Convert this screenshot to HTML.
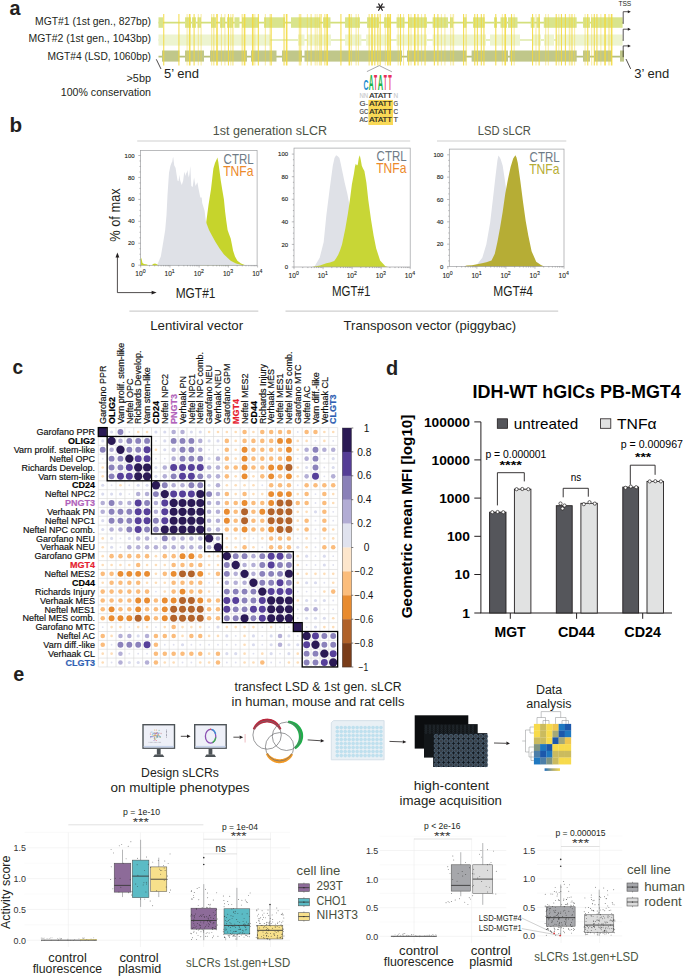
<!DOCTYPE html>
<html><head><meta charset="utf-8"><title>Figure</title>
<style>
html,body{margin:0;padding:0;background:#ffffff;}
body{width:685px;height:976px;overflow:hidden;}
svg{display:block;font-family:"Liberation Sans", sans-serif;}
</style></head><body>
<svg width="685" height="976" viewBox="0 0 685 976">
<rect x="0" y="0" width="685" height="976" fill="#ffffff"/>
<text x="9.60" y="15.00" font-size="21" fill="#231f20" font-weight="bold" textLength="11.00" lengthAdjust="spacingAndGlyphs" >a</text>
<text x="9.40" y="131.50" font-size="21" fill="#231f20" font-weight="bold" textLength="12.60" lengthAdjust="spacingAndGlyphs" >b</text>
<text x="12.60" y="374.00" font-size="21" fill="#231f20" font-weight="bold" textLength="10.60" lengthAdjust="spacingAndGlyphs" >c</text>
<text x="385.90" y="374.50" font-size="21" fill="#231f20" font-weight="bold" textLength="12.20" lengthAdjust="spacingAndGlyphs" >d</text>
<text x="13.20" y="681.00" font-size="21" fill="#231f20" font-weight="bold" textLength="11.00" lengthAdjust="spacingAndGlyphs" >e</text>
<text x="151.00" y="25.30" font-size="10.2" fill="#231f20" text-anchor="end" textLength="116.00" lengthAdjust="spacingAndGlyphs" >MGT#1 (1st gen., 827bp)</text>
<text x="151.00" y="42.20" font-size="10.2" fill="#231f20" text-anchor="end" textLength="122.50" lengthAdjust="spacingAndGlyphs" >MGT#2 (1st gen., 1043bp)</text>
<text x="151.00" y="59.60" font-size="10.2" fill="#231f20" text-anchor="end" textLength="103.40" lengthAdjust="spacingAndGlyphs" >MGT#4 (LSD, 1060bp)</text>
<text x="151.00" y="81.90" font-size="10.2" fill="#231f20" text-anchor="end" textLength="24.50" lengthAdjust="spacingAndGlyphs" >&gt;5bp</text>
<text x="151.00" y="96.30" font-size="10.2" fill="#231f20" text-anchor="end" textLength="90.20" lengthAdjust="spacingAndGlyphs" >100% conservation</text>
<line x1="158.50" y1="22.60" x2="623.00" y2="22.60" stroke="#d3df7c" stroke-width="1.8" />
<line x1="158.50" y1="40.00" x2="623.00" y2="40.00" stroke="#e6eebd" stroke-width="1.8" />
<line x1="158.50" y1="56.60" x2="624.00" y2="56.60" stroke="#b7c07c" stroke-width="1.8" />
<rect x="158.50" y="17.30" width="4.50" height="10.50" fill="#d9e48c" stroke="none" stroke-width="1" />
<rect x="185.00" y="17.30" width="6.00" height="10.50" fill="#d9e48c" stroke="none" stroke-width="1" />
<rect x="192.00" y="17.30" width="4.00" height="10.50" fill="#d9e48c" stroke="none" stroke-width="1" />
<rect x="197.50" y="17.30" width="3.50" height="10.50" fill="#d9e48c" stroke="none" stroke-width="1" />
<rect x="211.00" y="17.30" width="5.00" height="10.50" fill="#d9e48c" stroke="none" stroke-width="1" />
<rect x="220.00" y="17.30" width="5.00" height="10.50" fill="#d9e48c" stroke="none" stroke-width="1" />
<rect x="227.00" y="17.30" width="6.00" height="10.50" fill="#d9e48c" stroke="none" stroke-width="1" />
<rect x="234.50" y="17.30" width="5.00" height="10.50" fill="#d9e48c" stroke="none" stroke-width="1" />
<rect x="242.00" y="17.30" width="17.00" height="10.50" fill="#d9e48c" stroke="none" stroke-width="1" />
<rect x="264.00" y="17.30" width="21.00" height="10.50" fill="#d9e48c" stroke="none" stroke-width="1" />
<rect x="291.00" y="17.30" width="29.50" height="10.50" fill="#d9e48c" stroke="none" stroke-width="1" />
<rect x="323.00" y="17.30" width="7.50" height="10.50" fill="#d9e48c" stroke="none" stroke-width="1" />
<rect x="345.00" y="17.30" width="15.00" height="10.50" fill="#d9e48c" stroke="none" stroke-width="1" />
<rect x="367.00" y="17.30" width="12.00" height="10.50" fill="#d9e48c" stroke="none" stroke-width="1" />
<rect x="384.00" y="17.30" width="6.60" height="10.50" fill="#d9e48c" stroke="none" stroke-width="1" />
<rect x="396.50" y="17.30" width="8.10" height="10.50" fill="#d9e48c" stroke="none" stroke-width="1" />
<rect x="408.00" y="17.30" width="19.00" height="10.50" fill="#d9e48c" stroke="none" stroke-width="1" />
<rect x="432.60" y="17.30" width="15.40" height="10.50" fill="#d9e48c" stroke="none" stroke-width="1" />
<rect x="450.00" y="17.30" width="3.00" height="10.50" fill="#d9e48c" stroke="none" stroke-width="1" />
<rect x="463.00" y="17.30" width="3.50" height="10.50" fill="#d9e48c" stroke="none" stroke-width="1" />
<rect x="473.00" y="17.30" width="11.70" height="10.50" fill="#d9e48c" stroke="none" stroke-width="1" />
<rect x="494.00" y="17.30" width="3.00" height="10.50" fill="#d9e48c" stroke="none" stroke-width="1" />
<rect x="500.50" y="17.30" width="6.50" height="10.50" fill="#d9e48c" stroke="none" stroke-width="1" />
<rect x="508.00" y="17.30" width="9.50" height="10.50" fill="#d9e48c" stroke="none" stroke-width="1" />
<rect x="530.70" y="17.30" width="3.90" height="10.50" fill="#d9e48c" stroke="none" stroke-width="1" />
<rect x="536.50" y="17.30" width="3.50" height="10.50" fill="#d9e48c" stroke="none" stroke-width="1" />
<rect x="543.80" y="17.30" width="32.90" height="10.50" fill="#d9e48c" stroke="none" stroke-width="1" />
<rect x="583.00" y="17.30" width="7.00" height="10.50" fill="#d9e48c" stroke="none" stroke-width="1" />
<rect x="591.00" y="17.30" width="31.60" height="10.50" fill="#d9e48c" stroke="none" stroke-width="1" />
<rect x="158.50" y="34.50" width="112.10" height="11.10" fill="#edf4d0" stroke="none" stroke-width="1" />
<rect x="298.00" y="34.50" width="6.50" height="11.10" fill="#edf4d0" stroke="none" stroke-width="1" />
<rect x="306.90" y="34.50" width="24.10" height="11.10" fill="#edf4d0" stroke="none" stroke-width="1" />
<rect x="345.00" y="34.50" width="16.40" height="11.10" fill="#edf4d0" stroke="none" stroke-width="1" />
<rect x="366.00" y="34.50" width="24.60" height="11.10" fill="#edf4d0" stroke="none" stroke-width="1" />
<rect x="396.50" y="34.50" width="30.50" height="11.10" fill="#edf4d0" stroke="none" stroke-width="1" />
<rect x="432.60" y="34.50" width="53.40" height="11.10" fill="#edf4d0" stroke="none" stroke-width="1" />
<rect x="490.00" y="34.50" width="30.00" height="11.10" fill="#edf4d0" stroke="none" stroke-width="1" />
<rect x="532.00" y="34.50" width="9.00" height="11.10" fill="#edf4d0" stroke="none" stroke-width="1" />
<rect x="544.00" y="34.50" width="10.00" height="11.10" fill="#edf4d0" stroke="none" stroke-width="1" />
<rect x="555.60" y="34.50" width="67.00" height="11.10" fill="#edf4d0" stroke="none" stroke-width="1" />
<rect x="162.00" y="50.50" width="17.50" height="11.10" fill="#c0c78a" stroke="none" stroke-width="1" />
<rect x="185.00" y="50.50" width="19.00" height="11.10" fill="#c0c78a" stroke="none" stroke-width="1" />
<rect x="210.00" y="50.50" width="37.00" height="11.10" fill="#c0c78a" stroke="none" stroke-width="1" />
<rect x="251.00" y="50.50" width="25.50" height="11.10" fill="#c0c78a" stroke="none" stroke-width="1" />
<rect x="282.00" y="50.50" width="20.00" height="11.10" fill="#c0c78a" stroke="none" stroke-width="1" />
<rect x="304.50" y="50.50" width="97.50" height="11.10" fill="#c0c78a" stroke="none" stroke-width="1" />
<rect x="407.00" y="50.50" width="59.50" height="11.10" fill="#c0c78a" stroke="none" stroke-width="1" />
<rect x="471.60" y="50.50" width="36.40" height="11.10" fill="#c0c78a" stroke="none" stroke-width="1" />
<rect x="509.70" y="50.50" width="67.00" height="11.10" fill="#c0c78a" stroke="none" stroke-width="1" />
<rect x="583.00" y="50.50" width="7.00" height="11.10" fill="#c0c78a" stroke="none" stroke-width="1" />
<rect x="594.00" y="50.50" width="18.00" height="11.10" fill="#c0c78a" stroke="none" stroke-width="1" />
<rect x="620.00" y="50.50" width="4.00" height="11.10" fill="#c0c78a" stroke="none" stroke-width="1" />
<rect x="163.18" y="14" width="1.1" height="51.5" fill="#f2d83a" opacity="0.85"/>
<rect x="178.36" y="14" width="1.1" height="51.5" fill="#f2d83a" opacity="0.85"/>
<rect x="186.54" y="14" width="1.1" height="51.5" fill="#f2d83a" opacity="0.45"/>
<rect x="188.88" y="14" width="1.6" height="51.5" fill="#f2d83a" opacity="0.85"/>
<rect x="193.55" y="14" width="1.1" height="51.5" fill="#f2d83a" opacity="0.85"/>
<rect x="197.76" y="14" width="1.1" height="51.5" fill="#f2d83a" opacity="0.45"/>
<rect x="200.56" y="14" width="1.1" height="51.5" fill="#f2d83a" opacity="0.45"/>
<rect x="211.07" y="14" width="1.1" height="51.5" fill="#f2d83a" opacity="0.45"/>
<rect x="212.94" y="14" width="1.6" height="51.5" fill="#f2d83a" opacity="0.45"/>
<rect x="216.21" y="14" width="1.6" height="51.5" fill="#f2d83a" opacity="0.85"/>
<rect x="220.89" y="14" width="1.1" height="51.5" fill="#f2d83a" opacity="0.45"/>
<rect x="224.39" y="14" width="1.1" height="51.5" fill="#f2d83a" opacity="0.45"/>
<rect x="227.90" y="14" width="1.1" height="51.5" fill="#f2d83a" opacity="0.85"/>
<rect x="230.23" y="14" width="1.1" height="51.5" fill="#f2d83a" opacity="0.45"/>
<rect x="232.10" y="14" width="1.6" height="51.5" fill="#f2d83a" opacity="0.45"/>
<rect x="241.45" y="14" width="1.6" height="51.5" fill="#f2d83a" opacity="0.45"/>
<rect x="243.79" y="14" width="1.6" height="51.5" fill="#f2d83a" opacity="0.85"/>
<rect x="251.96" y="14" width="1.6" height="51.5" fill="#f2d83a" opacity="0.85"/>
<rect x="254.30" y="14" width="1.1" height="51.5" fill="#f2d83a" opacity="0.45"/>
<rect x="257.80" y="14" width="1.1" height="51.5" fill="#f2d83a" opacity="0.85"/>
<rect x="264.81" y="14" width="1.1" height="51.5" fill="#f2d83a" opacity="0.45"/>
<rect x="269.49" y="14" width="1.1" height="51.5" fill="#f2d83a" opacity="0.45"/>
<rect x="270.65" y="14" width="1.1" height="51.5" fill="#f2d83a" opacity="0.85"/>
<rect x="283.50" y="14" width="1.1" height="51.5" fill="#f2d83a" opacity="0.85"/>
<rect x="285.84" y="14" width="1.6" height="51.5" fill="#f2d83a" opacity="0.85"/>
<rect x="298.69" y="14" width="1.6" height="51.5" fill="#f2d83a" opacity="0.45"/>
<rect x="299.86" y="14" width="1.6" height="51.5" fill="#f2d83a" opacity="0.45"/>
<rect x="306.87" y="14" width="1.1" height="51.5" fill="#f2d83a" opacity="0.45"/>
<rect x="310.37" y="14" width="1.6" height="51.5" fill="#f2d83a" opacity="0.45"/>
<rect x="314.67" y="14" width="1.1" height="51.5" fill="#f2d83a" opacity="0.45"/>
<rect x="316.54" y="14" width="1.1" height="51.5" fill="#f2d83a" opacity="0.45"/>
<rect x="318.88" y="14" width="1.1" height="51.5" fill="#f2d83a" opacity="0.45"/>
<rect x="320.51" y="14" width="1.1" height="51.5" fill="#f2d83a" opacity="0.85"/>
<rect x="324.02" y="14" width="1.6" height="51.5" fill="#f2d83a" opacity="0.45"/>
<rect x="326.36" y="14" width="1.6" height="51.5" fill="#f2d83a" opacity="0.85"/>
<rect x="340.37" y="14" width="1.1" height="51.5" fill="#f2d83a" opacity="0.85"/>
<rect x="348.55" y="14" width="1.6" height="51.5" fill="#f2d83a" opacity="0.85"/>
<rect x="350.89" y="14" width="1.1" height="51.5" fill="#f2d83a" opacity="0.45"/>
<rect x="355.56" y="14" width="1.1" height="51.5" fill="#f2d83a" opacity="0.45"/>
<rect x="357.90" y="14" width="1.1" height="51.5" fill="#f2d83a" opacity="0.45"/>
<rect x="368.41" y="14" width="1.6" height="51.5" fill="#f2d83a" opacity="0.45"/>
<rect x="371.21" y="14" width="1.6" height="51.5" fill="#f2d83a" opacity="0.85"/>
<rect x="374.25" y="14" width="1.1" height="51.5" fill="#f2d83a" opacity="0.85"/>
<rect x="377.29" y="14" width="1.1" height="51.5" fill="#f2d83a" opacity="0.85"/>
<rect x="379.63" y="14" width="1.1" height="51.5" fill="#f2d83a" opacity="0.85"/>
<rect x="384.77" y="14" width="1.1" height="51.5" fill="#f2d83a" opacity="0.45"/>
<rect x="387.10" y="14" width="1.6" height="51.5" fill="#f2d83a" opacity="0.85"/>
<rect x="389.44" y="14" width="1.6" height="51.5" fill="#f2d83a" opacity="0.85"/>
<rect x="397.62" y="14" width="1.1" height="51.5" fill="#f2d83a" opacity="0.45"/>
<rect x="399.95" y="14" width="1.1" height="51.5" fill="#f2d83a" opacity="0.85"/>
<rect x="402.99" y="14" width="1.1" height="51.5" fill="#f2d83a" opacity="0.45"/>
<rect x="408.13" y="14" width="1.1" height="51.5" fill="#f2d83a" opacity="0.85"/>
<rect x="410.47" y="14" width="1.1" height="51.5" fill="#f2d83a" opacity="0.45"/>
<rect x="413.97" y="14" width="1.6" height="51.5" fill="#f2d83a" opacity="0.85"/>
<rect x="417.48" y="14" width="1.1" height="51.5" fill="#f2d83a" opacity="0.85"/>
<rect x="420.98" y="14" width="1.1" height="51.5" fill="#f2d83a" opacity="0.45"/>
<rect x="424.49" y="14" width="1.1" height="51.5" fill="#f2d83a" opacity="0.85"/>
<rect x="433.83" y="14" width="1.1" height="51.5" fill="#f2d83a" opacity="0.85"/>
<rect x="437.34" y="14" width="1.1" height="51.5" fill="#f2d83a" opacity="0.85"/>
<rect x="440.84" y="14" width="1.1" height="51.5" fill="#f2d83a" opacity="0.45"/>
<rect x="444.35" y="14" width="1.1" height="51.5" fill="#f2d83a" opacity="0.45"/>
<rect x="450.19" y="14" width="1.1" height="51.5" fill="#f2d83a" opacity="0.45"/>
<rect x="452.52" y="14" width="1.6" height="51.5" fill="#f2d83a" opacity="0.45"/>
<rect x="463.04" y="14" width="1.1" height="51.5" fill="#f2d83a" opacity="0.85"/>
<rect x="465.37" y="14" width="1.6" height="51.5" fill="#f2d83a" opacity="0.45"/>
<rect x="474.20" y="14" width="1.1" height="51.5" fill="#f2d83a" opacity="0.85"/>
<rect x="476.82" y="14" width="1.1" height="51.5" fill="#f2d83a" opacity="0.85"/>
<rect x="480.76" y="14" width="1.1" height="51.5" fill="#f2d83a" opacity="0.85"/>
<rect x="483.39" y="14" width="1.1" height="51.5" fill="#f2d83a" opacity="0.85"/>
<rect x="495.22" y="14" width="1.1" height="51.5" fill="#f2d83a" opacity="0.85"/>
<rect x="501.78" y="14" width="1.1" height="51.5" fill="#f2d83a" opacity="0.45"/>
<rect x="504.41" y="14" width="1.6" height="51.5" fill="#f2d83a" opacity="0.85"/>
<rect x="510.98" y="14" width="1.1" height="51.5" fill="#f2d83a" opacity="0.85"/>
<rect x="513.61" y="14" width="1.1" height="51.5" fill="#f2d83a" opacity="0.45"/>
<rect x="532.00" y="14" width="1.1" height="51.5" fill="#f2d83a" opacity="0.85"/>
<rect x="535.42" y="14" width="1.1" height="51.5" fill="#f2d83a" opacity="0.45"/>
<rect x="538.57" y="14" width="1.1" height="51.5" fill="#f2d83a" opacity="0.85"/>
<rect x="545.14" y="14" width="1.1" height="51.5" fill="#f2d83a" opacity="0.45"/>
<rect x="547.76" y="14" width="1.1" height="51.5" fill="#f2d83a" opacity="0.45"/>
<rect x="555.65" y="14" width="1.1" height="51.5" fill="#f2d83a" opacity="0.85"/>
<rect x="558.27" y="14" width="1.1" height="51.5" fill="#f2d83a" opacity="0.45"/>
<rect x="560.90" y="14" width="1.1" height="51.5" fill="#f2d83a" opacity="0.85"/>
<rect x="564.84" y="14" width="1.1" height="51.5" fill="#f2d83a" opacity="0.85"/>
<rect x="568.78" y="14" width="1.6" height="51.5" fill="#f2d83a" opacity="0.45"/>
<rect x="571.41" y="14" width="1.1" height="51.5" fill="#f2d83a" opacity="0.85"/>
<rect x="574.04" y="14" width="1.1" height="51.5" fill="#f2d83a" opacity="0.45"/>
<rect x="584.55" y="14" width="1.1" height="51.5" fill="#f2d83a" opacity="0.45"/>
<rect x="587.18" y="14" width="1.1" height="51.5" fill="#f2d83a" opacity="0.85"/>
<rect x="591.12" y="14" width="1.1" height="51.5" fill="#f2d83a" opacity="0.45"/>
<rect x="593.74" y="14" width="1.1" height="51.5" fill="#f2d83a" opacity="0.85"/>
<rect x="596.37" y="14" width="1.1" height="51.5" fill="#f2d83a" opacity="0.85"/>
<rect x="600.31" y="14" width="1.1" height="51.5" fill="#f2d83a" opacity="0.45"/>
<rect x="604.25" y="14" width="1.6" height="51.5" fill="#f2d83a" opacity="0.85"/>
<rect x="608.19" y="14" width="1.6" height="51.5" fill="#f2d83a" opacity="0.45"/>
<rect x="610.82" y="14" width="1.6" height="51.5" fill="#f2d83a" opacity="0.85"/>
<path d="M623.2,23.9 L623.2,11.7 L628.5,11.7" fill="none" stroke="#231f20" stroke-width="0.75"/>
<path d="M630.8,11.7 L627.8,10.2 L627.8,13.2 Z" fill="#231f20"/>
<path d="M623.2,40.9 L623.2,29.2 L628.5,29.2" fill="none" stroke="#231f20" stroke-width="0.75"/>
<path d="M630.8,29.2 L627.8,27.7 L627.8,30.7 Z" fill="#231f20"/>
<path d="M623.2,57.2 L623.2,45.9 L628.5,45.9" fill="none" stroke="#231f20" stroke-width="0.75"/>
<path d="M630.8,45.9 L627.8,44.4 L627.8,47.4 Z" fill="#231f20"/>
<text x="618.40" y="6.00" font-size="8.0" fill="#231f20" textLength="12.90" lengthAdjust="spacingAndGlyphs" >TSS</text>
<line x1="156.30" y1="59.30" x2="161.00" y2="69.00" stroke="#231f20" stroke-width="0.8" />
<text x="164.00" y="77.70" font-size="12" fill="#231f20" textLength="35.00" lengthAdjust="spacingAndGlyphs" >5’ end</text>
<line x1="626.00" y1="59.00" x2="630.70" y2="68.90" stroke="#231f20" stroke-width="0.8" />
<text x="634.20" y="77.70" font-size="12" fill="#231f20" textLength="35.00" lengthAdjust="spacingAndGlyphs" >3’ end</text>
<line x1="376.80" y1="7.10" x2="384.20" y2="7.10" stroke="#231f20" stroke-width="1.2" stroke-linecap="round"/>
<line x1="378.65" y1="3.90" x2="382.35" y2="10.30" stroke="#231f20" stroke-width="1.2" stroke-linecap="round"/>
<line x1="382.35" y1="3.90" x2="378.65" y2="10.30" stroke="#231f20" stroke-width="1.2" stroke-linecap="round"/>
<path d="M366.9,71.6 L379.3,65.6 L391.9,71.8" fill="none" stroke="#6d6e71" stroke-width="0.6"/>
<text x="0" y="0" font-size="10" font-weight="bold" fill="#1f8fd0" text-anchor="middle" transform="translate(366.10,90.10) scale(0.687,1.486)">C</text>
<text x="0" y="0" font-size="10" font-weight="bold" fill="#1db34a" text-anchor="middle" transform="translate(371.20,90.10) scale(0.687,2.125)">A</text>
<text x="0" y="0" font-size="10" font-weight="bold" fill="#e8305a" text-anchor="middle" transform="translate(375.50,90.10) scale(0.507,2.125)">T</text>
<text x="0" y="0" font-size="10" font-weight="bold" fill="#1db34a" text-anchor="middle" transform="translate(380.50,90.10) scale(0.746,2.125)">A</text>
<text x="0" y="0" font-size="10" font-weight="bold" fill="#e8305a" text-anchor="middle" transform="translate(385.30,90.10) scale(0.507,2.125)">T</text>
<text x="0" y="0" font-size="10" font-weight="bold" fill="#e8305a" text-anchor="middle" transform="translate(390.10,90.10) scale(0.567,2.125)">T</text>
<rect x="368.40" y="99.90" width="24.60" height="25.10" fill="#f9d956" stroke="none" stroke-width="1" />
<text x="368.10" y="98.20" font-size="7.4" fill="#c8c9cc" text-anchor="end" textLength="8.60" lengthAdjust="spacingAndGlyphs" stroke="#c8c9cc" stroke-width="0.15">NN</text>
<text x="369.20" y="98.20" font-size="7.4" fill="#231f20" textLength="22.80" lengthAdjust="spacingAndGlyphs" stroke="#231f20" stroke-width="0.2">ATATT</text>
<text x="393.60" y="98.20" font-size="7.4" fill="#c8c9cc" textLength="4.60" lengthAdjust="spacingAndGlyphs" stroke="#c8c9cc" stroke-width="0.15">N</text>
<text x="368.10" y="106.20" font-size="7.4" fill="#3d3d3d" text-anchor="end" textLength="8.60" lengthAdjust="spacingAndGlyphs" stroke="#3d3d3d" stroke-width="0.15">G-</text>
<text x="369.20" y="106.20" font-size="7.4" fill="#231f20" textLength="22.80" lengthAdjust="spacingAndGlyphs" stroke="#231f20" stroke-width="0.2">ATATT</text>
<text x="393.60" y="106.20" font-size="7.4" fill="#3d3d3d" textLength="4.60" lengthAdjust="spacingAndGlyphs" stroke="#3d3d3d" stroke-width="0.15">G</text>
<text x="368.10" y="113.90" font-size="7.4" fill="#3d3d3d" text-anchor="end" textLength="8.60" lengthAdjust="spacingAndGlyphs" stroke="#3d3d3d" stroke-width="0.15">GC</text>
<text x="369.20" y="113.90" font-size="7.4" fill="#231f20" textLength="22.80" lengthAdjust="spacingAndGlyphs" stroke="#231f20" stroke-width="0.2">ATATT</text>
<text x="393.60" y="113.90" font-size="7.4" fill="#3d3d3d" textLength="4.60" lengthAdjust="spacingAndGlyphs" stroke="#3d3d3d" stroke-width="0.15">C</text>
<text x="368.10" y="121.60" font-size="7.4" fill="#3d3d3d" text-anchor="end" textLength="8.60" lengthAdjust="spacingAndGlyphs" stroke="#3d3d3d" stroke-width="0.15">AC</text>
<text x="369.20" y="121.60" font-size="7.4" fill="#231f20" textLength="22.80" lengthAdjust="spacingAndGlyphs" stroke="#231f20" stroke-width="0.2">ATATT</text>
<text x="393.60" y="121.60" font-size="7.4" fill="#3d3d3d" textLength="4.60" lengthAdjust="spacingAndGlyphs" stroke="#3d3d3d" stroke-width="0.15">T</text>
<text x="212.80" y="134.60" font-size="13.2" fill="#4d5346" textLength="114.40" lengthAdjust="spacingAndGlyphs" >1st generation sLCR</text>
<text x="477.80" y="135.10" font-size="13.2" fill="#4d5346" textLength="53.10" lengthAdjust="spacingAndGlyphs" >LSD sLCR</text>
<line x1="137.20" y1="141.00" x2="410.20" y2="141.00" stroke="#cfcfcf" stroke-width="1.2" />
<line x1="437.00" y1="141.00" x2="566.30" y2="141.00" stroke="#cfcfcf" stroke-width="1.2" />
<line x1="129.40" y1="311.10" x2="258.30" y2="311.10" stroke="#cfcfcf" stroke-width="1.2" />
<line x1="285.50" y1="311.10" x2="558.20" y2="311.10" stroke="#cfcfcf" stroke-width="1.2" />
<text x="150.20" y="329.50" font-size="12.8" fill="#231f20" textLength="93.00" lengthAdjust="spacingAndGlyphs" >Lentiviral vector</text>
<text x="343.60" y="329.50" font-size="12.8" fill="#231f20" textLength="172.60" lengthAdjust="spacingAndGlyphs" >Transposon vector (piggybac)</text>
<rect x="140.50" y="150.40" width="116.60" height="114.90" fill="#ffffff" stroke="none"/>
<path d="M200.00,265.30 L206.00,224.00 L208.50,205.00 L211.00,189.30 L212.30,178.00 L213.40,168.40 L215.00,163.00 L216.40,160.00 L217.40,157.60 L218.30,162.00 L219.40,170.00 L220.80,180.70 L222.30,190.00 L223.90,199.20 L225.10,211.50 L226.30,221.00 L227.60,229.90 L229.00,234.00 L230.70,238.50 L232.00,245.00 L233.10,250.80 L235.00,256.50 L237.40,260.70 L241.00,263.50 L245.40,265.30 Z" fill="#c6d42c" />
<path d="M156.50,265.30 L157.10,265.20 L160.80,256.60 L163.30,241.70 L165.20,230.00 L166.50,215.00 L167.50,195.00 L169.00,172.80 L170.40,166.10 L171.50,163.00 L172.30,161.40 L172.80,158.00 L173.20,157.10 L173.60,160.00 L174.20,165.20 L175.60,168.00 L176.50,174.00 L177.50,180.40 L178.50,181.30 L179.00,178.00 L179.40,174.70 L179.90,179.00 L180.40,181.30 L181.80,185.10 L183.20,180.40 L184.00,174.00 L184.60,171.80 L185.30,176.00 L186.00,173.70 L187.00,172.00 L187.50,169.90 L188.20,175.00 L188.90,177.50 L189.70,172.00 L190.30,166.10 L190.80,175.00 L191.30,186.10 L192.70,187.00 L193.50,181.00 L194.10,177.50 L194.80,182.00 L195.50,186.10 L196.50,184.00 L197.40,182.30 L198.40,188.00 L200.30,197.40 L201.70,197.40 L202.20,203.10 L204.60,210.70 L206.00,222.10 L209.00,230.00 L212.20,236.00 L215.50,242.00 L219.60,248.40 L224.00,254.50 L230.70,260.70 L236.00,263.50 L243.00,265.20 Z" fill="#dfe1e7" />
<rect x="140.50" y="150.40" width="116.60" height="114.90" fill="none" stroke="#9d9fa2" stroke-width="0.7"/>
<line x1="138.30" y1="265.20" x2="140.50" y2="265.20" stroke="#6d6e71" stroke-width="0.45" />
<line x1="139.40" y1="259.71" x2="140.50" y2="259.71" stroke="#6d6e71" stroke-width="0.45" />
<line x1="139.40" y1="254.23" x2="140.50" y2="254.23" stroke="#6d6e71" stroke-width="0.45" />
<line x1="139.40" y1="248.75" x2="140.50" y2="248.75" stroke="#6d6e71" stroke-width="0.45" />
<line x1="138.30" y1="243.26" x2="140.50" y2="243.26" stroke="#6d6e71" stroke-width="0.45" />
<line x1="139.40" y1="237.77" x2="140.50" y2="237.77" stroke="#6d6e71" stroke-width="0.45" />
<line x1="139.40" y1="232.29" x2="140.50" y2="232.29" stroke="#6d6e71" stroke-width="0.45" />
<line x1="139.40" y1="226.81" x2="140.50" y2="226.81" stroke="#6d6e71" stroke-width="0.45" />
<line x1="138.30" y1="221.32" x2="140.50" y2="221.32" stroke="#6d6e71" stroke-width="0.45" />
<line x1="139.40" y1="215.84" x2="140.50" y2="215.84" stroke="#6d6e71" stroke-width="0.45" />
<line x1="139.40" y1="210.35" x2="140.50" y2="210.35" stroke="#6d6e71" stroke-width="0.45" />
<line x1="139.40" y1="204.87" x2="140.50" y2="204.87" stroke="#6d6e71" stroke-width="0.45" />
<line x1="138.30" y1="199.38" x2="140.50" y2="199.38" stroke="#6d6e71" stroke-width="0.45" />
<line x1="139.40" y1="193.89" x2="140.50" y2="193.89" stroke="#6d6e71" stroke-width="0.45" />
<line x1="139.40" y1="188.41" x2="140.50" y2="188.41" stroke="#6d6e71" stroke-width="0.45" />
<line x1="139.40" y1="182.92" x2="140.50" y2="182.92" stroke="#6d6e71" stroke-width="0.45" />
<line x1="138.30" y1="177.44" x2="140.50" y2="177.44" stroke="#6d6e71" stroke-width="0.45" />
<line x1="139.40" y1="171.96" x2="140.50" y2="171.96" stroke="#6d6e71" stroke-width="0.45" />
<line x1="139.40" y1="166.47" x2="140.50" y2="166.47" stroke="#6d6e71" stroke-width="0.45" />
<line x1="139.40" y1="160.99" x2="140.50" y2="160.99" stroke="#6d6e71" stroke-width="0.45" />
<line x1="138.30" y1="155.50" x2="140.50" y2="155.50" stroke="#6d6e71" stroke-width="0.45" />
<text x="134.60" y="267.30" font-size="6.0" fill="#231f20" text-anchor="end" stroke="#231f20" stroke-width="0.12">0</text>
<text x="134.60" y="245.36" font-size="6.0" fill="#231f20" text-anchor="end" stroke="#231f20" stroke-width="0.12">20</text>
<text x="134.60" y="223.42" font-size="6.0" fill="#231f20" text-anchor="end" stroke="#231f20" stroke-width="0.12">40</text>
<text x="134.60" y="201.48" font-size="6.0" fill="#231f20" text-anchor="end" stroke="#231f20" stroke-width="0.12">60</text>
<text x="134.60" y="179.54" font-size="6.0" fill="#231f20" text-anchor="end" stroke="#231f20" stroke-width="0.12">80</text>
<text x="134.60" y="157.60" font-size="6.0" fill="#231f20" text-anchor="end" stroke="#231f20" stroke-width="0.12">100</text>
<line x1="140.70" y1="265.30" x2="140.70" y2="267.50" stroke="#6d6e71" stroke-width="0.45" />
<line x1="149.50" y1="265.30" x2="149.50" y2="266.40" stroke="#6d6e71" stroke-width="0.45" />
<line x1="154.64" y1="265.30" x2="154.64" y2="266.40" stroke="#6d6e71" stroke-width="0.45" />
<line x1="158.29" y1="265.30" x2="158.29" y2="266.40" stroke="#6d6e71" stroke-width="0.45" />
<line x1="161.12" y1="265.30" x2="161.12" y2="266.40" stroke="#6d6e71" stroke-width="0.45" />
<line x1="163.44" y1="265.30" x2="163.44" y2="266.40" stroke="#6d6e71" stroke-width="0.45" />
<line x1="165.39" y1="265.30" x2="165.39" y2="266.40" stroke="#6d6e71" stroke-width="0.45" />
<line x1="167.09" y1="265.30" x2="167.09" y2="266.40" stroke="#6d6e71" stroke-width="0.45" />
<line x1="168.58" y1="265.30" x2="168.58" y2="266.40" stroke="#6d6e71" stroke-width="0.45" />
<line x1="169.92" y1="265.30" x2="169.92" y2="267.50" stroke="#6d6e71" stroke-width="0.45" />
<line x1="178.72" y1="265.30" x2="178.72" y2="266.40" stroke="#6d6e71" stroke-width="0.45" />
<line x1="183.86" y1="265.30" x2="183.86" y2="266.40" stroke="#6d6e71" stroke-width="0.45" />
<line x1="187.51" y1="265.30" x2="187.51" y2="266.40" stroke="#6d6e71" stroke-width="0.45" />
<line x1="190.34" y1="265.30" x2="190.34" y2="266.40" stroke="#6d6e71" stroke-width="0.45" />
<line x1="192.66" y1="265.30" x2="192.66" y2="266.40" stroke="#6d6e71" stroke-width="0.45" />
<line x1="194.61" y1="265.30" x2="194.61" y2="266.40" stroke="#6d6e71" stroke-width="0.45" />
<line x1="196.31" y1="265.30" x2="196.31" y2="266.40" stroke="#6d6e71" stroke-width="0.45" />
<line x1="197.80" y1="265.30" x2="197.80" y2="266.40" stroke="#6d6e71" stroke-width="0.45" />
<line x1="199.14" y1="265.30" x2="199.14" y2="267.50" stroke="#6d6e71" stroke-width="0.45" />
<line x1="207.94" y1="265.30" x2="207.94" y2="266.40" stroke="#6d6e71" stroke-width="0.45" />
<line x1="213.08" y1="265.30" x2="213.08" y2="266.40" stroke="#6d6e71" stroke-width="0.45" />
<line x1="216.73" y1="265.30" x2="216.73" y2="266.40" stroke="#6d6e71" stroke-width="0.45" />
<line x1="219.56" y1="265.30" x2="219.56" y2="266.40" stroke="#6d6e71" stroke-width="0.45" />
<line x1="221.88" y1="265.30" x2="221.88" y2="266.40" stroke="#6d6e71" stroke-width="0.45" />
<line x1="223.83" y1="265.30" x2="223.83" y2="266.40" stroke="#6d6e71" stroke-width="0.45" />
<line x1="225.53" y1="265.30" x2="225.53" y2="266.40" stroke="#6d6e71" stroke-width="0.45" />
<line x1="227.02" y1="265.30" x2="227.02" y2="266.40" stroke="#6d6e71" stroke-width="0.45" />
<line x1="228.36" y1="265.30" x2="228.36" y2="267.50" stroke="#6d6e71" stroke-width="0.45" />
<line x1="237.16" y1="265.30" x2="237.16" y2="266.40" stroke="#6d6e71" stroke-width="0.45" />
<line x1="242.30" y1="265.30" x2="242.30" y2="266.40" stroke="#6d6e71" stroke-width="0.45" />
<line x1="245.95" y1="265.30" x2="245.95" y2="266.40" stroke="#6d6e71" stroke-width="0.45" />
<line x1="248.78" y1="265.30" x2="248.78" y2="266.40" stroke="#6d6e71" stroke-width="0.45" />
<line x1="251.10" y1="265.30" x2="251.10" y2="266.40" stroke="#6d6e71" stroke-width="0.45" />
<line x1="253.05" y1="265.30" x2="253.05" y2="266.40" stroke="#6d6e71" stroke-width="0.45" />
<line x1="254.75" y1="265.30" x2="254.75" y2="266.40" stroke="#6d6e71" stroke-width="0.45" />
<line x1="256.24" y1="265.30" x2="256.24" y2="266.40" stroke="#6d6e71" stroke-width="0.45" />
<line x1="257.58" y1="265.30" x2="257.58" y2="267.50" stroke="#6d6e71" stroke-width="0.45" />
<text x="140.40" y="276.30" font-size="6.6" fill="#231f20" stroke="#231f20" stroke-width="0.1" text-anchor="middle">10<tspan dy="-2.9" font-size="5.2">0</tspan></text>
<text x="169.62" y="276.30" font-size="6.6" fill="#231f20" stroke="#231f20" stroke-width="0.1" text-anchor="middle">10<tspan dy="-2.9" font-size="5.2">1</tspan></text>
<text x="198.84" y="276.30" font-size="6.6" fill="#231f20" stroke="#231f20" stroke-width="0.1" text-anchor="middle">10<tspan dy="-2.9" font-size="5.2">2</tspan></text>
<text x="228.06" y="276.30" font-size="6.6" fill="#231f20" stroke="#231f20" stroke-width="0.1" text-anchor="middle">10<tspan dy="-2.9" font-size="5.2">3</tspan></text>
<text x="257.28" y="276.30" font-size="6.6" fill="#231f20" stroke="#231f20" stroke-width="0.1" text-anchor="middle">10<tspan dy="-2.9" font-size="5.2">4</tspan></text>
<text x="253.60" y="163.60" font-size="14.2" fill="#6f7c86" text-anchor="end" textLength="30.00" lengthAdjust="spacingAndGlyphs" >CTRL</text>
<text x="253.40" y="175.50" font-size="14.2" fill="#ec8a2c" text-anchor="end" textLength="30.20" lengthAdjust="spacingAndGlyphs" >TNFa</text>
<path d="M140.90,265.20 L140.90,257.50 L141.60,259.00 L142.50,263.00 L144.00,264.00 L147.00,264.40 L148.00,265.20 Z" fill="#c6d42c" />
<path d="M152.00,265.20 L153.00,264.00 L155.00,263.60 L157.00,264.30 L158.00,265.20 Z" fill="#c6d42c" />
<rect x="294.00" y="148.10" width="116.20" height="118.90" fill="#ffffff" stroke="none"/>
<path d="M312.00,267.00 L314.50,266.50 L319.70,257.70 L323.70,242.00 L326.30,215.70 L329.60,189.40 L332.80,165.80 L334.50,158.00 L336.10,155.30 L337.50,156.00 L339.40,157.90 L340.60,163.00 L342.00,169.70 L343.30,176.00 L344.70,182.80 L347.30,193.40 L349.30,203.90 L352.00,225.00 L355.20,255.10 L359.10,267.00 Z" fill="#dfe1e7" />
<path d="M312.00,267.00 L314.50,266.60 L320.00,265.50 L326.30,263.20 L330.00,262.50 L334.20,261.00 L336.00,258.50 L338.10,255.10 L340.00,250.50 L342.00,244.60 L345.30,228.80 L348.00,213.00 L349.90,199.90 L351.90,184.20 L353.90,173.70 L355.00,166.50 L355.80,163.80 L357.00,165.50 L357.80,164.50 L358.80,158.00 L359.80,155.30 L360.80,160.00 L361.80,165.80 L363.00,168.50 L364.40,171.00 L366.40,182.80 L368.30,199.90 L371.00,219.60 L373.60,235.40 L376.20,248.50 L380.10,260.40 L385.40,266.30 L388.00,267.00 Z" fill="#c8d636" />
<rect x="294.00" y="148.10" width="116.20" height="118.90" fill="none" stroke="#9d9fa2" stroke-width="0.7"/>
<line x1="291.80" y1="267.00" x2="294.00" y2="267.00" stroke="#6d6e71" stroke-width="0.45" />
<line x1="292.90" y1="261.36" x2="294.00" y2="261.36" stroke="#6d6e71" stroke-width="0.45" />
<line x1="292.90" y1="255.71" x2="294.00" y2="255.71" stroke="#6d6e71" stroke-width="0.45" />
<line x1="292.90" y1="250.06" x2="294.00" y2="250.06" stroke="#6d6e71" stroke-width="0.45" />
<line x1="291.80" y1="244.42" x2="294.00" y2="244.42" stroke="#6d6e71" stroke-width="0.45" />
<line x1="292.90" y1="238.78" x2="294.00" y2="238.78" stroke="#6d6e71" stroke-width="0.45" />
<line x1="292.90" y1="233.13" x2="294.00" y2="233.13" stroke="#6d6e71" stroke-width="0.45" />
<line x1="292.90" y1="227.49" x2="294.00" y2="227.49" stroke="#6d6e71" stroke-width="0.45" />
<line x1="291.80" y1="221.84" x2="294.00" y2="221.84" stroke="#6d6e71" stroke-width="0.45" />
<line x1="292.90" y1="216.19" x2="294.00" y2="216.19" stroke="#6d6e71" stroke-width="0.45" />
<line x1="292.90" y1="210.55" x2="294.00" y2="210.55" stroke="#6d6e71" stroke-width="0.45" />
<line x1="292.90" y1="204.91" x2="294.00" y2="204.91" stroke="#6d6e71" stroke-width="0.45" />
<line x1="291.80" y1="199.26" x2="294.00" y2="199.26" stroke="#6d6e71" stroke-width="0.45" />
<line x1="292.90" y1="193.62" x2="294.00" y2="193.62" stroke="#6d6e71" stroke-width="0.45" />
<line x1="292.90" y1="187.97" x2="294.00" y2="187.97" stroke="#6d6e71" stroke-width="0.45" />
<line x1="292.90" y1="182.32" x2="294.00" y2="182.32" stroke="#6d6e71" stroke-width="0.45" />
<line x1="291.80" y1="176.68" x2="294.00" y2="176.68" stroke="#6d6e71" stroke-width="0.45" />
<line x1="292.90" y1="171.03" x2="294.00" y2="171.03" stroke="#6d6e71" stroke-width="0.45" />
<line x1="292.90" y1="165.39" x2="294.00" y2="165.39" stroke="#6d6e71" stroke-width="0.45" />
<line x1="292.90" y1="159.75" x2="294.00" y2="159.75" stroke="#6d6e71" stroke-width="0.45" />
<line x1="291.80" y1="154.10" x2="294.00" y2="154.10" stroke="#6d6e71" stroke-width="0.45" />
<text x="288.10" y="269.10" font-size="6.0" fill="#231f20" text-anchor="end" stroke="#231f20" stroke-width="0.12">0</text>
<text x="288.10" y="246.52" font-size="6.0" fill="#231f20" text-anchor="end" stroke="#231f20" stroke-width="0.12">20</text>
<text x="288.10" y="223.94" font-size="6.0" fill="#231f20" text-anchor="end" stroke="#231f20" stroke-width="0.12">40</text>
<text x="288.10" y="201.36" font-size="6.0" fill="#231f20" text-anchor="end" stroke="#231f20" stroke-width="0.12">60</text>
<text x="288.10" y="178.78" font-size="6.0" fill="#231f20" text-anchor="end" stroke="#231f20" stroke-width="0.12">80</text>
<text x="288.10" y="156.20" font-size="6.0" fill="#231f20" text-anchor="end" stroke="#231f20" stroke-width="0.12">100</text>
<line x1="294.00" y1="267.00" x2="294.00" y2="269.20" stroke="#6d6e71" stroke-width="0.45" />
<line x1="302.74" y1="267.00" x2="302.74" y2="268.10" stroke="#6d6e71" stroke-width="0.45" />
<line x1="307.86" y1="267.00" x2="307.86" y2="268.10" stroke="#6d6e71" stroke-width="0.45" />
<line x1="311.49" y1="267.00" x2="311.49" y2="268.10" stroke="#6d6e71" stroke-width="0.45" />
<line x1="314.31" y1="267.00" x2="314.31" y2="268.10" stroke="#6d6e71" stroke-width="0.45" />
<line x1="316.61" y1="267.00" x2="316.61" y2="268.10" stroke="#6d6e71" stroke-width="0.45" />
<line x1="318.55" y1="267.00" x2="318.55" y2="268.10" stroke="#6d6e71" stroke-width="0.45" />
<line x1="320.23" y1="267.00" x2="320.23" y2="268.10" stroke="#6d6e71" stroke-width="0.45" />
<line x1="321.72" y1="267.00" x2="321.72" y2="268.10" stroke="#6d6e71" stroke-width="0.45" />
<line x1="323.05" y1="267.00" x2="323.05" y2="269.20" stroke="#6d6e71" stroke-width="0.45" />
<line x1="331.79" y1="267.00" x2="331.79" y2="268.10" stroke="#6d6e71" stroke-width="0.45" />
<line x1="336.91" y1="267.00" x2="336.91" y2="268.10" stroke="#6d6e71" stroke-width="0.45" />
<line x1="340.54" y1="267.00" x2="340.54" y2="268.10" stroke="#6d6e71" stroke-width="0.45" />
<line x1="343.36" y1="267.00" x2="343.36" y2="268.10" stroke="#6d6e71" stroke-width="0.45" />
<line x1="345.66" y1="267.00" x2="345.66" y2="268.10" stroke="#6d6e71" stroke-width="0.45" />
<line x1="347.60" y1="267.00" x2="347.60" y2="268.10" stroke="#6d6e71" stroke-width="0.45" />
<line x1="349.28" y1="267.00" x2="349.28" y2="268.10" stroke="#6d6e71" stroke-width="0.45" />
<line x1="350.77" y1="267.00" x2="350.77" y2="268.10" stroke="#6d6e71" stroke-width="0.45" />
<line x1="352.10" y1="267.00" x2="352.10" y2="269.20" stroke="#6d6e71" stroke-width="0.45" />
<line x1="360.84" y1="267.00" x2="360.84" y2="268.10" stroke="#6d6e71" stroke-width="0.45" />
<line x1="365.96" y1="267.00" x2="365.96" y2="268.10" stroke="#6d6e71" stroke-width="0.45" />
<line x1="369.59" y1="267.00" x2="369.59" y2="268.10" stroke="#6d6e71" stroke-width="0.45" />
<line x1="372.41" y1="267.00" x2="372.41" y2="268.10" stroke="#6d6e71" stroke-width="0.45" />
<line x1="374.71" y1="267.00" x2="374.71" y2="268.10" stroke="#6d6e71" stroke-width="0.45" />
<line x1="376.65" y1="267.00" x2="376.65" y2="268.10" stroke="#6d6e71" stroke-width="0.45" />
<line x1="378.33" y1="267.00" x2="378.33" y2="268.10" stroke="#6d6e71" stroke-width="0.45" />
<line x1="379.82" y1="267.00" x2="379.82" y2="268.10" stroke="#6d6e71" stroke-width="0.45" />
<line x1="381.15" y1="267.00" x2="381.15" y2="269.20" stroke="#6d6e71" stroke-width="0.45" />
<line x1="389.89" y1="267.00" x2="389.89" y2="268.10" stroke="#6d6e71" stroke-width="0.45" />
<line x1="395.01" y1="267.00" x2="395.01" y2="268.10" stroke="#6d6e71" stroke-width="0.45" />
<line x1="398.64" y1="267.00" x2="398.64" y2="268.10" stroke="#6d6e71" stroke-width="0.45" />
<line x1="401.46" y1="267.00" x2="401.46" y2="268.10" stroke="#6d6e71" stroke-width="0.45" />
<line x1="403.76" y1="267.00" x2="403.76" y2="268.10" stroke="#6d6e71" stroke-width="0.45" />
<line x1="405.70" y1="267.00" x2="405.70" y2="268.10" stroke="#6d6e71" stroke-width="0.45" />
<line x1="407.38" y1="267.00" x2="407.38" y2="268.10" stroke="#6d6e71" stroke-width="0.45" />
<line x1="408.87" y1="267.00" x2="408.87" y2="268.10" stroke="#6d6e71" stroke-width="0.45" />
<line x1="410.20" y1="267.00" x2="410.20" y2="269.20" stroke="#6d6e71" stroke-width="0.45" />
<text x="293.70" y="278.00" font-size="6.6" fill="#231f20" stroke="#231f20" stroke-width="0.1" text-anchor="middle">10<tspan dy="-2.9" font-size="5.2">0</tspan></text>
<text x="322.75" y="278.00" font-size="6.6" fill="#231f20" stroke="#231f20" stroke-width="0.1" text-anchor="middle">10<tspan dy="-2.9" font-size="5.2">1</tspan></text>
<text x="351.80" y="278.00" font-size="6.6" fill="#231f20" stroke="#231f20" stroke-width="0.1" text-anchor="middle">10<tspan dy="-2.9" font-size="5.2">2</tspan></text>
<text x="380.85" y="278.00" font-size="6.6" fill="#231f20" stroke="#231f20" stroke-width="0.1" text-anchor="middle">10<tspan dy="-2.9" font-size="5.2">3</tspan></text>
<text x="409.90" y="278.00" font-size="6.6" fill="#231f20" stroke="#231f20" stroke-width="0.1" text-anchor="middle">10<tspan dy="-2.9" font-size="5.2">4</tspan></text>
<text x="406.60" y="161.30" font-size="14.2" fill="#6f7c86" text-anchor="end" textLength="30.00" lengthAdjust="spacingAndGlyphs" >CTRL</text>
<text x="406.40" y="173.20" font-size="14.2" fill="#ec8a2c" text-anchor="end" textLength="30.20" lengthAdjust="spacingAndGlyphs" >TNFa</text>
<rect x="449.30" y="149.10" width="114.70" height="117.40" fill="#ffffff" stroke="none"/>
<path d="M472.00,266.50 L477.10,264.30 L482.30,257.70 L486.30,244.60 L490.20,222.30 L492.80,199.90 L495.50,176.30 L497.40,160.50 L498.40,155.60 L499.50,157.00 L500.70,159.20 L502.70,165.80 L504.70,178.90 L506.00,188.10 L509.00,215.00 L512.00,245.00 L515.00,266.50 Z" fill="#dfe1e7" />
<path d="M464.00,266.50 L466.60,265.60 L472.00,265.20 L477.10,264.30 L482.00,263.30 L486.30,262.30 L491.50,260.40 L494.80,253.80 L497.40,242.00 L500.10,227.50 L502.70,211.80 L505.30,193.40 L508.00,178.90 L510.60,167.10 L513.20,158.50 L515.40,155.30 L516.50,157.50 L517.80,163.10 L520.40,181.50 L523.10,202.60 L525.70,221.00 L528.30,235.40 L531.60,251.20 L536.20,261.70 L541.00,265.00 L544.10,266.50 Z" fill="#b6ad35" />
<rect x="449.30" y="149.10" width="114.70" height="117.40" fill="none" stroke="#9d9fa2" stroke-width="0.7"/>
<line x1="447.10" y1="266.50" x2="449.30" y2="266.50" stroke="#6d6e71" stroke-width="0.45" />
<line x1="448.20" y1="260.92" x2="449.30" y2="260.92" stroke="#6d6e71" stroke-width="0.45" />
<line x1="448.20" y1="255.33" x2="449.30" y2="255.33" stroke="#6d6e71" stroke-width="0.45" />
<line x1="448.20" y1="249.75" x2="449.30" y2="249.75" stroke="#6d6e71" stroke-width="0.45" />
<line x1="447.10" y1="244.16" x2="449.30" y2="244.16" stroke="#6d6e71" stroke-width="0.45" />
<line x1="448.20" y1="238.57" x2="449.30" y2="238.57" stroke="#6d6e71" stroke-width="0.45" />
<line x1="448.20" y1="232.99" x2="449.30" y2="232.99" stroke="#6d6e71" stroke-width="0.45" />
<line x1="448.20" y1="227.41" x2="449.30" y2="227.41" stroke="#6d6e71" stroke-width="0.45" />
<line x1="447.10" y1="221.82" x2="449.30" y2="221.82" stroke="#6d6e71" stroke-width="0.45" />
<line x1="448.20" y1="216.24" x2="449.30" y2="216.24" stroke="#6d6e71" stroke-width="0.45" />
<line x1="448.20" y1="210.65" x2="449.30" y2="210.65" stroke="#6d6e71" stroke-width="0.45" />
<line x1="448.20" y1="205.06" x2="449.30" y2="205.06" stroke="#6d6e71" stroke-width="0.45" />
<line x1="447.10" y1="199.48" x2="449.30" y2="199.48" stroke="#6d6e71" stroke-width="0.45" />
<line x1="448.20" y1="193.90" x2="449.30" y2="193.90" stroke="#6d6e71" stroke-width="0.45" />
<line x1="448.20" y1="188.31" x2="449.30" y2="188.31" stroke="#6d6e71" stroke-width="0.45" />
<line x1="448.20" y1="182.72" x2="449.30" y2="182.72" stroke="#6d6e71" stroke-width="0.45" />
<line x1="447.10" y1="177.14" x2="449.30" y2="177.14" stroke="#6d6e71" stroke-width="0.45" />
<line x1="448.20" y1="171.56" x2="449.30" y2="171.56" stroke="#6d6e71" stroke-width="0.45" />
<line x1="448.20" y1="165.97" x2="449.30" y2="165.97" stroke="#6d6e71" stroke-width="0.45" />
<line x1="448.20" y1="160.39" x2="449.30" y2="160.39" stroke="#6d6e71" stroke-width="0.45" />
<line x1="447.10" y1="154.80" x2="449.30" y2="154.80" stroke="#6d6e71" stroke-width="0.45" />
<text x="443.40" y="268.60" font-size="6.0" fill="#231f20" text-anchor="end" stroke="#231f20" stroke-width="0.12">0</text>
<text x="443.40" y="246.26" font-size="6.0" fill="#231f20" text-anchor="end" stroke="#231f20" stroke-width="0.12">20</text>
<text x="443.40" y="223.92" font-size="6.0" fill="#231f20" text-anchor="end" stroke="#231f20" stroke-width="0.12">40</text>
<text x="443.40" y="201.58" font-size="6.0" fill="#231f20" text-anchor="end" stroke="#231f20" stroke-width="0.12">60</text>
<text x="443.40" y="179.24" font-size="6.0" fill="#231f20" text-anchor="end" stroke="#231f20" stroke-width="0.12">80</text>
<text x="443.40" y="156.90" font-size="6.0" fill="#231f20" text-anchor="end" stroke="#231f20" stroke-width="0.12">100</text>
<line x1="447.80" y1="266.50" x2="447.80" y2="268.70" stroke="#6d6e71" stroke-width="0.45" />
<line x1="456.54" y1="266.50" x2="456.54" y2="267.60" stroke="#6d6e71" stroke-width="0.45" />
<line x1="461.66" y1="266.50" x2="461.66" y2="267.60" stroke="#6d6e71" stroke-width="0.45" />
<line x1="465.29" y1="266.50" x2="465.29" y2="267.60" stroke="#6d6e71" stroke-width="0.45" />
<line x1="468.11" y1="266.50" x2="468.11" y2="267.60" stroke="#6d6e71" stroke-width="0.45" />
<line x1="470.41" y1="266.50" x2="470.41" y2="267.60" stroke="#6d6e71" stroke-width="0.45" />
<line x1="472.35" y1="266.50" x2="472.35" y2="267.60" stroke="#6d6e71" stroke-width="0.45" />
<line x1="474.03" y1="266.50" x2="474.03" y2="267.60" stroke="#6d6e71" stroke-width="0.45" />
<line x1="475.52" y1="266.50" x2="475.52" y2="267.60" stroke="#6d6e71" stroke-width="0.45" />
<line x1="476.85" y1="266.50" x2="476.85" y2="268.70" stroke="#6d6e71" stroke-width="0.45" />
<line x1="485.59" y1="266.50" x2="485.59" y2="267.60" stroke="#6d6e71" stroke-width="0.45" />
<line x1="490.71" y1="266.50" x2="490.71" y2="267.60" stroke="#6d6e71" stroke-width="0.45" />
<line x1="494.34" y1="266.50" x2="494.34" y2="267.60" stroke="#6d6e71" stroke-width="0.45" />
<line x1="497.16" y1="266.50" x2="497.16" y2="267.60" stroke="#6d6e71" stroke-width="0.45" />
<line x1="499.46" y1="266.50" x2="499.46" y2="267.60" stroke="#6d6e71" stroke-width="0.45" />
<line x1="501.40" y1="266.50" x2="501.40" y2="267.60" stroke="#6d6e71" stroke-width="0.45" />
<line x1="503.08" y1="266.50" x2="503.08" y2="267.60" stroke="#6d6e71" stroke-width="0.45" />
<line x1="504.57" y1="266.50" x2="504.57" y2="267.60" stroke="#6d6e71" stroke-width="0.45" />
<line x1="505.90" y1="266.50" x2="505.90" y2="268.70" stroke="#6d6e71" stroke-width="0.45" />
<line x1="514.64" y1="266.50" x2="514.64" y2="267.60" stroke="#6d6e71" stroke-width="0.45" />
<line x1="519.76" y1="266.50" x2="519.76" y2="267.60" stroke="#6d6e71" stroke-width="0.45" />
<line x1="523.39" y1="266.50" x2="523.39" y2="267.60" stroke="#6d6e71" stroke-width="0.45" />
<line x1="526.21" y1="266.50" x2="526.21" y2="267.60" stroke="#6d6e71" stroke-width="0.45" />
<line x1="528.51" y1="266.50" x2="528.51" y2="267.60" stroke="#6d6e71" stroke-width="0.45" />
<line x1="530.45" y1="266.50" x2="530.45" y2="267.60" stroke="#6d6e71" stroke-width="0.45" />
<line x1="532.13" y1="266.50" x2="532.13" y2="267.60" stroke="#6d6e71" stroke-width="0.45" />
<line x1="533.62" y1="266.50" x2="533.62" y2="267.60" stroke="#6d6e71" stroke-width="0.45" />
<line x1="534.95" y1="266.50" x2="534.95" y2="268.70" stroke="#6d6e71" stroke-width="0.45" />
<line x1="543.69" y1="266.50" x2="543.69" y2="267.60" stroke="#6d6e71" stroke-width="0.45" />
<line x1="548.81" y1="266.50" x2="548.81" y2="267.60" stroke="#6d6e71" stroke-width="0.45" />
<line x1="552.44" y1="266.50" x2="552.44" y2="267.60" stroke="#6d6e71" stroke-width="0.45" />
<line x1="555.26" y1="266.50" x2="555.26" y2="267.60" stroke="#6d6e71" stroke-width="0.45" />
<line x1="557.56" y1="266.50" x2="557.56" y2="267.60" stroke="#6d6e71" stroke-width="0.45" />
<line x1="559.50" y1="266.50" x2="559.50" y2="267.60" stroke="#6d6e71" stroke-width="0.45" />
<line x1="561.18" y1="266.50" x2="561.18" y2="267.60" stroke="#6d6e71" stroke-width="0.45" />
<line x1="562.67" y1="266.50" x2="562.67" y2="267.60" stroke="#6d6e71" stroke-width="0.45" />
<line x1="564.00" y1="266.50" x2="564.00" y2="268.70" stroke="#6d6e71" stroke-width="0.45" />
<text x="447.50" y="277.50" font-size="6.6" fill="#231f20" stroke="#231f20" stroke-width="0.1" text-anchor="middle">10<tspan dy="-2.9" font-size="5.2">0</tspan></text>
<text x="476.55" y="277.50" font-size="6.6" fill="#231f20" stroke="#231f20" stroke-width="0.1" text-anchor="middle">10<tspan dy="-2.9" font-size="5.2">1</tspan></text>
<text x="505.60" y="277.50" font-size="6.6" fill="#231f20" stroke="#231f20" stroke-width="0.1" text-anchor="middle">10<tspan dy="-2.9" font-size="5.2">2</tspan></text>
<text x="534.65" y="277.50" font-size="6.6" fill="#231f20" stroke="#231f20" stroke-width="0.1" text-anchor="middle">10<tspan dy="-2.9" font-size="5.2">3</tspan></text>
<text x="563.70" y="277.50" font-size="6.6" fill="#231f20" stroke="#231f20" stroke-width="0.1" text-anchor="middle">10<tspan dy="-2.9" font-size="5.2">4</tspan></text>
<text x="559.60" y="162.30" font-size="14.2" fill="#6f7c86" text-anchor="end" textLength="30.00" lengthAdjust="spacingAndGlyphs" >CTRL</text>
<text x="559.40" y="174.20" font-size="14.2" fill="#b6ad35" text-anchor="end" textLength="30.20" lengthAdjust="spacingAndGlyphs" >TNFa</text>
<text x="175.70" y="297.50" font-size="14" fill="#231f20" textLength="39.70" lengthAdjust="spacingAndGlyphs" >MGT#1</text>
<text x="332.00" y="296.30" font-size="14" fill="#231f20" textLength="38.40" lengthAdjust="spacingAndGlyphs" >MGT#1</text>
<text x="493.20" y="296.30" font-size="14" fill="#231f20" textLength="39.80" lengthAdjust="spacingAndGlyphs" >MGT#4</text>
<text x="120.50" y="241.70" font-size="14" fill="#231f20" textLength="53.40" lengthAdjust="spacingAndGlyphs" transform="rotate(-90 120.50 241.70)" >% of max</text>
<line x1="117.40" y1="292.60" x2="117.40" y2="256.50" stroke="#231f20" stroke-width="0.8" />
<path d="M117.4,252.5 L115.5,257.5 L119.3,257.5 Z" fill="#231f20"/>
<line x1="117.40" y1="292.60" x2="152.50" y2="292.60" stroke="#231f20" stroke-width="0.8" />
<path d="M156.6,292.6 L151.6,290.7 L151.6,294.5 Z" fill="#231f20"/>
<rect x="98.3" y="427.6" width="239.36" height="239.36" fill="#ffffff"/>
<path d="M98.30,427.60 V666.96 M98.30,427.60 H337.66 M107.16,427.60 V666.96 M98.30,436.47 H337.66 M116.03,427.60 V666.96 M98.30,445.33 H337.66 M124.89,427.60 V666.96 M98.30,454.20 H337.66 M133.76,427.60 V666.96 M98.30,463.06 H337.66 M142.62,427.60 V666.96 M98.30,471.93 H337.66 M151.49,427.60 V666.96 M98.30,480.79 H337.66 M160.35,427.60 V666.96 M98.30,489.66 H337.66 M169.22,427.60 V666.96 M98.30,498.52 H337.66 M178.08,427.60 V666.96 M98.30,507.38 H337.66 M186.95,427.60 V666.96 M98.30,516.25 H337.66 M195.81,427.60 V666.96 M98.30,525.12 H337.66 M204.68,427.60 V666.96 M98.30,533.98 H337.66 M213.55,427.60 V666.96 M98.30,542.85 H337.66 M222.41,427.60 V666.96 M98.30,551.71 H337.66 M231.27,427.60 V666.96 M98.30,560.58 H337.66 M240.14,427.60 V666.96 M98.30,569.44 H337.66 M249.00,427.60 V666.96 M98.30,578.31 H337.66 M257.87,427.60 V666.96 M98.30,587.17 H337.66 M266.74,427.60 V666.96 M98.30,596.04 H337.66 M275.60,427.60 V666.96 M98.30,604.90 H337.66 M284.46,427.60 V666.96 M98.30,613.76 H337.66 M293.33,427.60 V666.96 M98.30,622.63 H337.66 M302.19,427.60 V666.96 M98.30,631.50 H337.66 M311.06,427.60 V666.96 M98.30,640.36 H337.66 M319.93,427.60 V666.96 M98.30,649.23 H337.66 M328.79,427.60 V666.96 M98.30,658.09 H337.66 M337.66,427.60 V666.96 M98.30,666.96 H337.66" stroke="#d6d6d6" stroke-width="0.6" fill="none"/>
<rect x="98.70" y="428.00" width="8.06" height="8.06" fill="#2b1a55" stroke="none" stroke-width="1" />
<circle cx="111.60" cy="432.03" r="1.56" fill="#d9dbee" stroke="none" stroke-width="0" />
<circle cx="120.46" cy="432.03" r="2.95" fill="#8b82bb" stroke="none" stroke-width="0" />
<circle cx="129.33" cy="432.03" r="0.93" fill="#dfe0ef" stroke="none" stroke-width="0" />
<circle cx="138.19" cy="432.03" r="1.32" fill="#fdddb8" stroke="none" stroke-width="0" />
<circle cx="147.06" cy="432.03" r="1.32" fill="#fdddb8" stroke="none" stroke-width="0" />
<circle cx="155.92" cy="432.03" r="1.56" fill="#d9dbee" stroke="none" stroke-width="0" />
<circle cx="164.79" cy="432.03" r="1.56" fill="#d9dbee" stroke="none" stroke-width="0" />
<circle cx="173.65" cy="432.03" r="2.28" fill="#b4afd6" stroke="none" stroke-width="0" />
<circle cx="182.52" cy="432.03" r="2.28" fill="#b4afd6" stroke="none" stroke-width="0" />
<circle cx="191.38" cy="432.03" r="1.56" fill="#d9dbee" stroke="none" stroke-width="0" />
<circle cx="200.25" cy="432.03" r="1.56" fill="#d9dbee" stroke="none" stroke-width="0" />
<circle cx="209.11" cy="432.03" r="1.32" fill="#fdddb8" stroke="none" stroke-width="0" />
<circle cx="217.98" cy="432.03" r="1.32" fill="#fdddb8" stroke="none" stroke-width="0" />
<circle cx="226.84" cy="432.03" r="1.32" fill="#fdddb8" stroke="none" stroke-width="0" />
<circle cx="235.71" cy="432.03" r="1.32" fill="#fdddb8" stroke="none" stroke-width="0" />
<circle cx="244.57" cy="432.03" r="2.28" fill="#fbbc7c" stroke="none" stroke-width="0" />
<circle cx="253.44" cy="432.03" r="1.32" fill="#fdddb8" stroke="none" stroke-width="0" />
<circle cx="262.30" cy="432.03" r="2.28" fill="#fbbc7c" stroke="none" stroke-width="0" />
<circle cx="271.17" cy="432.03" r="2.28" fill="#fbbc7c" stroke="none" stroke-width="0" />
<circle cx="280.03" cy="432.03" r="2.28" fill="#fbbc7c" stroke="none" stroke-width="0" />
<circle cx="288.90" cy="432.03" r="2.28" fill="#fbbc7c" stroke="none" stroke-width="0" />
<circle cx="297.76" cy="432.03" r="0.93" fill="#dfe0ef" stroke="none" stroke-width="0" />
<circle cx="306.63" cy="432.03" r="2.28" fill="#fbbc7c" stroke="none" stroke-width="0" />
<circle cx="315.49" cy="432.03" r="2.28" fill="#fbbc7c" stroke="none" stroke-width="0" />
<circle cx="324.36" cy="432.03" r="1.32" fill="#fdddb8" stroke="none" stroke-width="0" />
<circle cx="333.22" cy="432.03" r="1.32" fill="#fdddb8" stroke="none" stroke-width="0" />
<circle cx="102.73" cy="440.90" r="1.56" fill="#d9dbee" stroke="none" stroke-width="0" />
<circle cx="111.60" cy="440.90" r="4.17" fill="#2b1a55" stroke="none" stroke-width="0" />
<circle cx="120.46" cy="440.90" r="2.28" fill="#b4afd6" stroke="none" stroke-width="0" />
<circle cx="129.33" cy="440.90" r="2.95" fill="#8b82bb" stroke="none" stroke-width="0" />
<circle cx="138.19" cy="440.90" r="2.95" fill="#8b82bb" stroke="none" stroke-width="0" />
<circle cx="147.06" cy="440.90" r="2.95" fill="#8b82bb" stroke="none" stroke-width="0" />
<circle cx="155.92" cy="440.90" r="0.93" fill="#dfe0ef" stroke="none" stroke-width="0" />
<circle cx="164.79" cy="440.90" r="1.56" fill="#d9dbee" stroke="none" stroke-width="0" />
<circle cx="173.65" cy="440.90" r="2.95" fill="#8b82bb" stroke="none" stroke-width="0" />
<circle cx="182.52" cy="440.90" r="2.95" fill="#8b82bb" stroke="none" stroke-width="0" />
<circle cx="191.38" cy="440.90" r="2.95" fill="#8b82bb" stroke="none" stroke-width="0" />
<circle cx="200.25" cy="440.90" r="2.28" fill="#b4afd6" stroke="none" stroke-width="0" />
<circle cx="209.11" cy="440.90" r="1.56" fill="#d9dbee" stroke="none" stroke-width="0" />
<circle cx="217.98" cy="440.90" r="1.56" fill="#d9dbee" stroke="none" stroke-width="0" />
<circle cx="226.84" cy="440.90" r="2.28" fill="#fbbc7c" stroke="none" stroke-width="0" />
<circle cx="235.71" cy="440.90" r="1.32" fill="#fdddb8" stroke="none" stroke-width="0" />
<circle cx="244.57" cy="440.90" r="2.28" fill="#fbbc7c" stroke="none" stroke-width="0" />
<circle cx="253.44" cy="440.90" r="2.28" fill="#fbbc7c" stroke="none" stroke-width="0" />
<circle cx="262.30" cy="440.90" r="2.28" fill="#fbbc7c" stroke="none" stroke-width="0" />
<circle cx="271.17" cy="440.90" r="2.28" fill="#fbbc7c" stroke="none" stroke-width="0" />
<circle cx="280.03" cy="440.90" r="2.95" fill="#e98c31" stroke="none" stroke-width="0" />
<circle cx="288.90" cy="440.90" r="2.95" fill="#e98c31" stroke="none" stroke-width="0" />
<circle cx="297.76" cy="440.90" r="1.32" fill="#fdddb8" stroke="none" stroke-width="0" />
<circle cx="306.63" cy="440.90" r="1.32" fill="#fdddb8" stroke="none" stroke-width="0" />
<circle cx="315.49" cy="440.90" r="0.93" fill="#dfe0ef" stroke="none" stroke-width="0" />
<circle cx="324.36" cy="440.90" r="1.32" fill="#fdddb8" stroke="none" stroke-width="0" />
<circle cx="333.22" cy="440.90" r="0.93" fill="#dfe0ef" stroke="none" stroke-width="0" />
<circle cx="102.73" cy="449.76" r="2.95" fill="#8b82bb" stroke="none" stroke-width="0" />
<circle cx="111.60" cy="449.76" r="2.28" fill="#b4afd6" stroke="none" stroke-width="0" />
<circle cx="120.46" cy="449.76" r="4.17" fill="#2b1a55" stroke="none" stroke-width="0" />
<circle cx="129.33" cy="449.76" r="2.95" fill="#8b82bb" stroke="none" stroke-width="0" />
<circle cx="138.19" cy="449.76" r="2.95" fill="#8b82bb" stroke="none" stroke-width="0" />
<circle cx="147.06" cy="449.76" r="3.49" fill="#57409a" stroke="none" stroke-width="0" />
<circle cx="155.92" cy="449.76" r="1.32" fill="#fdddb8" stroke="none" stroke-width="0" />
<circle cx="164.79" cy="449.76" r="1.56" fill="#d9dbee" stroke="none" stroke-width="0" />
<circle cx="173.65" cy="449.76" r="2.28" fill="#b4afd6" stroke="none" stroke-width="0" />
<circle cx="182.52" cy="449.76" r="2.95" fill="#8b82bb" stroke="none" stroke-width="0" />
<circle cx="191.38" cy="449.76" r="2.95" fill="#8b82bb" stroke="none" stroke-width="0" />
<circle cx="200.25" cy="449.76" r="2.28" fill="#b4afd6" stroke="none" stroke-width="0" />
<circle cx="209.11" cy="449.76" r="0.93" fill="#dfe0ef" stroke="none" stroke-width="0" />
<circle cx="217.98" cy="449.76" r="0.93" fill="#dfe0ef" stroke="none" stroke-width="0" />
<circle cx="226.84" cy="449.76" r="2.28" fill="#fbbc7c" stroke="none" stroke-width="0" />
<circle cx="235.71" cy="449.76" r="1.32" fill="#fdddb8" stroke="none" stroke-width="0" />
<circle cx="244.57" cy="449.76" r="2.95" fill="#e98c31" stroke="none" stroke-width="0" />
<circle cx="253.44" cy="449.76" r="2.28" fill="#fbbc7c" stroke="none" stroke-width="0" />
<circle cx="262.30" cy="449.76" r="2.28" fill="#fbbc7c" stroke="none" stroke-width="0" />
<circle cx="271.17" cy="449.76" r="2.28" fill="#fbbc7c" stroke="none" stroke-width="0" />
<circle cx="280.03" cy="449.76" r="2.28" fill="#fbbc7c" stroke="none" stroke-width="0" />
<circle cx="288.90" cy="449.76" r="2.95" fill="#e98c31" stroke="none" stroke-width="0" />
<circle cx="297.76" cy="449.76" r="1.32" fill="#fdddb8" stroke="none" stroke-width="0" />
<circle cx="306.63" cy="449.76" r="2.28" fill="#b4afd6" stroke="none" stroke-width="0" />
<circle cx="315.49" cy="449.76" r="2.95" fill="#8b82bb" stroke="none" stroke-width="0" />
<circle cx="324.36" cy="449.76" r="2.28" fill="#b4afd6" stroke="none" stroke-width="0" />
<circle cx="333.22" cy="449.76" r="2.28" fill="#b4afd6" stroke="none" stroke-width="0" />
<circle cx="102.73" cy="458.63" r="0.93" fill="#dfe0ef" stroke="none" stroke-width="0" />
<circle cx="111.60" cy="458.63" r="2.95" fill="#8b82bb" stroke="none" stroke-width="0" />
<circle cx="120.46" cy="458.63" r="2.95" fill="#8b82bb" stroke="none" stroke-width="0" />
<circle cx="129.33" cy="458.63" r="4.17" fill="#2b1a55" stroke="none" stroke-width="0" />
<circle cx="138.19" cy="458.63" r="3.49" fill="#57409a" stroke="none" stroke-width="0" />
<circle cx="147.06" cy="458.63" r="3.49" fill="#57409a" stroke="none" stroke-width="0" />
<circle cx="155.92" cy="458.63" r="0.93" fill="#dfe0ef" stroke="none" stroke-width="0" />
<circle cx="164.79" cy="458.63" r="0.93" fill="#dfe0ef" stroke="none" stroke-width="0" />
<circle cx="173.65" cy="458.63" r="2.28" fill="#b4afd6" stroke="none" stroke-width="0" />
<circle cx="182.52" cy="458.63" r="2.95" fill="#8b82bb" stroke="none" stroke-width="0" />
<circle cx="191.38" cy="458.63" r="2.95" fill="#8b82bb" stroke="none" stroke-width="0" />
<circle cx="200.25" cy="458.63" r="2.95" fill="#8b82bb" stroke="none" stroke-width="0" />
<circle cx="209.11" cy="458.63" r="1.56" fill="#d9dbee" stroke="none" stroke-width="0" />
<circle cx="217.98" cy="458.63" r="2.28" fill="#b4afd6" stroke="none" stroke-width="0" />
<circle cx="226.84" cy="458.63" r="2.28" fill="#fbbc7c" stroke="none" stroke-width="0" />
<circle cx="235.71" cy="458.63" r="1.32" fill="#fdddb8" stroke="none" stroke-width="0" />
<circle cx="244.57" cy="458.63" r="2.95" fill="#e98c31" stroke="none" stroke-width="0" />
<circle cx="253.44" cy="458.63" r="2.28" fill="#fbbc7c" stroke="none" stroke-width="0" />
<circle cx="262.30" cy="458.63" r="2.28" fill="#fbbc7c" stroke="none" stroke-width="0" />
<circle cx="271.17" cy="458.63" r="2.28" fill="#fbbc7c" stroke="none" stroke-width="0" />
<circle cx="280.03" cy="458.63" r="2.28" fill="#fbbc7c" stroke="none" stroke-width="0" />
<circle cx="288.90" cy="458.63" r="2.95" fill="#e98c31" stroke="none" stroke-width="0" />
<circle cx="297.76" cy="458.63" r="0.93" fill="#dfe0ef" stroke="none" stroke-width="0" />
<circle cx="306.63" cy="458.63" r="2.28" fill="#b4afd6" stroke="none" stroke-width="0" />
<circle cx="315.49" cy="458.63" r="2.95" fill="#8b82bb" stroke="none" stroke-width="0" />
<circle cx="324.36" cy="458.63" r="0.93" fill="#dfe0ef" stroke="none" stroke-width="0" />
<circle cx="333.22" cy="458.63" r="1.56" fill="#d9dbee" stroke="none" stroke-width="0" />
<circle cx="102.73" cy="467.49" r="1.32" fill="#fdddb8" stroke="none" stroke-width="0" />
<circle cx="111.60" cy="467.49" r="2.95" fill="#8b82bb" stroke="none" stroke-width="0" />
<circle cx="120.46" cy="467.49" r="2.95" fill="#8b82bb" stroke="none" stroke-width="0" />
<circle cx="129.33" cy="467.49" r="3.49" fill="#57409a" stroke="none" stroke-width="0" />
<circle cx="138.19" cy="467.49" r="4.17" fill="#2b1a55" stroke="none" stroke-width="0" />
<circle cx="147.06" cy="467.49" r="4.00" fill="#2b1a55" stroke="none" stroke-width="0" />
<circle cx="155.92" cy="467.49" r="1.56" fill="#d9dbee" stroke="none" stroke-width="0" />
<circle cx="164.79" cy="467.49" r="2.28" fill="#b4afd6" stroke="none" stroke-width="0" />
<circle cx="173.65" cy="467.49" r="3.49" fill="#57409a" stroke="none" stroke-width="0" />
<circle cx="182.52" cy="467.49" r="3.49" fill="#57409a" stroke="none" stroke-width="0" />
<circle cx="191.38" cy="467.49" r="3.49" fill="#57409a" stroke="none" stroke-width="0" />
<circle cx="200.25" cy="467.49" r="3.49" fill="#57409a" stroke="none" stroke-width="0" />
<circle cx="209.11" cy="467.49" r="2.28" fill="#b4afd6" stroke="none" stroke-width="0" />
<circle cx="217.98" cy="467.49" r="2.28" fill="#b4afd6" stroke="none" stroke-width="0" />
<circle cx="226.84" cy="467.49" r="2.28" fill="#fbbc7c" stroke="none" stroke-width="0" />
<circle cx="235.71" cy="467.49" r="2.28" fill="#fbbc7c" stroke="none" stroke-width="0" />
<circle cx="244.57" cy="467.49" r="2.95" fill="#e98c31" stroke="none" stroke-width="0" />
<circle cx="253.44" cy="467.49" r="2.28" fill="#fbbc7c" stroke="none" stroke-width="0" />
<circle cx="262.30" cy="467.49" r="2.28" fill="#fbbc7c" stroke="none" stroke-width="0" />
<circle cx="271.17" cy="467.49" r="2.95" fill="#e98c31" stroke="none" stroke-width="0" />
<circle cx="280.03" cy="467.49" r="2.95" fill="#e98c31" stroke="none" stroke-width="0" />
<circle cx="288.90" cy="467.49" r="3.49" fill="#b2632b" stroke="none" stroke-width="0" />
<circle cx="297.76" cy="467.49" r="1.32" fill="#fdddb8" stroke="none" stroke-width="0" />
<circle cx="306.63" cy="467.49" r="1.56" fill="#d9dbee" stroke="none" stroke-width="0" />
<circle cx="315.49" cy="467.49" r="2.95" fill="#8b82bb" stroke="none" stroke-width="0" />
<circle cx="324.36" cy="467.49" r="0.93" fill="#dfe0ef" stroke="none" stroke-width="0" />
<circle cx="333.22" cy="467.49" r="1.56" fill="#d9dbee" stroke="none" stroke-width="0" />
<circle cx="102.73" cy="476.36" r="1.32" fill="#fdddb8" stroke="none" stroke-width="0" />
<circle cx="111.60" cy="476.36" r="2.95" fill="#8b82bb" stroke="none" stroke-width="0" />
<circle cx="120.46" cy="476.36" r="3.49" fill="#57409a" stroke="none" stroke-width="0" />
<circle cx="129.33" cy="476.36" r="3.49" fill="#57409a" stroke="none" stroke-width="0" />
<circle cx="138.19" cy="476.36" r="4.00" fill="#2b1a55" stroke="none" stroke-width="0" />
<circle cx="147.06" cy="476.36" r="4.17" fill="#2b1a55" stroke="none" stroke-width="0" />
<circle cx="155.92" cy="476.36" r="1.56" fill="#d9dbee" stroke="none" stroke-width="0" />
<circle cx="164.79" cy="476.36" r="2.28" fill="#b4afd6" stroke="none" stroke-width="0" />
<circle cx="173.65" cy="476.36" r="2.95" fill="#8b82bb" stroke="none" stroke-width="0" />
<circle cx="182.52" cy="476.36" r="3.49" fill="#57409a" stroke="none" stroke-width="0" />
<circle cx="191.38" cy="476.36" r="3.49" fill="#57409a" stroke="none" stroke-width="0" />
<circle cx="200.25" cy="476.36" r="2.95" fill="#8b82bb" stroke="none" stroke-width="0" />
<circle cx="209.11" cy="476.36" r="2.28" fill="#b4afd6" stroke="none" stroke-width="0" />
<circle cx="217.98" cy="476.36" r="2.28" fill="#b4afd6" stroke="none" stroke-width="0" />
<circle cx="226.84" cy="476.36" r="2.28" fill="#fbbc7c" stroke="none" stroke-width="0" />
<circle cx="235.71" cy="476.36" r="1.32" fill="#fdddb8" stroke="none" stroke-width="0" />
<circle cx="244.57" cy="476.36" r="2.95" fill="#e98c31" stroke="none" stroke-width="0" />
<circle cx="253.44" cy="476.36" r="1.32" fill="#fdddb8" stroke="none" stroke-width="0" />
<circle cx="262.30" cy="476.36" r="2.28" fill="#fbbc7c" stroke="none" stroke-width="0" />
<circle cx="271.17" cy="476.36" r="2.95" fill="#e98c31" stroke="none" stroke-width="0" />
<circle cx="280.03" cy="476.36" r="2.28" fill="#fbbc7c" stroke="none" stroke-width="0" />
<circle cx="288.90" cy="476.36" r="2.95" fill="#e98c31" stroke="none" stroke-width="0" />
<circle cx="297.76" cy="476.36" r="1.32" fill="#fdddb8" stroke="none" stroke-width="0" />
<circle cx="306.63" cy="476.36" r="2.28" fill="#b4afd6" stroke="none" stroke-width="0" />
<circle cx="315.49" cy="476.36" r="3.49" fill="#57409a" stroke="none" stroke-width="0" />
<circle cx="324.36" cy="476.36" r="0.93" fill="#dfe0ef" stroke="none" stroke-width="0" />
<circle cx="333.22" cy="476.36" r="2.28" fill="#b4afd6" stroke="none" stroke-width="0" />
<circle cx="102.73" cy="485.22" r="1.56" fill="#d9dbee" stroke="none" stroke-width="0" />
<circle cx="111.60" cy="485.22" r="0.93" fill="#dfe0ef" stroke="none" stroke-width="0" />
<circle cx="120.46" cy="485.22" r="1.32" fill="#fdddb8" stroke="none" stroke-width="0" />
<circle cx="129.33" cy="485.22" r="0.93" fill="#dfe0ef" stroke="none" stroke-width="0" />
<circle cx="138.19" cy="485.22" r="1.56" fill="#d9dbee" stroke="none" stroke-width="0" />
<circle cx="147.06" cy="485.22" r="1.56" fill="#d9dbee" stroke="none" stroke-width="0" />
<circle cx="155.92" cy="485.22" r="4.17" fill="#2b1a55" stroke="none" stroke-width="0" />
<circle cx="164.79" cy="485.22" r="2.95" fill="#8b82bb" stroke="none" stroke-width="0" />
<circle cx="173.65" cy="485.22" r="2.28" fill="#b4afd6" stroke="none" stroke-width="0" />
<circle cx="182.52" cy="485.22" r="2.28" fill="#b4afd6" stroke="none" stroke-width="0" />
<circle cx="191.38" cy="485.22" r="2.95" fill="#8b82bb" stroke="none" stroke-width="0" />
<circle cx="200.25" cy="485.22" r="2.95" fill="#8b82bb" stroke="none" stroke-width="0" />
<circle cx="209.11" cy="485.22" r="1.56" fill="#d9dbee" stroke="none" stroke-width="0" />
<circle cx="217.98" cy="485.22" r="2.28" fill="#b4afd6" stroke="none" stroke-width="0" />
<circle cx="226.84" cy="485.22" r="1.32" fill="#fdddb8" stroke="none" stroke-width="0" />
<circle cx="235.71" cy="485.22" r="1.32" fill="#fdddb8" stroke="none" stroke-width="0" />
<circle cx="244.57" cy="485.22" r="1.32" fill="#fdddb8" stroke="none" stroke-width="0" />
<circle cx="253.44" cy="485.22" r="1.32" fill="#fdddb8" stroke="none" stroke-width="0" />
<circle cx="262.30" cy="485.22" r="0.93" fill="#dfe0ef" stroke="none" stroke-width="0" />
<circle cx="271.17" cy="485.22" r="2.28" fill="#fbbc7c" stroke="none" stroke-width="0" />
<circle cx="280.03" cy="485.22" r="2.28" fill="#fbbc7c" stroke="none" stroke-width="0" />
<circle cx="288.90" cy="485.22" r="2.28" fill="#fbbc7c" stroke="none" stroke-width="0" />
<circle cx="297.76" cy="485.22" r="0.93" fill="#dfe0ef" stroke="none" stroke-width="0" />
<circle cx="306.63" cy="485.22" r="2.28" fill="#fbbc7c" stroke="none" stroke-width="0" />
<circle cx="315.49" cy="485.22" r="2.28" fill="#fbbc7c" stroke="none" stroke-width="0" />
<circle cx="324.36" cy="485.22" r="2.28" fill="#fbbc7c" stroke="none" stroke-width="0" />
<circle cx="333.22" cy="485.22" r="2.28" fill="#fbbc7c" stroke="none" stroke-width="0" />
<circle cx="102.73" cy="494.09" r="1.56" fill="#d9dbee" stroke="none" stroke-width="0" />
<circle cx="111.60" cy="494.09" r="1.56" fill="#d9dbee" stroke="none" stroke-width="0" />
<circle cx="120.46" cy="494.09" r="1.56" fill="#d9dbee" stroke="none" stroke-width="0" />
<circle cx="129.33" cy="494.09" r="0.93" fill="#dfe0ef" stroke="none" stroke-width="0" />
<circle cx="138.19" cy="494.09" r="2.28" fill="#b4afd6" stroke="none" stroke-width="0" />
<circle cx="147.06" cy="494.09" r="2.28" fill="#b4afd6" stroke="none" stroke-width="0" />
<circle cx="155.92" cy="494.09" r="2.95" fill="#8b82bb" stroke="none" stroke-width="0" />
<circle cx="164.79" cy="494.09" r="4.17" fill="#2b1a55" stroke="none" stroke-width="0" />
<circle cx="173.65" cy="494.09" r="3.49" fill="#57409a" stroke="none" stroke-width="0" />
<circle cx="182.52" cy="494.09" r="3.49" fill="#57409a" stroke="none" stroke-width="0" />
<circle cx="191.38" cy="494.09" r="3.49" fill="#57409a" stroke="none" stroke-width="0" />
<circle cx="200.25" cy="494.09" r="4.00" fill="#2b1a55" stroke="none" stroke-width="0" />
<circle cx="209.11" cy="494.09" r="2.95" fill="#8b82bb" stroke="none" stroke-width="0" />
<circle cx="217.98" cy="494.09" r="2.28" fill="#b4afd6" stroke="none" stroke-width="0" />
<circle cx="226.84" cy="494.09" r="2.28" fill="#fbbc7c" stroke="none" stroke-width="0" />
<circle cx="235.71" cy="494.09" r="1.32" fill="#fdddb8" stroke="none" stroke-width="0" />
<circle cx="244.57" cy="494.09" r="2.28" fill="#fbbc7c" stroke="none" stroke-width="0" />
<circle cx="253.44" cy="494.09" r="1.32" fill="#fdddb8" stroke="none" stroke-width="0" />
<circle cx="262.30" cy="494.09" r="1.32" fill="#fdddb8" stroke="none" stroke-width="0" />
<circle cx="271.17" cy="494.09" r="2.95" fill="#e98c31" stroke="none" stroke-width="0" />
<circle cx="280.03" cy="494.09" r="2.95" fill="#e98c31" stroke="none" stroke-width="0" />
<circle cx="288.90" cy="494.09" r="2.95" fill="#e98c31" stroke="none" stroke-width="0" />
<circle cx="297.76" cy="494.09" r="1.32" fill="#fdddb8" stroke="none" stroke-width="0" />
<circle cx="306.63" cy="494.09" r="2.28" fill="#fbbc7c" stroke="none" stroke-width="0" />
<circle cx="315.49" cy="494.09" r="0.93" fill="#dfe0ef" stroke="none" stroke-width="0" />
<circle cx="324.36" cy="494.09" r="2.28" fill="#fbbc7c" stroke="none" stroke-width="0" />
<circle cx="333.22" cy="494.09" r="1.32" fill="#fdddb8" stroke="none" stroke-width="0" />
<circle cx="102.73" cy="502.95" r="2.28" fill="#b4afd6" stroke="none" stroke-width="0" />
<circle cx="111.60" cy="502.95" r="2.95" fill="#8b82bb" stroke="none" stroke-width="0" />
<circle cx="120.46" cy="502.95" r="2.28" fill="#b4afd6" stroke="none" stroke-width="0" />
<circle cx="129.33" cy="502.95" r="2.28" fill="#b4afd6" stroke="none" stroke-width="0" />
<circle cx="138.19" cy="502.95" r="3.49" fill="#57409a" stroke="none" stroke-width="0" />
<circle cx="147.06" cy="502.95" r="2.95" fill="#8b82bb" stroke="none" stroke-width="0" />
<circle cx="155.92" cy="502.95" r="2.28" fill="#b4afd6" stroke="none" stroke-width="0" />
<circle cx="164.79" cy="502.95" r="3.49" fill="#57409a" stroke="none" stroke-width="0" />
<circle cx="173.65" cy="502.95" r="4.17" fill="#2b1a55" stroke="none" stroke-width="0" />
<circle cx="182.52" cy="502.95" r="4.00" fill="#2b1a55" stroke="none" stroke-width="0" />
<circle cx="191.38" cy="502.95" r="4.00" fill="#2b1a55" stroke="none" stroke-width="0" />
<circle cx="200.25" cy="502.95" r="4.00" fill="#2b1a55" stroke="none" stroke-width="0" />
<circle cx="209.11" cy="502.95" r="2.28" fill="#b4afd6" stroke="none" stroke-width="0" />
<circle cx="217.98" cy="502.95" r="2.28" fill="#b4afd6" stroke="none" stroke-width="0" />
<circle cx="226.84" cy="502.95" r="2.28" fill="#fbbc7c" stroke="none" stroke-width="0" />
<circle cx="235.71" cy="502.95" r="2.28" fill="#fbbc7c" stroke="none" stroke-width="0" />
<circle cx="244.57" cy="502.95" r="2.95" fill="#e98c31" stroke="none" stroke-width="0" />
<circle cx="253.44" cy="502.95" r="2.28" fill="#fbbc7c" stroke="none" stroke-width="0" />
<circle cx="262.30" cy="502.95" r="2.28" fill="#fbbc7c" stroke="none" stroke-width="0" />
<circle cx="271.17" cy="502.95" r="2.95" fill="#e98c31" stroke="none" stroke-width="0" />
<circle cx="280.03" cy="502.95" r="3.49" fill="#b2632b" stroke="none" stroke-width="0" />
<circle cx="288.90" cy="502.95" r="3.49" fill="#b2632b" stroke="none" stroke-width="0" />
<circle cx="297.76" cy="502.95" r="2.28" fill="#fbbc7c" stroke="none" stroke-width="0" />
<circle cx="306.63" cy="502.95" r="2.28" fill="#fbbc7c" stroke="none" stroke-width="0" />
<circle cx="315.49" cy="502.95" r="0.93" fill="#dfe0ef" stroke="none" stroke-width="0" />
<circle cx="324.36" cy="502.95" r="2.28" fill="#fbbc7c" stroke="none" stroke-width="0" />
<circle cx="333.22" cy="502.95" r="1.32" fill="#fdddb8" stroke="none" stroke-width="0" />
<circle cx="102.73" cy="511.82" r="2.28" fill="#b4afd6" stroke="none" stroke-width="0" />
<circle cx="111.60" cy="511.82" r="2.95" fill="#8b82bb" stroke="none" stroke-width="0" />
<circle cx="120.46" cy="511.82" r="2.95" fill="#8b82bb" stroke="none" stroke-width="0" />
<circle cx="129.33" cy="511.82" r="2.95" fill="#8b82bb" stroke="none" stroke-width="0" />
<circle cx="138.19" cy="511.82" r="3.49" fill="#57409a" stroke="none" stroke-width="0" />
<circle cx="147.06" cy="511.82" r="3.49" fill="#57409a" stroke="none" stroke-width="0" />
<circle cx="155.92" cy="511.82" r="2.28" fill="#b4afd6" stroke="none" stroke-width="0" />
<circle cx="164.79" cy="511.82" r="3.49" fill="#57409a" stroke="none" stroke-width="0" />
<circle cx="173.65" cy="511.82" r="4.00" fill="#2b1a55" stroke="none" stroke-width="0" />
<circle cx="182.52" cy="511.82" r="4.17" fill="#2b1a55" stroke="none" stroke-width="0" />
<circle cx="191.38" cy="511.82" r="4.00" fill="#2b1a55" stroke="none" stroke-width="0" />
<circle cx="200.25" cy="511.82" r="4.00" fill="#2b1a55" stroke="none" stroke-width="0" />
<circle cx="209.11" cy="511.82" r="2.28" fill="#b4afd6" stroke="none" stroke-width="0" />
<circle cx="217.98" cy="511.82" r="2.28" fill="#b4afd6" stroke="none" stroke-width="0" />
<circle cx="226.84" cy="511.82" r="2.95" fill="#e98c31" stroke="none" stroke-width="0" />
<circle cx="235.71" cy="511.82" r="2.28" fill="#fbbc7c" stroke="none" stroke-width="0" />
<circle cx="244.57" cy="511.82" r="3.49" fill="#b2632b" stroke="none" stroke-width="0" />
<circle cx="253.44" cy="511.82" r="2.28" fill="#fbbc7c" stroke="none" stroke-width="0" />
<circle cx="262.30" cy="511.82" r="2.95" fill="#e98c31" stroke="none" stroke-width="0" />
<circle cx="271.17" cy="511.82" r="3.49" fill="#b2632b" stroke="none" stroke-width="0" />
<circle cx="280.03" cy="511.82" r="3.49" fill="#b2632b" stroke="none" stroke-width="0" />
<circle cx="288.90" cy="511.82" r="3.49" fill="#b2632b" stroke="none" stroke-width="0" />
<circle cx="297.76" cy="511.82" r="1.32" fill="#fdddb8" stroke="none" stroke-width="0" />
<circle cx="306.63" cy="511.82" r="1.32" fill="#fdddb8" stroke="none" stroke-width="0" />
<circle cx="315.49" cy="511.82" r="1.56" fill="#d9dbee" stroke="none" stroke-width="0" />
<circle cx="324.36" cy="511.82" r="2.28" fill="#fbbc7c" stroke="none" stroke-width="0" />
<circle cx="333.22" cy="511.82" r="0.93" fill="#dfe0ef" stroke="none" stroke-width="0" />
<circle cx="102.73" cy="520.68" r="1.56" fill="#d9dbee" stroke="none" stroke-width="0" />
<circle cx="111.60" cy="520.68" r="2.95" fill="#8b82bb" stroke="none" stroke-width="0" />
<circle cx="120.46" cy="520.68" r="2.95" fill="#8b82bb" stroke="none" stroke-width="0" />
<circle cx="129.33" cy="520.68" r="2.95" fill="#8b82bb" stroke="none" stroke-width="0" />
<circle cx="138.19" cy="520.68" r="3.49" fill="#57409a" stroke="none" stroke-width="0" />
<circle cx="147.06" cy="520.68" r="3.49" fill="#57409a" stroke="none" stroke-width="0" />
<circle cx="155.92" cy="520.68" r="2.95" fill="#8b82bb" stroke="none" stroke-width="0" />
<circle cx="164.79" cy="520.68" r="3.49" fill="#57409a" stroke="none" stroke-width="0" />
<circle cx="173.65" cy="520.68" r="4.00" fill="#2b1a55" stroke="none" stroke-width="0" />
<circle cx="182.52" cy="520.68" r="4.00" fill="#2b1a55" stroke="none" stroke-width="0" />
<circle cx="191.38" cy="520.68" r="4.17" fill="#2b1a55" stroke="none" stroke-width="0" />
<circle cx="200.25" cy="520.68" r="4.00" fill="#2b1a55" stroke="none" stroke-width="0" />
<circle cx="209.11" cy="520.68" r="2.28" fill="#b4afd6" stroke="none" stroke-width="0" />
<circle cx="217.98" cy="520.68" r="2.28" fill="#b4afd6" stroke="none" stroke-width="0" />
<circle cx="226.84" cy="520.68" r="2.95" fill="#e98c31" stroke="none" stroke-width="0" />
<circle cx="235.71" cy="520.68" r="2.28" fill="#fbbc7c" stroke="none" stroke-width="0" />
<circle cx="244.57" cy="520.68" r="3.49" fill="#b2632b" stroke="none" stroke-width="0" />
<circle cx="253.44" cy="520.68" r="2.28" fill="#fbbc7c" stroke="none" stroke-width="0" />
<circle cx="262.30" cy="520.68" r="2.28" fill="#fbbc7c" stroke="none" stroke-width="0" />
<circle cx="271.17" cy="520.68" r="3.49" fill="#b2632b" stroke="none" stroke-width="0" />
<circle cx="280.03" cy="520.68" r="3.49" fill="#b2632b" stroke="none" stroke-width="0" />
<circle cx="288.90" cy="520.68" r="3.49" fill="#b2632b" stroke="none" stroke-width="0" />
<circle cx="297.76" cy="520.68" r="1.32" fill="#fdddb8" stroke="none" stroke-width="0" />
<circle cx="306.63" cy="520.68" r="2.28" fill="#fbbc7c" stroke="none" stroke-width="0" />
<circle cx="315.49" cy="520.68" r="0.93" fill="#dfe0ef" stroke="none" stroke-width="0" />
<circle cx="324.36" cy="520.68" r="2.28" fill="#fbbc7c" stroke="none" stroke-width="0" />
<circle cx="333.22" cy="520.68" r="0.93" fill="#dfe0ef" stroke="none" stroke-width="0" />
<circle cx="102.73" cy="529.55" r="1.56" fill="#d9dbee" stroke="none" stroke-width="0" />
<circle cx="111.60" cy="529.55" r="2.28" fill="#b4afd6" stroke="none" stroke-width="0" />
<circle cx="120.46" cy="529.55" r="2.28" fill="#b4afd6" stroke="none" stroke-width="0" />
<circle cx="129.33" cy="529.55" r="2.95" fill="#8b82bb" stroke="none" stroke-width="0" />
<circle cx="138.19" cy="529.55" r="3.49" fill="#57409a" stroke="none" stroke-width="0" />
<circle cx="147.06" cy="529.55" r="2.95" fill="#8b82bb" stroke="none" stroke-width="0" />
<circle cx="155.92" cy="529.55" r="2.95" fill="#8b82bb" stroke="none" stroke-width="0" />
<circle cx="164.79" cy="529.55" r="4.00" fill="#2b1a55" stroke="none" stroke-width="0" />
<circle cx="173.65" cy="529.55" r="4.00" fill="#2b1a55" stroke="none" stroke-width="0" />
<circle cx="182.52" cy="529.55" r="4.00" fill="#2b1a55" stroke="none" stroke-width="0" />
<circle cx="191.38" cy="529.55" r="4.00" fill="#2b1a55" stroke="none" stroke-width="0" />
<circle cx="200.25" cy="529.55" r="4.17" fill="#2b1a55" stroke="none" stroke-width="0" />
<circle cx="209.11" cy="529.55" r="2.28" fill="#b4afd6" stroke="none" stroke-width="0" />
<circle cx="217.98" cy="529.55" r="2.28" fill="#b4afd6" stroke="none" stroke-width="0" />
<circle cx="226.84" cy="529.55" r="2.28" fill="#fbbc7c" stroke="none" stroke-width="0" />
<circle cx="235.71" cy="529.55" r="2.28" fill="#fbbc7c" stroke="none" stroke-width="0" />
<circle cx="244.57" cy="529.55" r="2.95" fill="#e98c31" stroke="none" stroke-width="0" />
<circle cx="253.44" cy="529.55" r="2.28" fill="#fbbc7c" stroke="none" stroke-width="0" />
<circle cx="262.30" cy="529.55" r="2.28" fill="#fbbc7c" stroke="none" stroke-width="0" />
<circle cx="271.17" cy="529.55" r="2.95" fill="#e98c31" stroke="none" stroke-width="0" />
<circle cx="280.03" cy="529.55" r="3.49" fill="#b2632b" stroke="none" stroke-width="0" />
<circle cx="288.90" cy="529.55" r="3.49" fill="#b2632b" stroke="none" stroke-width="0" />
<circle cx="297.76" cy="529.55" r="1.32" fill="#fdddb8" stroke="none" stroke-width="0" />
<circle cx="306.63" cy="529.55" r="2.28" fill="#fbbc7c" stroke="none" stroke-width="0" />
<circle cx="315.49" cy="529.55" r="0.93" fill="#dfe0ef" stroke="none" stroke-width="0" />
<circle cx="324.36" cy="529.55" r="2.28" fill="#fbbc7c" stroke="none" stroke-width="0" />
<circle cx="333.22" cy="529.55" r="1.32" fill="#fdddb8" stroke="none" stroke-width="0" />
<circle cx="102.73" cy="538.41" r="1.32" fill="#fdddb8" stroke="none" stroke-width="0" />
<circle cx="111.60" cy="538.41" r="1.56" fill="#d9dbee" stroke="none" stroke-width="0" />
<circle cx="120.46" cy="538.41" r="0.93" fill="#dfe0ef" stroke="none" stroke-width="0" />
<circle cx="129.33" cy="538.41" r="1.56" fill="#d9dbee" stroke="none" stroke-width="0" />
<circle cx="138.19" cy="538.41" r="2.28" fill="#b4afd6" stroke="none" stroke-width="0" />
<circle cx="147.06" cy="538.41" r="2.28" fill="#b4afd6" stroke="none" stroke-width="0" />
<circle cx="155.92" cy="538.41" r="1.56" fill="#d9dbee" stroke="none" stroke-width="0" />
<circle cx="164.79" cy="538.41" r="2.95" fill="#8b82bb" stroke="none" stroke-width="0" />
<circle cx="173.65" cy="538.41" r="2.28" fill="#b4afd6" stroke="none" stroke-width="0" />
<circle cx="182.52" cy="538.41" r="2.28" fill="#b4afd6" stroke="none" stroke-width="0" />
<circle cx="191.38" cy="538.41" r="2.28" fill="#b4afd6" stroke="none" stroke-width="0" />
<circle cx="200.25" cy="538.41" r="2.28" fill="#b4afd6" stroke="none" stroke-width="0" />
<circle cx="209.11" cy="538.41" r="4.17" fill="#2b1a55" stroke="none" stroke-width="0" />
<circle cx="217.98" cy="538.41" r="2.28" fill="#b4afd6" stroke="none" stroke-width="0" />
<circle cx="226.84" cy="538.41" r="1.32" fill="#fdddb8" stroke="none" stroke-width="0" />
<circle cx="235.71" cy="538.41" r="1.32" fill="#fdddb8" stroke="none" stroke-width="0" />
<circle cx="244.57" cy="538.41" r="1.32" fill="#fdddb8" stroke="none" stroke-width="0" />
<circle cx="253.44" cy="538.41" r="0.93" fill="#dfe0ef" stroke="none" stroke-width="0" />
<circle cx="262.30" cy="538.41" r="1.32" fill="#fdddb8" stroke="none" stroke-width="0" />
<circle cx="271.17" cy="538.41" r="2.28" fill="#fbbc7c" stroke="none" stroke-width="0" />
<circle cx="280.03" cy="538.41" r="2.28" fill="#fbbc7c" stroke="none" stroke-width="0" />
<circle cx="288.90" cy="538.41" r="2.28" fill="#fbbc7c" stroke="none" stroke-width="0" />
<circle cx="297.76" cy="538.41" r="0.93" fill="#dfe0ef" stroke="none" stroke-width="0" />
<circle cx="306.63" cy="538.41" r="1.32" fill="#fdddb8" stroke="none" stroke-width="0" />
<circle cx="315.49" cy="538.41" r="0.93" fill="#dfe0ef" stroke="none" stroke-width="0" />
<circle cx="324.36" cy="538.41" r="1.32" fill="#fdddb8" stroke="none" stroke-width="0" />
<circle cx="333.22" cy="538.41" r="1.32" fill="#fdddb8" stroke="none" stroke-width="0" />
<circle cx="102.73" cy="547.28" r="1.32" fill="#fdddb8" stroke="none" stroke-width="0" />
<circle cx="111.60" cy="547.28" r="1.56" fill="#d9dbee" stroke="none" stroke-width="0" />
<circle cx="120.46" cy="547.28" r="0.93" fill="#dfe0ef" stroke="none" stroke-width="0" />
<circle cx="129.33" cy="547.28" r="2.28" fill="#b4afd6" stroke="none" stroke-width="0" />
<circle cx="138.19" cy="547.28" r="2.28" fill="#b4afd6" stroke="none" stroke-width="0" />
<circle cx="147.06" cy="547.28" r="2.28" fill="#b4afd6" stroke="none" stroke-width="0" />
<circle cx="155.92" cy="547.28" r="2.28" fill="#b4afd6" stroke="none" stroke-width="0" />
<circle cx="164.79" cy="547.28" r="2.28" fill="#b4afd6" stroke="none" stroke-width="0" />
<circle cx="173.65" cy="547.28" r="2.28" fill="#b4afd6" stroke="none" stroke-width="0" />
<circle cx="182.52" cy="547.28" r="2.28" fill="#b4afd6" stroke="none" stroke-width="0" />
<circle cx="191.38" cy="547.28" r="2.28" fill="#b4afd6" stroke="none" stroke-width="0" />
<circle cx="200.25" cy="547.28" r="2.28" fill="#b4afd6" stroke="none" stroke-width="0" />
<circle cx="209.11" cy="547.28" r="2.28" fill="#b4afd6" stroke="none" stroke-width="0" />
<circle cx="217.98" cy="547.28" r="4.17" fill="#2b1a55" stroke="none" stroke-width="0" />
<circle cx="226.84" cy="547.28" r="1.32" fill="#fdddb8" stroke="none" stroke-width="0" />
<circle cx="235.71" cy="547.28" r="1.32" fill="#fdddb8" stroke="none" stroke-width="0" />
<circle cx="244.57" cy="547.28" r="2.28" fill="#fbbc7c" stroke="none" stroke-width="0" />
<circle cx="253.44" cy="547.28" r="1.32" fill="#fdddb8" stroke="none" stroke-width="0" />
<circle cx="262.30" cy="547.28" r="0.93" fill="#dfe0ef" stroke="none" stroke-width="0" />
<circle cx="271.17" cy="547.28" r="2.28" fill="#fbbc7c" stroke="none" stroke-width="0" />
<circle cx="280.03" cy="547.28" r="2.28" fill="#fbbc7c" stroke="none" stroke-width="0" />
<circle cx="288.90" cy="547.28" r="2.28" fill="#fbbc7c" stroke="none" stroke-width="0" />
<circle cx="297.76" cy="547.28" r="1.56" fill="#d9dbee" stroke="none" stroke-width="0" />
<circle cx="306.63" cy="547.28" r="1.32" fill="#fdddb8" stroke="none" stroke-width="0" />
<circle cx="315.49" cy="547.28" r="0.93" fill="#dfe0ef" stroke="none" stroke-width="0" />
<circle cx="324.36" cy="547.28" r="2.28" fill="#fbbc7c" stroke="none" stroke-width="0" />
<circle cx="333.22" cy="547.28" r="2.28" fill="#fbbc7c" stroke="none" stroke-width="0" />
<circle cx="102.73" cy="556.14" r="1.32" fill="#fdddb8" stroke="none" stroke-width="0" />
<circle cx="111.60" cy="556.14" r="2.28" fill="#fbbc7c" stroke="none" stroke-width="0" />
<circle cx="120.46" cy="556.14" r="2.28" fill="#fbbc7c" stroke="none" stroke-width="0" />
<circle cx="129.33" cy="556.14" r="2.28" fill="#fbbc7c" stroke="none" stroke-width="0" />
<circle cx="138.19" cy="556.14" r="2.28" fill="#fbbc7c" stroke="none" stroke-width="0" />
<circle cx="147.06" cy="556.14" r="2.28" fill="#fbbc7c" stroke="none" stroke-width="0" />
<circle cx="155.92" cy="556.14" r="1.32" fill="#fdddb8" stroke="none" stroke-width="0" />
<circle cx="164.79" cy="556.14" r="2.28" fill="#fbbc7c" stroke="none" stroke-width="0" />
<circle cx="173.65" cy="556.14" r="2.28" fill="#fbbc7c" stroke="none" stroke-width="0" />
<circle cx="182.52" cy="556.14" r="2.95" fill="#e98c31" stroke="none" stroke-width="0" />
<circle cx="191.38" cy="556.14" r="2.95" fill="#e98c31" stroke="none" stroke-width="0" />
<circle cx="200.25" cy="556.14" r="2.28" fill="#fbbc7c" stroke="none" stroke-width="0" />
<circle cx="209.11" cy="556.14" r="1.32" fill="#fdddb8" stroke="none" stroke-width="0" />
<circle cx="217.98" cy="556.14" r="1.32" fill="#fdddb8" stroke="none" stroke-width="0" />
<circle cx="226.84" cy="556.14" r="4.17" fill="#2b1a55" stroke="none" stroke-width="0" />
<circle cx="235.71" cy="556.14" r="2.95" fill="#8b82bb" stroke="none" stroke-width="0" />
<circle cx="244.57" cy="556.14" r="2.95" fill="#8b82bb" stroke="none" stroke-width="0" />
<circle cx="253.44" cy="556.14" r="2.28" fill="#b4afd6" stroke="none" stroke-width="0" />
<circle cx="262.30" cy="556.14" r="2.95" fill="#8b82bb" stroke="none" stroke-width="0" />
<circle cx="271.17" cy="556.14" r="3.49" fill="#57409a" stroke="none" stroke-width="0" />
<circle cx="280.03" cy="556.14" r="3.49" fill="#57409a" stroke="none" stroke-width="0" />
<circle cx="288.90" cy="556.14" r="2.95" fill="#8b82bb" stroke="none" stroke-width="0" />
<circle cx="297.76" cy="556.14" r="1.32" fill="#fdddb8" stroke="none" stroke-width="0" />
<circle cx="306.63" cy="556.14" r="1.56" fill="#d9dbee" stroke="none" stroke-width="0" />
<circle cx="315.49" cy="556.14" r="0.93" fill="#dfe0ef" stroke="none" stroke-width="0" />
<circle cx="324.36" cy="556.14" r="1.56" fill="#d9dbee" stroke="none" stroke-width="0" />
<circle cx="333.22" cy="556.14" r="0.93" fill="#dfe0ef" stroke="none" stroke-width="0" />
<circle cx="102.73" cy="565.01" r="1.32" fill="#fdddb8" stroke="none" stroke-width="0" />
<circle cx="111.60" cy="565.01" r="1.32" fill="#fdddb8" stroke="none" stroke-width="0" />
<circle cx="120.46" cy="565.01" r="1.32" fill="#fdddb8" stroke="none" stroke-width="0" />
<circle cx="129.33" cy="565.01" r="1.32" fill="#fdddb8" stroke="none" stroke-width="0" />
<circle cx="138.19" cy="565.01" r="2.28" fill="#fbbc7c" stroke="none" stroke-width="0" />
<circle cx="147.06" cy="565.01" r="1.32" fill="#fdddb8" stroke="none" stroke-width="0" />
<circle cx="155.92" cy="565.01" r="1.32" fill="#fdddb8" stroke="none" stroke-width="0" />
<circle cx="164.79" cy="565.01" r="1.32" fill="#fdddb8" stroke="none" stroke-width="0" />
<circle cx="173.65" cy="565.01" r="2.28" fill="#fbbc7c" stroke="none" stroke-width="0" />
<circle cx="182.52" cy="565.01" r="2.28" fill="#fbbc7c" stroke="none" stroke-width="0" />
<circle cx="191.38" cy="565.01" r="2.28" fill="#fbbc7c" stroke="none" stroke-width="0" />
<circle cx="200.25" cy="565.01" r="2.28" fill="#fbbc7c" stroke="none" stroke-width="0" />
<circle cx="209.11" cy="565.01" r="1.32" fill="#fdddb8" stroke="none" stroke-width="0" />
<circle cx="217.98" cy="565.01" r="1.32" fill="#fdddb8" stroke="none" stroke-width="0" />
<circle cx="226.84" cy="565.01" r="2.95" fill="#8b82bb" stroke="none" stroke-width="0" />
<circle cx="235.71" cy="565.01" r="4.17" fill="#2b1a55" stroke="none" stroke-width="0" />
<circle cx="244.57" cy="565.01" r="2.28" fill="#b4afd6" stroke="none" stroke-width="0" />
<circle cx="253.44" cy="565.01" r="2.28" fill="#b4afd6" stroke="none" stroke-width="0" />
<circle cx="262.30" cy="565.01" r="2.95" fill="#8b82bb" stroke="none" stroke-width="0" />
<circle cx="271.17" cy="565.01" r="3.49" fill="#57409a" stroke="none" stroke-width="0" />
<circle cx="280.03" cy="565.01" r="2.95" fill="#8b82bb" stroke="none" stroke-width="0" />
<circle cx="288.90" cy="565.01" r="2.95" fill="#8b82bb" stroke="none" stroke-width="0" />
<circle cx="297.76" cy="565.01" r="1.32" fill="#fdddb8" stroke="none" stroke-width="0" />
<circle cx="306.63" cy="565.01" r="0.93" fill="#dfe0ef" stroke="none" stroke-width="0" />
<circle cx="315.49" cy="565.01" r="0.93" fill="#dfe0ef" stroke="none" stroke-width="0" />
<circle cx="324.36" cy="565.01" r="1.56" fill="#d9dbee" stroke="none" stroke-width="0" />
<circle cx="333.22" cy="565.01" r="0.93" fill="#dfe0ef" stroke="none" stroke-width="0" />
<circle cx="102.73" cy="573.87" r="2.28" fill="#fbbc7c" stroke="none" stroke-width="0" />
<circle cx="111.60" cy="573.87" r="2.28" fill="#fbbc7c" stroke="none" stroke-width="0" />
<circle cx="120.46" cy="573.87" r="2.95" fill="#e98c31" stroke="none" stroke-width="0" />
<circle cx="129.33" cy="573.87" r="2.95" fill="#e98c31" stroke="none" stroke-width="0" />
<circle cx="138.19" cy="573.87" r="2.95" fill="#e98c31" stroke="none" stroke-width="0" />
<circle cx="147.06" cy="573.87" r="2.95" fill="#e98c31" stroke="none" stroke-width="0" />
<circle cx="155.92" cy="573.87" r="1.32" fill="#fdddb8" stroke="none" stroke-width="0" />
<circle cx="164.79" cy="573.87" r="2.28" fill="#fbbc7c" stroke="none" stroke-width="0" />
<circle cx="173.65" cy="573.87" r="2.95" fill="#e98c31" stroke="none" stroke-width="0" />
<circle cx="182.52" cy="573.87" r="3.49" fill="#b2632b" stroke="none" stroke-width="0" />
<circle cx="191.38" cy="573.87" r="3.49" fill="#b2632b" stroke="none" stroke-width="0" />
<circle cx="200.25" cy="573.87" r="2.95" fill="#e98c31" stroke="none" stroke-width="0" />
<circle cx="209.11" cy="573.87" r="1.32" fill="#fdddb8" stroke="none" stroke-width="0" />
<circle cx="217.98" cy="573.87" r="2.28" fill="#fbbc7c" stroke="none" stroke-width="0" />
<circle cx="226.84" cy="573.87" r="2.95" fill="#8b82bb" stroke="none" stroke-width="0" />
<circle cx="235.71" cy="573.87" r="2.28" fill="#b4afd6" stroke="none" stroke-width="0" />
<circle cx="244.57" cy="573.87" r="4.17" fill="#2b1a55" stroke="none" stroke-width="0" />
<circle cx="253.44" cy="573.87" r="2.28" fill="#b4afd6" stroke="none" stroke-width="0" />
<circle cx="262.30" cy="573.87" r="2.95" fill="#8b82bb" stroke="none" stroke-width="0" />
<circle cx="271.17" cy="573.87" r="2.95" fill="#8b82bb" stroke="none" stroke-width="0" />
<circle cx="280.03" cy="573.87" r="2.95" fill="#8b82bb" stroke="none" stroke-width="0" />
<circle cx="288.90" cy="573.87" r="4.00" fill="#2b1a55" stroke="none" stroke-width="0" />
<circle cx="297.76" cy="573.87" r="1.32" fill="#fdddb8" stroke="none" stroke-width="0" />
<circle cx="306.63" cy="573.87" r="1.32" fill="#fdddb8" stroke="none" stroke-width="0" />
<circle cx="315.49" cy="573.87" r="1.32" fill="#fdddb8" stroke="none" stroke-width="0" />
<circle cx="324.36" cy="573.87" r="1.32" fill="#fdddb8" stroke="none" stroke-width="0" />
<circle cx="333.22" cy="573.87" r="1.32" fill="#fdddb8" stroke="none" stroke-width="0" />
<circle cx="102.73" cy="582.74" r="1.32" fill="#fdddb8" stroke="none" stroke-width="0" />
<circle cx="111.60" cy="582.74" r="2.28" fill="#fbbc7c" stroke="none" stroke-width="0" />
<circle cx="120.46" cy="582.74" r="2.28" fill="#fbbc7c" stroke="none" stroke-width="0" />
<circle cx="129.33" cy="582.74" r="2.28" fill="#fbbc7c" stroke="none" stroke-width="0" />
<circle cx="138.19" cy="582.74" r="2.28" fill="#fbbc7c" stroke="none" stroke-width="0" />
<circle cx="147.06" cy="582.74" r="1.32" fill="#fdddb8" stroke="none" stroke-width="0" />
<circle cx="155.92" cy="582.74" r="1.32" fill="#fdddb8" stroke="none" stroke-width="0" />
<circle cx="164.79" cy="582.74" r="1.32" fill="#fdddb8" stroke="none" stroke-width="0" />
<circle cx="173.65" cy="582.74" r="2.28" fill="#fbbc7c" stroke="none" stroke-width="0" />
<circle cx="182.52" cy="582.74" r="2.28" fill="#fbbc7c" stroke="none" stroke-width="0" />
<circle cx="191.38" cy="582.74" r="2.28" fill="#fbbc7c" stroke="none" stroke-width="0" />
<circle cx="200.25" cy="582.74" r="2.28" fill="#fbbc7c" stroke="none" stroke-width="0" />
<circle cx="209.11" cy="582.74" r="0.93" fill="#dfe0ef" stroke="none" stroke-width="0" />
<circle cx="217.98" cy="582.74" r="1.32" fill="#fdddb8" stroke="none" stroke-width="0" />
<circle cx="226.84" cy="582.74" r="2.28" fill="#b4afd6" stroke="none" stroke-width="0" />
<circle cx="235.71" cy="582.74" r="2.28" fill="#b4afd6" stroke="none" stroke-width="0" />
<circle cx="244.57" cy="582.74" r="2.28" fill="#b4afd6" stroke="none" stroke-width="0" />
<circle cx="253.44" cy="582.74" r="4.17" fill="#2b1a55" stroke="none" stroke-width="0" />
<circle cx="262.30" cy="582.74" r="2.95" fill="#8b82bb" stroke="none" stroke-width="0" />
<circle cx="271.17" cy="582.74" r="2.95" fill="#8b82bb" stroke="none" stroke-width="0" />
<circle cx="280.03" cy="582.74" r="3.49" fill="#57409a" stroke="none" stroke-width="0" />
<circle cx="288.90" cy="582.74" r="2.95" fill="#8b82bb" stroke="none" stroke-width="0" />
<circle cx="297.76" cy="582.74" r="1.32" fill="#fdddb8" stroke="none" stroke-width="0" />
<circle cx="306.63" cy="582.74" r="1.56" fill="#d9dbee" stroke="none" stroke-width="0" />
<circle cx="315.49" cy="582.74" r="1.56" fill="#d9dbee" stroke="none" stroke-width="0" />
<circle cx="324.36" cy="582.74" r="0.93" fill="#dfe0ef" stroke="none" stroke-width="0" />
<circle cx="333.22" cy="582.74" r="1.32" fill="#fdddb8" stroke="none" stroke-width="0" />
<circle cx="102.73" cy="591.60" r="2.28" fill="#fbbc7c" stroke="none" stroke-width="0" />
<circle cx="111.60" cy="591.60" r="2.28" fill="#fbbc7c" stroke="none" stroke-width="0" />
<circle cx="120.46" cy="591.60" r="2.28" fill="#fbbc7c" stroke="none" stroke-width="0" />
<circle cx="129.33" cy="591.60" r="2.28" fill="#fbbc7c" stroke="none" stroke-width="0" />
<circle cx="138.19" cy="591.60" r="2.28" fill="#fbbc7c" stroke="none" stroke-width="0" />
<circle cx="147.06" cy="591.60" r="2.28" fill="#fbbc7c" stroke="none" stroke-width="0" />
<circle cx="155.92" cy="591.60" r="0.93" fill="#dfe0ef" stroke="none" stroke-width="0" />
<circle cx="164.79" cy="591.60" r="1.32" fill="#fdddb8" stroke="none" stroke-width="0" />
<circle cx="173.65" cy="591.60" r="2.28" fill="#fbbc7c" stroke="none" stroke-width="0" />
<circle cx="182.52" cy="591.60" r="2.95" fill="#e98c31" stroke="none" stroke-width="0" />
<circle cx="191.38" cy="591.60" r="2.28" fill="#fbbc7c" stroke="none" stroke-width="0" />
<circle cx="200.25" cy="591.60" r="2.28" fill="#fbbc7c" stroke="none" stroke-width="0" />
<circle cx="209.11" cy="591.60" r="1.32" fill="#fdddb8" stroke="none" stroke-width="0" />
<circle cx="217.98" cy="591.60" r="0.93" fill="#dfe0ef" stroke="none" stroke-width="0" />
<circle cx="226.84" cy="591.60" r="2.95" fill="#8b82bb" stroke="none" stroke-width="0" />
<circle cx="235.71" cy="591.60" r="2.95" fill="#8b82bb" stroke="none" stroke-width="0" />
<circle cx="244.57" cy="591.60" r="2.95" fill="#8b82bb" stroke="none" stroke-width="0" />
<circle cx="253.44" cy="591.60" r="2.95" fill="#8b82bb" stroke="none" stroke-width="0" />
<circle cx="262.30" cy="591.60" r="4.17" fill="#2b1a55" stroke="none" stroke-width="0" />
<circle cx="271.17" cy="591.60" r="3.49" fill="#57409a" stroke="none" stroke-width="0" />
<circle cx="280.03" cy="591.60" r="3.49" fill="#57409a" stroke="none" stroke-width="0" />
<circle cx="288.90" cy="591.60" r="3.49" fill="#57409a" stroke="none" stroke-width="0" />
<circle cx="297.76" cy="591.60" r="0.93" fill="#dfe0ef" stroke="none" stroke-width="0" />
<circle cx="306.63" cy="591.60" r="0.93" fill="#dfe0ef" stroke="none" stroke-width="0" />
<circle cx="315.49" cy="591.60" r="0.93" fill="#dfe0ef" stroke="none" stroke-width="0" />
<circle cx="324.36" cy="591.60" r="1.32" fill="#fdddb8" stroke="none" stroke-width="0" />
<circle cx="333.22" cy="591.60" r="2.28" fill="#fbbc7c" stroke="none" stroke-width="0" />
<circle cx="102.73" cy="600.47" r="2.28" fill="#fbbc7c" stroke="none" stroke-width="0" />
<circle cx="111.60" cy="600.47" r="2.28" fill="#fbbc7c" stroke="none" stroke-width="0" />
<circle cx="120.46" cy="600.47" r="2.28" fill="#fbbc7c" stroke="none" stroke-width="0" />
<circle cx="129.33" cy="600.47" r="2.28" fill="#fbbc7c" stroke="none" stroke-width="0" />
<circle cx="138.19" cy="600.47" r="2.95" fill="#e98c31" stroke="none" stroke-width="0" />
<circle cx="147.06" cy="600.47" r="2.95" fill="#e98c31" stroke="none" stroke-width="0" />
<circle cx="155.92" cy="600.47" r="2.28" fill="#fbbc7c" stroke="none" stroke-width="0" />
<circle cx="164.79" cy="600.47" r="2.95" fill="#e98c31" stroke="none" stroke-width="0" />
<circle cx="173.65" cy="600.47" r="2.95" fill="#e98c31" stroke="none" stroke-width="0" />
<circle cx="182.52" cy="600.47" r="3.49" fill="#b2632b" stroke="none" stroke-width="0" />
<circle cx="191.38" cy="600.47" r="3.49" fill="#b2632b" stroke="none" stroke-width="0" />
<circle cx="200.25" cy="600.47" r="2.95" fill="#e98c31" stroke="none" stroke-width="0" />
<circle cx="209.11" cy="600.47" r="2.28" fill="#fbbc7c" stroke="none" stroke-width="0" />
<circle cx="217.98" cy="600.47" r="2.28" fill="#fbbc7c" stroke="none" stroke-width="0" />
<circle cx="226.84" cy="600.47" r="3.49" fill="#57409a" stroke="none" stroke-width="0" />
<circle cx="235.71" cy="600.47" r="3.49" fill="#57409a" stroke="none" stroke-width="0" />
<circle cx="244.57" cy="600.47" r="2.95" fill="#8b82bb" stroke="none" stroke-width="0" />
<circle cx="253.44" cy="600.47" r="2.95" fill="#8b82bb" stroke="none" stroke-width="0" />
<circle cx="262.30" cy="600.47" r="3.49" fill="#57409a" stroke="none" stroke-width="0" />
<circle cx="271.17" cy="600.47" r="4.17" fill="#2b1a55" stroke="none" stroke-width="0" />
<circle cx="280.03" cy="600.47" r="4.00" fill="#2b1a55" stroke="none" stroke-width="0" />
<circle cx="288.90" cy="600.47" r="4.00" fill="#2b1a55" stroke="none" stroke-width="0" />
<circle cx="297.76" cy="600.47" r="1.32" fill="#fdddb8" stroke="none" stroke-width="0" />
<circle cx="306.63" cy="600.47" r="1.56" fill="#d9dbee" stroke="none" stroke-width="0" />
<circle cx="315.49" cy="600.47" r="1.56" fill="#d9dbee" stroke="none" stroke-width="0" />
<circle cx="324.36" cy="600.47" r="1.56" fill="#d9dbee" stroke="none" stroke-width="0" />
<circle cx="333.22" cy="600.47" r="0.93" fill="#dfe0ef" stroke="none" stroke-width="0" />
<circle cx="102.73" cy="609.33" r="2.28" fill="#fbbc7c" stroke="none" stroke-width="0" />
<circle cx="111.60" cy="609.33" r="2.95" fill="#e98c31" stroke="none" stroke-width="0" />
<circle cx="120.46" cy="609.33" r="2.28" fill="#fbbc7c" stroke="none" stroke-width="0" />
<circle cx="129.33" cy="609.33" r="2.28" fill="#fbbc7c" stroke="none" stroke-width="0" />
<circle cx="138.19" cy="609.33" r="2.95" fill="#e98c31" stroke="none" stroke-width="0" />
<circle cx="147.06" cy="609.33" r="2.28" fill="#fbbc7c" stroke="none" stroke-width="0" />
<circle cx="155.92" cy="609.33" r="2.28" fill="#fbbc7c" stroke="none" stroke-width="0" />
<circle cx="164.79" cy="609.33" r="2.95" fill="#e98c31" stroke="none" stroke-width="0" />
<circle cx="173.65" cy="609.33" r="3.49" fill="#b2632b" stroke="none" stroke-width="0" />
<circle cx="182.52" cy="609.33" r="3.49" fill="#b2632b" stroke="none" stroke-width="0" />
<circle cx="191.38" cy="609.33" r="3.49" fill="#b2632b" stroke="none" stroke-width="0" />
<circle cx="200.25" cy="609.33" r="3.49" fill="#b2632b" stroke="none" stroke-width="0" />
<circle cx="209.11" cy="609.33" r="2.28" fill="#fbbc7c" stroke="none" stroke-width="0" />
<circle cx="217.98" cy="609.33" r="2.28" fill="#fbbc7c" stroke="none" stroke-width="0" />
<circle cx="226.84" cy="609.33" r="3.49" fill="#57409a" stroke="none" stroke-width="0" />
<circle cx="235.71" cy="609.33" r="2.95" fill="#8b82bb" stroke="none" stroke-width="0" />
<circle cx="244.57" cy="609.33" r="2.95" fill="#8b82bb" stroke="none" stroke-width="0" />
<circle cx="253.44" cy="609.33" r="3.49" fill="#57409a" stroke="none" stroke-width="0" />
<circle cx="262.30" cy="609.33" r="3.49" fill="#57409a" stroke="none" stroke-width="0" />
<circle cx="271.17" cy="609.33" r="4.00" fill="#2b1a55" stroke="none" stroke-width="0" />
<circle cx="280.03" cy="609.33" r="4.17" fill="#2b1a55" stroke="none" stroke-width="0" />
<circle cx="288.90" cy="609.33" r="4.00" fill="#2b1a55" stroke="none" stroke-width="0" />
<circle cx="297.76" cy="609.33" r="0.93" fill="#dfe0ef" stroke="none" stroke-width="0" />
<circle cx="306.63" cy="609.33" r="2.28" fill="#b4afd6" stroke="none" stroke-width="0" />
<circle cx="315.49" cy="609.33" r="2.28" fill="#b4afd6" stroke="none" stroke-width="0" />
<circle cx="324.36" cy="609.33" r="0.93" fill="#dfe0ef" stroke="none" stroke-width="0" />
<circle cx="333.22" cy="609.33" r="0.93" fill="#dfe0ef" stroke="none" stroke-width="0" />
<circle cx="102.73" cy="618.20" r="2.28" fill="#fbbc7c" stroke="none" stroke-width="0" />
<circle cx="111.60" cy="618.20" r="2.95" fill="#e98c31" stroke="none" stroke-width="0" />
<circle cx="120.46" cy="618.20" r="2.95" fill="#e98c31" stroke="none" stroke-width="0" />
<circle cx="129.33" cy="618.20" r="2.95" fill="#e98c31" stroke="none" stroke-width="0" />
<circle cx="138.19" cy="618.20" r="3.49" fill="#b2632b" stroke="none" stroke-width="0" />
<circle cx="147.06" cy="618.20" r="2.95" fill="#e98c31" stroke="none" stroke-width="0" />
<circle cx="155.92" cy="618.20" r="2.28" fill="#fbbc7c" stroke="none" stroke-width="0" />
<circle cx="164.79" cy="618.20" r="2.95" fill="#e98c31" stroke="none" stroke-width="0" />
<circle cx="173.65" cy="618.20" r="3.49" fill="#b2632b" stroke="none" stroke-width="0" />
<circle cx="182.52" cy="618.20" r="3.49" fill="#b2632b" stroke="none" stroke-width="0" />
<circle cx="191.38" cy="618.20" r="3.49" fill="#b2632b" stroke="none" stroke-width="0" />
<circle cx="200.25" cy="618.20" r="3.49" fill="#b2632b" stroke="none" stroke-width="0" />
<circle cx="209.11" cy="618.20" r="2.28" fill="#fbbc7c" stroke="none" stroke-width="0" />
<circle cx="217.98" cy="618.20" r="2.28" fill="#fbbc7c" stroke="none" stroke-width="0" />
<circle cx="226.84" cy="618.20" r="2.95" fill="#8b82bb" stroke="none" stroke-width="0" />
<circle cx="235.71" cy="618.20" r="2.95" fill="#8b82bb" stroke="none" stroke-width="0" />
<circle cx="244.57" cy="618.20" r="4.00" fill="#2b1a55" stroke="none" stroke-width="0" />
<circle cx="253.44" cy="618.20" r="2.95" fill="#8b82bb" stroke="none" stroke-width="0" />
<circle cx="262.30" cy="618.20" r="3.49" fill="#57409a" stroke="none" stroke-width="0" />
<circle cx="271.17" cy="618.20" r="4.00" fill="#2b1a55" stroke="none" stroke-width="0" />
<circle cx="280.03" cy="618.20" r="4.00" fill="#2b1a55" stroke="none" stroke-width="0" />
<circle cx="288.90" cy="618.20" r="4.17" fill="#2b1a55" stroke="none" stroke-width="0" />
<circle cx="297.76" cy="618.20" r="0.93" fill="#dfe0ef" stroke="none" stroke-width="0" />
<circle cx="306.63" cy="618.20" r="1.56" fill="#d9dbee" stroke="none" stroke-width="0" />
<circle cx="315.49" cy="618.20" r="1.56" fill="#d9dbee" stroke="none" stroke-width="0" />
<circle cx="324.36" cy="618.20" r="1.56" fill="#d9dbee" stroke="none" stroke-width="0" />
<circle cx="333.22" cy="618.20" r="1.32" fill="#fdddb8" stroke="none" stroke-width="0" />
<circle cx="102.73" cy="627.06" r="0.93" fill="#dfe0ef" stroke="none" stroke-width="0" />
<circle cx="111.60" cy="627.06" r="1.32" fill="#fdddb8" stroke="none" stroke-width="0" />
<circle cx="120.46" cy="627.06" r="1.32" fill="#fdddb8" stroke="none" stroke-width="0" />
<circle cx="129.33" cy="627.06" r="0.93" fill="#dfe0ef" stroke="none" stroke-width="0" />
<circle cx="138.19" cy="627.06" r="1.32" fill="#fdddb8" stroke="none" stroke-width="0" />
<circle cx="147.06" cy="627.06" r="1.32" fill="#fdddb8" stroke="none" stroke-width="0" />
<circle cx="155.92" cy="627.06" r="0.93" fill="#dfe0ef" stroke="none" stroke-width="0" />
<circle cx="164.79" cy="627.06" r="1.32" fill="#fdddb8" stroke="none" stroke-width="0" />
<circle cx="173.65" cy="627.06" r="2.28" fill="#fbbc7c" stroke="none" stroke-width="0" />
<circle cx="182.52" cy="627.06" r="1.32" fill="#fdddb8" stroke="none" stroke-width="0" />
<circle cx="191.38" cy="627.06" r="1.32" fill="#fdddb8" stroke="none" stroke-width="0" />
<circle cx="200.25" cy="627.06" r="1.32" fill="#fdddb8" stroke="none" stroke-width="0" />
<circle cx="209.11" cy="627.06" r="0.93" fill="#dfe0ef" stroke="none" stroke-width="0" />
<circle cx="217.98" cy="627.06" r="1.56" fill="#d9dbee" stroke="none" stroke-width="0" />
<circle cx="226.84" cy="627.06" r="1.32" fill="#fdddb8" stroke="none" stroke-width="0" />
<circle cx="235.71" cy="627.06" r="1.32" fill="#fdddb8" stroke="none" stroke-width="0" />
<circle cx="244.57" cy="627.06" r="1.32" fill="#fdddb8" stroke="none" stroke-width="0" />
<circle cx="253.44" cy="627.06" r="1.32" fill="#fdddb8" stroke="none" stroke-width="0" />
<circle cx="262.30" cy="627.06" r="0.93" fill="#dfe0ef" stroke="none" stroke-width="0" />
<circle cx="271.17" cy="627.06" r="1.32" fill="#fdddb8" stroke="none" stroke-width="0" />
<circle cx="280.03" cy="627.06" r="0.93" fill="#dfe0ef" stroke="none" stroke-width="0" />
<circle cx="288.90" cy="627.06" r="0.93" fill="#dfe0ef" stroke="none" stroke-width="0" />
<rect x="293.73" y="623.03" width="8.06" height="8.06" fill="#2b1a55" stroke="none" stroke-width="1" />
<circle cx="306.63" cy="627.06" r="0.93" fill="#dfe0ef" stroke="none" stroke-width="0" />
<circle cx="315.49" cy="627.06" r="1.56" fill="#d9dbee" stroke="none" stroke-width="0" />
<circle cx="324.36" cy="627.06" r="1.32" fill="#fdddb8" stroke="none" stroke-width="0" />
<circle cx="333.22" cy="627.06" r="1.32" fill="#fdddb8" stroke="none" stroke-width="0" />
<circle cx="102.73" cy="635.93" r="2.28" fill="#fbbc7c" stroke="none" stroke-width="0" />
<circle cx="111.60" cy="635.93" r="1.32" fill="#fdddb8" stroke="none" stroke-width="0" />
<circle cx="120.46" cy="635.93" r="2.28" fill="#b4afd6" stroke="none" stroke-width="0" />
<circle cx="129.33" cy="635.93" r="2.28" fill="#b4afd6" stroke="none" stroke-width="0" />
<circle cx="138.19" cy="635.93" r="1.56" fill="#d9dbee" stroke="none" stroke-width="0" />
<circle cx="147.06" cy="635.93" r="2.28" fill="#b4afd6" stroke="none" stroke-width="0" />
<circle cx="155.92" cy="635.93" r="2.28" fill="#fbbc7c" stroke="none" stroke-width="0" />
<circle cx="164.79" cy="635.93" r="2.28" fill="#fbbc7c" stroke="none" stroke-width="0" />
<circle cx="173.65" cy="635.93" r="2.28" fill="#fbbc7c" stroke="none" stroke-width="0" />
<circle cx="182.52" cy="635.93" r="1.32" fill="#fdddb8" stroke="none" stroke-width="0" />
<circle cx="191.38" cy="635.93" r="2.28" fill="#fbbc7c" stroke="none" stroke-width="0" />
<circle cx="200.25" cy="635.93" r="2.28" fill="#fbbc7c" stroke="none" stroke-width="0" />
<circle cx="209.11" cy="635.93" r="1.32" fill="#fdddb8" stroke="none" stroke-width="0" />
<circle cx="217.98" cy="635.93" r="1.32" fill="#fdddb8" stroke="none" stroke-width="0" />
<circle cx="226.84" cy="635.93" r="1.56" fill="#d9dbee" stroke="none" stroke-width="0" />
<circle cx="235.71" cy="635.93" r="0.93" fill="#dfe0ef" stroke="none" stroke-width="0" />
<circle cx="244.57" cy="635.93" r="1.32" fill="#fdddb8" stroke="none" stroke-width="0" />
<circle cx="253.44" cy="635.93" r="1.56" fill="#d9dbee" stroke="none" stroke-width="0" />
<circle cx="262.30" cy="635.93" r="0.93" fill="#dfe0ef" stroke="none" stroke-width="0" />
<circle cx="271.17" cy="635.93" r="1.56" fill="#d9dbee" stroke="none" stroke-width="0" />
<circle cx="280.03" cy="635.93" r="2.28" fill="#b4afd6" stroke="none" stroke-width="0" />
<circle cx="288.90" cy="635.93" r="1.56" fill="#d9dbee" stroke="none" stroke-width="0" />
<circle cx="297.76" cy="635.93" r="0.93" fill="#dfe0ef" stroke="none" stroke-width="0" />
<circle cx="306.63" cy="635.93" r="4.17" fill="#2b1a55" stroke="none" stroke-width="0" />
<circle cx="315.49" cy="635.93" r="3.49" fill="#57409a" stroke="none" stroke-width="0" />
<circle cx="324.36" cy="635.93" r="2.95" fill="#8b82bb" stroke="none" stroke-width="0" />
<circle cx="333.22" cy="635.93" r="2.95" fill="#8b82bb" stroke="none" stroke-width="0" />
<circle cx="102.73" cy="644.79" r="2.28" fill="#fbbc7c" stroke="none" stroke-width="0" />
<circle cx="111.60" cy="644.79" r="0.93" fill="#dfe0ef" stroke="none" stroke-width="0" />
<circle cx="120.46" cy="644.79" r="2.95" fill="#8b82bb" stroke="none" stroke-width="0" />
<circle cx="129.33" cy="644.79" r="2.95" fill="#8b82bb" stroke="none" stroke-width="0" />
<circle cx="138.19" cy="644.79" r="2.95" fill="#8b82bb" stroke="none" stroke-width="0" />
<circle cx="147.06" cy="644.79" r="3.49" fill="#57409a" stroke="none" stroke-width="0" />
<circle cx="155.92" cy="644.79" r="2.28" fill="#fbbc7c" stroke="none" stroke-width="0" />
<circle cx="164.79" cy="644.79" r="0.93" fill="#dfe0ef" stroke="none" stroke-width="0" />
<circle cx="173.65" cy="644.79" r="0.93" fill="#dfe0ef" stroke="none" stroke-width="0" />
<circle cx="182.52" cy="644.79" r="1.56" fill="#d9dbee" stroke="none" stroke-width="0" />
<circle cx="191.38" cy="644.79" r="0.93" fill="#dfe0ef" stroke="none" stroke-width="0" />
<circle cx="200.25" cy="644.79" r="0.93" fill="#dfe0ef" stroke="none" stroke-width="0" />
<circle cx="209.11" cy="644.79" r="0.93" fill="#dfe0ef" stroke="none" stroke-width="0" />
<circle cx="217.98" cy="644.79" r="0.93" fill="#dfe0ef" stroke="none" stroke-width="0" />
<circle cx="226.84" cy="644.79" r="0.93" fill="#dfe0ef" stroke="none" stroke-width="0" />
<circle cx="235.71" cy="644.79" r="0.93" fill="#dfe0ef" stroke="none" stroke-width="0" />
<circle cx="244.57" cy="644.79" r="1.32" fill="#fdddb8" stroke="none" stroke-width="0" />
<circle cx="253.44" cy="644.79" r="1.56" fill="#d9dbee" stroke="none" stroke-width="0" />
<circle cx="262.30" cy="644.79" r="0.93" fill="#dfe0ef" stroke="none" stroke-width="0" />
<circle cx="271.17" cy="644.79" r="1.56" fill="#d9dbee" stroke="none" stroke-width="0" />
<circle cx="280.03" cy="644.79" r="2.28" fill="#b4afd6" stroke="none" stroke-width="0" />
<circle cx="288.90" cy="644.79" r="1.56" fill="#d9dbee" stroke="none" stroke-width="0" />
<circle cx="297.76" cy="644.79" r="1.56" fill="#d9dbee" stroke="none" stroke-width="0" />
<circle cx="306.63" cy="644.79" r="3.49" fill="#57409a" stroke="none" stroke-width="0" />
<circle cx="315.49" cy="644.79" r="4.17" fill="#2b1a55" stroke="none" stroke-width="0" />
<circle cx="324.36" cy="644.79" r="2.95" fill="#8b82bb" stroke="none" stroke-width="0" />
<circle cx="333.22" cy="644.79" r="2.95" fill="#8b82bb" stroke="none" stroke-width="0" />
<circle cx="102.73" cy="653.66" r="1.32" fill="#fdddb8" stroke="none" stroke-width="0" />
<circle cx="111.60" cy="653.66" r="1.32" fill="#fdddb8" stroke="none" stroke-width="0" />
<circle cx="120.46" cy="653.66" r="2.28" fill="#b4afd6" stroke="none" stroke-width="0" />
<circle cx="129.33" cy="653.66" r="0.93" fill="#dfe0ef" stroke="none" stroke-width="0" />
<circle cx="138.19" cy="653.66" r="0.93" fill="#dfe0ef" stroke="none" stroke-width="0" />
<circle cx="147.06" cy="653.66" r="0.93" fill="#dfe0ef" stroke="none" stroke-width="0" />
<circle cx="155.92" cy="653.66" r="2.28" fill="#fbbc7c" stroke="none" stroke-width="0" />
<circle cx="164.79" cy="653.66" r="2.28" fill="#fbbc7c" stroke="none" stroke-width="0" />
<circle cx="173.65" cy="653.66" r="2.28" fill="#fbbc7c" stroke="none" stroke-width="0" />
<circle cx="182.52" cy="653.66" r="2.28" fill="#fbbc7c" stroke="none" stroke-width="0" />
<circle cx="191.38" cy="653.66" r="2.28" fill="#fbbc7c" stroke="none" stroke-width="0" />
<circle cx="200.25" cy="653.66" r="2.28" fill="#fbbc7c" stroke="none" stroke-width="0" />
<circle cx="209.11" cy="653.66" r="1.32" fill="#fdddb8" stroke="none" stroke-width="0" />
<circle cx="217.98" cy="653.66" r="2.28" fill="#fbbc7c" stroke="none" stroke-width="0" />
<circle cx="226.84" cy="653.66" r="1.56" fill="#d9dbee" stroke="none" stroke-width="0" />
<circle cx="235.71" cy="653.66" r="1.56" fill="#d9dbee" stroke="none" stroke-width="0" />
<circle cx="244.57" cy="653.66" r="1.32" fill="#fdddb8" stroke="none" stroke-width="0" />
<circle cx="253.44" cy="653.66" r="0.93" fill="#dfe0ef" stroke="none" stroke-width="0" />
<circle cx="262.30" cy="653.66" r="1.32" fill="#fdddb8" stroke="none" stroke-width="0" />
<circle cx="271.17" cy="653.66" r="1.56" fill="#d9dbee" stroke="none" stroke-width="0" />
<circle cx="280.03" cy="653.66" r="0.93" fill="#dfe0ef" stroke="none" stroke-width="0" />
<circle cx="288.90" cy="653.66" r="1.56" fill="#d9dbee" stroke="none" stroke-width="0" />
<circle cx="297.76" cy="653.66" r="1.32" fill="#fdddb8" stroke="none" stroke-width="0" />
<circle cx="306.63" cy="653.66" r="2.95" fill="#8b82bb" stroke="none" stroke-width="0" />
<circle cx="315.49" cy="653.66" r="2.95" fill="#8b82bb" stroke="none" stroke-width="0" />
<circle cx="324.36" cy="653.66" r="4.17" fill="#2b1a55" stroke="none" stroke-width="0" />
<circle cx="333.22" cy="653.66" r="3.49" fill="#57409a" stroke="none" stroke-width="0" />
<circle cx="102.73" cy="662.52" r="1.32" fill="#fdddb8" stroke="none" stroke-width="0" />
<circle cx="111.60" cy="662.52" r="0.93" fill="#dfe0ef" stroke="none" stroke-width="0" />
<circle cx="120.46" cy="662.52" r="2.28" fill="#b4afd6" stroke="none" stroke-width="0" />
<circle cx="129.33" cy="662.52" r="1.56" fill="#d9dbee" stroke="none" stroke-width="0" />
<circle cx="138.19" cy="662.52" r="1.56" fill="#d9dbee" stroke="none" stroke-width="0" />
<circle cx="147.06" cy="662.52" r="2.28" fill="#b4afd6" stroke="none" stroke-width="0" />
<circle cx="155.92" cy="662.52" r="2.28" fill="#fbbc7c" stroke="none" stroke-width="0" />
<circle cx="164.79" cy="662.52" r="1.32" fill="#fdddb8" stroke="none" stroke-width="0" />
<circle cx="173.65" cy="662.52" r="1.32" fill="#fdddb8" stroke="none" stroke-width="0" />
<circle cx="182.52" cy="662.52" r="0.93" fill="#dfe0ef" stroke="none" stroke-width="0" />
<circle cx="191.38" cy="662.52" r="0.93" fill="#dfe0ef" stroke="none" stroke-width="0" />
<circle cx="200.25" cy="662.52" r="1.32" fill="#fdddb8" stroke="none" stroke-width="0" />
<circle cx="209.11" cy="662.52" r="1.32" fill="#fdddb8" stroke="none" stroke-width="0" />
<circle cx="217.98" cy="662.52" r="2.28" fill="#fbbc7c" stroke="none" stroke-width="0" />
<circle cx="226.84" cy="662.52" r="0.93" fill="#dfe0ef" stroke="none" stroke-width="0" />
<circle cx="235.71" cy="662.52" r="0.93" fill="#dfe0ef" stroke="none" stroke-width="0" />
<circle cx="244.57" cy="662.52" r="1.32" fill="#fdddb8" stroke="none" stroke-width="0" />
<circle cx="253.44" cy="662.52" r="1.32" fill="#fdddb8" stroke="none" stroke-width="0" />
<circle cx="262.30" cy="662.52" r="2.28" fill="#fbbc7c" stroke="none" stroke-width="0" />
<circle cx="271.17" cy="662.52" r="0.93" fill="#dfe0ef" stroke="none" stroke-width="0" />
<circle cx="280.03" cy="662.52" r="0.93" fill="#dfe0ef" stroke="none" stroke-width="0" />
<circle cx="288.90" cy="662.52" r="1.32" fill="#fdddb8" stroke="none" stroke-width="0" />
<circle cx="297.76" cy="662.52" r="1.32" fill="#fdddb8" stroke="none" stroke-width="0" />
<circle cx="306.63" cy="662.52" r="2.95" fill="#8b82bb" stroke="none" stroke-width="0" />
<circle cx="315.49" cy="662.52" r="2.95" fill="#8b82bb" stroke="none" stroke-width="0" />
<circle cx="324.36" cy="662.52" r="3.49" fill="#57409a" stroke="none" stroke-width="0" />
<circle cx="333.22" cy="662.52" r="4.17" fill="#2b1a55" stroke="none" stroke-width="0" />
<rect x="98.30" y="427.60" width="8.87" height="8.87" fill="none" stroke="#000000" stroke-width="1.3" />
<rect x="107.16" y="436.47" width="44.33" height="44.33" fill="none" stroke="#000000" stroke-width="1.3" />
<rect x="151.49" y="480.79" width="53.19" height="53.19" fill="none" stroke="#000000" stroke-width="1.3" />
<rect x="204.68" y="533.98" width="17.73" height="17.73" fill="none" stroke="#000000" stroke-width="1.3" />
<rect x="222.41" y="551.71" width="70.92" height="70.92" fill="none" stroke="#000000" stroke-width="1.3" />
<rect x="293.33" y="622.63" width="8.87" height="8.87" fill="none" stroke="#000000" stroke-width="1.3" />
<rect x="302.19" y="631.50" width="35.46" height="35.46" fill="none" stroke="#000000" stroke-width="1.3" />
<text x="95.00" y="435.23" font-size="9.0" fill="#111111" text-anchor="end" stroke="#111111" stroke-width="0.18">Garofano PPR</text>
<text x="105.93" y="424.00" font-size="9.0" fill="#111111" transform="rotate(-90 105.93 424.00)" stroke="#111111" stroke-width="0.18">Garofano PPR</text>
<text x="95.00" y="444.10" font-size="9.0" fill="#000000" text-anchor="end" font-weight="bold" stroke="#000000" stroke-width="0.18">OLIG2</text>
<text x="114.80" y="424.00" font-size="9.0" fill="#000000" font-weight="bold" transform="rotate(-90 114.80 424.00)" stroke="#000000" stroke-width="0.18">OLIG2</text>
<text x="95.00" y="452.96" font-size="9.0" fill="#111111" text-anchor="end" stroke="#111111" stroke-width="0.18">Varn prolif. stem-like</text>
<text x="123.66" y="424.00" font-size="9.0" fill="#111111" transform="rotate(-90 123.66 424.00)" stroke="#111111" stroke-width="0.18">Varn prolif. stem-like</text>
<text x="95.00" y="461.83" font-size="9.0" fill="#111111" text-anchor="end" stroke="#111111" stroke-width="0.18">Neftel OPC</text>
<text x="132.53" y="424.00" font-size="9.0" fill="#111111" transform="rotate(-90 132.53 424.00)" stroke="#111111" stroke-width="0.18">Neftel OPC</text>
<text x="95.00" y="470.69" font-size="9.0" fill="#111111" text-anchor="end" stroke="#111111" stroke-width="0.18">Richards Develop.</text>
<text x="141.39" y="424.00" font-size="9.0" fill="#111111" transform="rotate(-90 141.39 424.00)" stroke="#111111" stroke-width="0.18">Richards Develop.</text>
<text x="95.00" y="479.56" font-size="9.0" fill="#111111" text-anchor="end" stroke="#111111" stroke-width="0.18">Varn stem-like</text>
<text x="150.26" y="424.00" font-size="9.0" fill="#111111" transform="rotate(-90 150.26 424.00)" stroke="#111111" stroke-width="0.18">Varn stem-like</text>
<text x="95.00" y="488.42" font-size="9.0" fill="#000000" text-anchor="end" font-weight="bold" stroke="#000000" stroke-width="0.18">CD24</text>
<text x="159.12" y="424.00" font-size="9.0" fill="#000000" font-weight="bold" transform="rotate(-90 159.12 424.00)" stroke="#000000" stroke-width="0.18">CD24</text>
<text x="95.00" y="497.29" font-size="9.0" fill="#111111" text-anchor="end" stroke="#111111" stroke-width="0.18">Neftel NPC2</text>
<text x="167.99" y="424.00" font-size="9.0" fill="#111111" transform="rotate(-90 167.99 424.00)" stroke="#111111" stroke-width="0.18">Neftel NPC2</text>
<text x="95.00" y="506.15" font-size="9.0" fill="#b162bb" text-anchor="end" font-weight="bold" stroke="#b162bb" stroke-width="0.18">PNGT3</text>
<text x="176.85" y="424.00" font-size="9.0" fill="#b162bb" font-weight="bold" transform="rotate(-90 176.85 424.00)" stroke="#b162bb" stroke-width="0.18">PNGT3</text>
<text x="95.00" y="515.02" font-size="9.0" fill="#111111" text-anchor="end" stroke="#111111" stroke-width="0.18">Verhaak PN</text>
<text x="185.72" y="424.00" font-size="9.0" fill="#111111" transform="rotate(-90 185.72 424.00)" stroke="#111111" stroke-width="0.18">Verhaak PN</text>
<text x="95.00" y="523.88" font-size="9.0" fill="#111111" text-anchor="end" stroke="#111111" stroke-width="0.18">Neftel NPC1</text>
<text x="194.58" y="424.00" font-size="9.0" fill="#111111" transform="rotate(-90 194.58 424.00)" stroke="#111111" stroke-width="0.18">Neftel NPC1</text>
<text x="95.00" y="532.75" font-size="9.0" fill="#111111" text-anchor="end" stroke="#111111" stroke-width="0.18">Neftel NPC comb.</text>
<text x="203.45" y="424.00" font-size="9.0" fill="#111111" transform="rotate(-90 203.45 424.00)" stroke="#111111" stroke-width="0.18">Neftel NPC comb.</text>
<text x="95.00" y="541.61" font-size="9.0" fill="#111111" text-anchor="end" stroke="#111111" stroke-width="0.18">Garofano NEU</text>
<text x="212.31" y="424.00" font-size="9.0" fill="#111111" transform="rotate(-90 212.31 424.00)" stroke="#111111" stroke-width="0.18">Garofano NEU</text>
<text x="95.00" y="550.48" font-size="9.0" fill="#111111" text-anchor="end" stroke="#111111" stroke-width="0.18">Verhaak NEU</text>
<text x="221.18" y="424.00" font-size="9.0" fill="#111111" transform="rotate(-90 221.18 424.00)" stroke="#111111" stroke-width="0.18">Verhaak NEU</text>
<text x="95.00" y="559.34" font-size="9.0" fill="#111111" text-anchor="end" stroke="#111111" stroke-width="0.18">Garofano GPM</text>
<text x="230.04" y="424.00" font-size="9.0" fill="#111111" transform="rotate(-90 230.04 424.00)" stroke="#111111" stroke-width="0.18">Garofano GPM</text>
<text x="95.00" y="568.21" font-size="9.0" fill="#e5202e" text-anchor="end" font-weight="bold" stroke="#e5202e" stroke-width="0.18">MGT4</text>
<text x="238.91" y="424.00" font-size="9.0" fill="#e5202e" font-weight="bold" transform="rotate(-90 238.91 424.00)" stroke="#e5202e" stroke-width="0.18">MGT4</text>
<text x="95.00" y="577.07" font-size="9.0" fill="#111111" text-anchor="end" stroke="#111111" stroke-width="0.18">Neftel MES2</text>
<text x="247.77" y="424.00" font-size="9.0" fill="#111111" transform="rotate(-90 247.77 424.00)" stroke="#111111" stroke-width="0.18">Neftel MES2</text>
<text x="95.00" y="585.94" font-size="9.0" fill="#000000" text-anchor="end" font-weight="bold" stroke="#000000" stroke-width="0.18">CD44</text>
<text x="256.64" y="424.00" font-size="9.0" fill="#000000" font-weight="bold" transform="rotate(-90 256.64 424.00)" stroke="#000000" stroke-width="0.18">CD44</text>
<text x="95.00" y="594.80" font-size="9.0" fill="#111111" text-anchor="end" stroke="#111111" stroke-width="0.18">Richards Injury</text>
<text x="265.50" y="424.00" font-size="9.0" fill="#111111" transform="rotate(-90 265.50 424.00)" stroke="#111111" stroke-width="0.18">Richards Injury</text>
<text x="95.00" y="603.67" font-size="9.0" fill="#111111" text-anchor="end" stroke="#111111" stroke-width="0.18">Verhaak MES</text>
<text x="274.37" y="424.00" font-size="9.0" fill="#111111" transform="rotate(-90 274.37 424.00)" stroke="#111111" stroke-width="0.18">Verhaak MES</text>
<text x="95.00" y="612.53" font-size="9.0" fill="#111111" text-anchor="end" stroke="#111111" stroke-width="0.18">Neftel MES1</text>
<text x="283.23" y="424.00" font-size="9.0" fill="#111111" transform="rotate(-90 283.23 424.00)" stroke="#111111" stroke-width="0.18">Neftel MES1</text>
<text x="95.00" y="621.40" font-size="9.0" fill="#111111" text-anchor="end" stroke="#111111" stroke-width="0.18">Neftel MES comb.</text>
<text x="292.10" y="424.00" font-size="9.0" fill="#111111" transform="rotate(-90 292.10 424.00)" stroke="#111111" stroke-width="0.18">Neftel MES comb.</text>
<text x="95.00" y="630.26" font-size="9.0" fill="#111111" text-anchor="end" stroke="#111111" stroke-width="0.18">Garofano MTC</text>
<text x="300.96" y="424.00" font-size="9.0" fill="#111111" transform="rotate(-90 300.96 424.00)" stroke="#111111" stroke-width="0.18">Garofano MTC</text>
<text x="95.00" y="639.13" font-size="9.0" fill="#111111" text-anchor="end" stroke="#111111" stroke-width="0.18">Neftel AC</text>
<text x="309.83" y="424.00" font-size="9.0" fill="#111111" transform="rotate(-90 309.83 424.00)" stroke="#111111" stroke-width="0.18">Neftel AC</text>
<text x="95.00" y="647.99" font-size="9.0" fill="#111111" text-anchor="end" stroke="#111111" stroke-width="0.18">Varn diff.-like</text>
<text x="318.69" y="424.00" font-size="9.0" fill="#111111" transform="rotate(-90 318.69 424.00)" stroke="#111111" stroke-width="0.18">Varn diff.-like</text>
<text x="95.00" y="656.86" font-size="9.0" fill="#111111" text-anchor="end" stroke="#111111" stroke-width="0.18">Verhaak CL</text>
<text x="327.56" y="424.00" font-size="9.0" fill="#111111" transform="rotate(-90 327.56 424.00)" stroke="#111111" stroke-width="0.18">Verhaak CL</text>
<text x="95.00" y="665.72" font-size="9.0" fill="#2f5fb3" text-anchor="end" font-weight="bold" stroke="#2f5fb3" stroke-width="0.18">CLGT3</text>
<text x="336.42" y="424.00" font-size="9.0" fill="#2f5fb3" font-weight="bold" transform="rotate(-90 336.42 424.00)" stroke="#2f5fb3" stroke-width="0.18">CLGT3</text>
<rect x="342.30" y="428.00" width="9.20" height="24.10" fill="#2b1a55" stroke="none" stroke-width="1" />
<rect x="342.30" y="451.90" width="9.20" height="24.10" fill="#553d96" stroke="none" stroke-width="1" />
<rect x="342.30" y="475.80" width="9.20" height="24.10" fill="#8a80b8" stroke="none" stroke-width="1" />
<rect x="342.30" y="499.70" width="9.20" height="24.10" fill="#b2acd4" stroke="none" stroke-width="1" />
<rect x="342.30" y="523.60" width="9.20" height="24.10" fill="#e0e2ee" stroke="none" stroke-width="1" />
<rect x="342.30" y="547.50" width="9.20" height="24.10" fill="#fde6cc" stroke="none" stroke-width="1" />
<rect x="342.30" y="571.40" width="9.20" height="24.10" fill="#fbbd7c" stroke="none" stroke-width="1" />
<rect x="342.30" y="595.30" width="9.20" height="24.10" fill="#e88b2f" stroke="none" stroke-width="1" />
<rect x="342.30" y="619.20" width="9.20" height="24.10" fill="#b0622a" stroke="none" stroke-width="1" />
<rect x="342.30" y="643.10" width="9.20" height="24.10" fill="#7a3d1a" stroke="none" stroke-width="1" />
<rect x="342.30" y="428.00" width="9.20" height="239.00" fill="none" stroke="#333333" stroke-width="0.4" />
<line x1="351.50" y1="428.00" x2="353.30" y2="428.00" stroke="#231f20" stroke-width="0.6" />
<text x="366.50" y="431.60" font-size="10.2" fill="#111111" text-anchor="middle" >1</text>
<line x1="351.50" y1="451.90" x2="353.30" y2="451.90" stroke="#231f20" stroke-width="0.6" />
<text x="357.20" y="455.50" font-size="10.2" fill="#111111" >0.8</text>
<line x1="351.50" y1="475.80" x2="353.30" y2="475.80" stroke="#231f20" stroke-width="0.6" />
<text x="357.20" y="479.40" font-size="10.2" fill="#111111" >0.6</text>
<line x1="351.50" y1="499.70" x2="353.30" y2="499.70" stroke="#231f20" stroke-width="0.6" />
<text x="357.20" y="503.30" font-size="10.2" fill="#111111" >0.4</text>
<line x1="351.50" y1="523.60" x2="353.30" y2="523.60" stroke="#231f20" stroke-width="0.6" />
<text x="357.20" y="527.20" font-size="10.2" fill="#111111" >0.2</text>
<line x1="351.50" y1="547.50" x2="353.30" y2="547.50" stroke="#231f20" stroke-width="0.6" />
<text x="366.50" y="551.10" font-size="10.2" fill="#111111" text-anchor="middle" >0</text>
<line x1="351.50" y1="571.40" x2="353.30" y2="571.40" stroke="#231f20" stroke-width="0.6" />
<text x="354.60" y="575.00" font-size="10.2" fill="#111111" textLength="18.70" lengthAdjust="spacingAndGlyphs" >−0.2</text>
<line x1="351.50" y1="595.30" x2="353.30" y2="595.30" stroke="#231f20" stroke-width="0.6" />
<text x="354.60" y="598.90" font-size="10.2" fill="#111111" textLength="18.70" lengthAdjust="spacingAndGlyphs" >−0.4</text>
<line x1="351.50" y1="619.20" x2="353.30" y2="619.20" stroke="#231f20" stroke-width="0.6" />
<text x="354.60" y="622.80" font-size="10.2" fill="#111111" textLength="18.70" lengthAdjust="spacingAndGlyphs" >−0.6</text>
<line x1="351.50" y1="643.10" x2="353.30" y2="643.10" stroke="#231f20" stroke-width="0.6" />
<text x="354.60" y="646.70" font-size="10.2" fill="#111111" textLength="18.70" lengthAdjust="spacingAndGlyphs" >−0.8</text>
<line x1="351.50" y1="667.00" x2="353.30" y2="667.00" stroke="#231f20" stroke-width="0.6" />
<text x="358.50" y="670.60" font-size="10.2" fill="#111111" textLength="9.70" lengthAdjust="spacingAndGlyphs" >−1</text>
<text x="472.50" y="398.00" font-size="18" fill="#000000" font-weight="bold" textLength="208.30" lengthAdjust="spacingAndGlyphs" >IDH-WT hGICs PB-MGT4</text>
<text x="412.40" y="618.20" font-size="15.3" fill="#000000" font-weight="bold" textLength="203.60" lengthAdjust="spacingAndGlyphs" transform="rotate(-90 412.40 618.20)" >Geometric mean MFI [log10]</text>
<line x1="480.90" y1="421.90" x2="480.90" y2="613.00" stroke="#231f20" stroke-width="1.0" />
<line x1="474.30" y1="421.90" x2="480.90" y2="421.90" stroke="#231f20" stroke-width="1.0" />
<text x="469.90" y="426.50" font-size="13.6" fill="#000000" text-anchor="end" font-weight="bold" textLength="46.00" lengthAdjust="spacingAndGlyphs" >100000</text>
<line x1="474.30" y1="459.90" x2="480.90" y2="459.90" stroke="#231f20" stroke-width="1.0" />
<text x="469.90" y="464.50" font-size="13.6" fill="#000000" text-anchor="end" font-weight="bold" textLength="38.40" lengthAdjust="spacingAndGlyphs" >10000</text>
<line x1="474.30" y1="498.10" x2="480.90" y2="498.10" stroke="#231f20" stroke-width="1.0" />
<text x="469.90" y="502.70" font-size="13.6" fill="#000000" text-anchor="end" font-weight="bold" textLength="30.70" lengthAdjust="spacingAndGlyphs" >1000</text>
<line x1="474.30" y1="536.30" x2="480.90" y2="536.30" stroke="#231f20" stroke-width="1.0" />
<text x="469.90" y="540.90" font-size="13.6" fill="#000000" text-anchor="end" font-weight="bold" textLength="23.00" lengthAdjust="spacingAndGlyphs" >100</text>
<line x1="474.30" y1="574.50" x2="480.90" y2="574.50" stroke="#231f20" stroke-width="1.0" />
<text x="469.90" y="579.10" font-size="13.6" fill="#000000" text-anchor="end" font-weight="bold" textLength="15.30" lengthAdjust="spacingAndGlyphs" >10</text>
<line x1="474.30" y1="613.00" x2="480.90" y2="613.00" stroke="#231f20" stroke-width="1.0" />
<text x="469.90" y="617.60" font-size="13.6" fill="#000000" text-anchor="end" font-weight="bold" textLength="7.70" lengthAdjust="spacingAndGlyphs" >1</text>
<line x1="480.40" y1="613.00" x2="672.00" y2="613.00" stroke="#231f20" stroke-width="1.0" />
<line x1="510.30" y1="613.00" x2="510.30" y2="618.80" stroke="#231f20" stroke-width="1.0" />
<line x1="576.60" y1="613.00" x2="576.60" y2="618.80" stroke="#231f20" stroke-width="1.0" />
<line x1="642.70" y1="613.00" x2="642.70" y2="618.80" stroke="#231f20" stroke-width="1.0" />
<text x="494.50" y="636.60" font-size="13.8" fill="#000000" font-weight="bold" textLength="31.20" lengthAdjust="spacingAndGlyphs" >MGT</text>
<text x="557.90" y="636.60" font-size="13.8" fill="#000000" font-weight="bold" textLength="36.80" lengthAdjust="spacingAndGlyphs" >CD44</text>
<text x="624.30" y="636.60" font-size="13.8" fill="#000000" font-weight="bold" textLength="36.70" lengthAdjust="spacingAndGlyphs" >CD24</text>
<rect x="489.60" y="512.20" width="16.40" height="100.80" fill="#55565b" stroke="#231f20" stroke-width="0.9" />
<rect x="514.40" y="489.20" width="16.50" height="123.80" fill="#e1e2e2" stroke="#231f20" stroke-width="0.9" />
<rect x="556.30" y="505.70" width="15.90" height="107.30" fill="#55565b" stroke="#231f20" stroke-width="0.9" />
<rect x="580.90" y="503.30" width="16.40" height="109.70" fill="#e1e2e2" stroke="#231f20" stroke-width="0.9" />
<rect x="622.80" y="487.10" width="15.80" height="125.90" fill="#55565b" stroke="#231f20" stroke-width="0.9" />
<rect x="647.00" y="481.40" width="16.50" height="131.60" fill="#e1e2e2" stroke="#231f20" stroke-width="0.9" />
<circle cx="492.30" cy="512.20" r="1.60" fill="#ffffff" stroke="#231f20" stroke-width="0.7" />
<circle cx="497.60" cy="512.00" r="1.60" fill="#ffffff" stroke="#231f20" stroke-width="0.7" />
<circle cx="503.30" cy="512.20" r="1.60" fill="#ffffff" stroke="#231f20" stroke-width="0.7" />
<circle cx="516.60" cy="489.20" r="1.60" fill="#ffffff" stroke="#231f20" stroke-width="0.7" />
<circle cx="522.30" cy="489.00" r="1.60" fill="#ffffff" stroke="#231f20" stroke-width="0.7" />
<circle cx="528.30" cy="489.20" r="1.60" fill="#ffffff" stroke="#231f20" stroke-width="0.7" />
<circle cx="560.50" cy="503.50" r="1.60" fill="#ffffff" stroke="#231f20" stroke-width="0.7" />
<circle cx="564.50" cy="505.50" r="1.60" fill="#ffffff" stroke="#231f20" stroke-width="0.7" />
<circle cx="562.50" cy="508.50" r="1.60" fill="#ffffff" stroke="#231f20" stroke-width="0.7" />
<circle cx="583.80" cy="504.20" r="1.60" fill="#ffffff" stroke="#231f20" stroke-width="0.7" />
<circle cx="589.50" cy="502.20" r="1.60" fill="#ffffff" stroke="#231f20" stroke-width="0.7" />
<circle cx="594.80" cy="503.60" r="1.60" fill="#ffffff" stroke="#231f20" stroke-width="0.7" />
<circle cx="625.50" cy="487.80" r="1.60" fill="#ffffff" stroke="#231f20" stroke-width="0.7" />
<circle cx="630.80" cy="486.60" r="1.60" fill="#ffffff" stroke="#231f20" stroke-width="0.7" />
<circle cx="636.20" cy="487.20" r="1.60" fill="#ffffff" stroke="#231f20" stroke-width="0.7" />
<circle cx="649.70" cy="481.40" r="1.60" fill="#ffffff" stroke="#231f20" stroke-width="0.7" />
<circle cx="655.30" cy="481.20" r="1.60" fill="#ffffff" stroke="#231f20" stroke-width="0.7" />
<circle cx="660.90" cy="481.40" r="1.60" fill="#ffffff" stroke="#231f20" stroke-width="0.7" />
<path d="M497.4,505.4 V472.7 H524.3 V481.4" fill="none" stroke="#231f20" stroke-width="0.9"/>
<path d="M563.2,497.3 V488.3 H588.3 V496.7" fill="none" stroke="#231f20" stroke-width="0.9"/>
<path d="M630.3,484.7 V465.2 H655.1 V474.8" fill="none" stroke="#231f20" stroke-width="0.9"/>
<text x="485.40" y="458.00" font-size="10.4" fill="#000000" textLength="61.00" lengthAdjust="spacingAndGlyphs" >p = 0.000001</text>
<text x="510.70" y="469.00" font-size="11" fill="#000000" text-anchor="middle" font-weight="bold" textLength="22.40" lengthAdjust="spacingAndGlyphs" >****</text>
<text x="575.90" y="481.00" font-size="10.4" fill="#000000" text-anchor="middle" textLength="10.50" lengthAdjust="spacingAndGlyphs" >ns</text>
<text x="620.70" y="448.40" font-size="10.4" fill="#000000" textLength="62.30" lengthAdjust="spacingAndGlyphs" >p = 0.000967</text>
<text x="643.10" y="461.20" font-size="11" fill="#000000" text-anchor="middle" font-weight="bold" textLength="16.20" lengthAdjust="spacingAndGlyphs" >***</text>
<rect x="497.30" y="418.80" width="10.30" height="9.50" fill="#55565b" stroke="#231f20" stroke-width="0.8" />
<text x="513.80" y="429.00" font-size="15" fill="#000000" textLength="64.40" lengthAdjust="spacingAndGlyphs" >untreated</text>
<rect x="600.50" y="418.80" width="10.30" height="9.50" fill="#e1e2e2" stroke="#231f20" stroke-width="0.8" />
<text x="617.00" y="429.00" font-size="15" fill="#000000" textLength="39.60" lengthAdjust="spacingAndGlyphs" >TNFα</text>
<text x="234.50" y="690.80" font-size="12" fill="#231f20" textLength="167.10" lengthAdjust="spacingAndGlyphs" >transfect LSD &amp; 1st gen. sLCR</text>
<text x="231.60" y="705.70" font-size="12" fill="#231f20" textLength="172.90" lengthAdjust="spacingAndGlyphs" >in human, mouse and rat cells</text>
<text x="141.10" y="777.10" font-size="12" fill="#231f20" textLength="77.80" lengthAdjust="spacingAndGlyphs" >Design sLCRs</text>
<text x="110.50" y="791.70" font-size="12" fill="#231f20" textLength="139.00" lengthAdjust="spacingAndGlyphs" >on multiple phenotypes</text>
<text x="413.70" y="790.10" font-size="12" fill="#231f20" textLength="75.40" lengthAdjust="spacingAndGlyphs" >high-content</text>
<text x="399.60" y="804.50" font-size="12" fill="#231f20" textLength="102.40" lengthAdjust="spacingAndGlyphs" >image acquisition</text>
<text x="535.90" y="693.70" font-size="12" fill="#231f20" textLength="26.30" lengthAdjust="spacingAndGlyphs" >Data</text>
<text x="526.30" y="707.60" font-size="12" fill="#231f20" textLength="45.20" lengthAdjust="spacingAndGlyphs" >analysis</text>
<rect x="143.00" y="724.70" width="31.50" height="23.50" fill="#eef0f8" stroke="#4e5458" stroke-width="1.4" />
<rect x="143.70" y="745.90" width="30.10" height="1.60" fill="#c5d2ea" stroke="none" stroke-width="1" />
<rect x="156.85" y="748.90" width="3.80" height="5.80" fill="#4e5458" stroke="none" stroke-width="1" />
<path d="M153.15,757.00 L154.75,754.50 L162.75,754.50 L164.35,757.00 Z" fill="#4e5458"/>
<rect x="194.70" y="724.70" width="31.50" height="23.50" fill="#eef0f8" stroke="#4e5458" stroke-width="1.4" />
<rect x="195.40" y="745.90" width="30.10" height="1.60" fill="#c5d2ea" stroke="none" stroke-width="1" />
<rect x="208.55" y="748.90" width="3.80" height="5.80" fill="#4e5458" stroke="none" stroke-width="1" />
<path d="M204.85,757.00 L206.45,754.50 L214.45,754.50 L216.05,757.00 Z" fill="#4e5458"/>
<circle cx="155.18" cy="736.11" r="0.55" fill="#c0c0c0" stroke="none" stroke-width="0" opacity="0.8"/>
<circle cx="150.69" cy="736.61" r="0.55" fill="#9a70c0" stroke="none" stroke-width="0" opacity="0.8"/>
<circle cx="156.10" cy="737.84" r="0.55" fill="#f0b030" stroke="none" stroke-width="0" opacity="0.8"/>
<circle cx="159.62" cy="736.34" r="0.55" fill="#5aa0d8" stroke="none" stroke-width="0" opacity="0.8"/>
<circle cx="150.31" cy="733.99" r="0.55" fill="#e05a6a" stroke="none" stroke-width="0" opacity="0.8"/>
<circle cx="153.09" cy="733.84" r="0.55" fill="#c0c0c0" stroke="none" stroke-width="0" opacity="0.8"/>
<circle cx="156.19" cy="732.47" r="0.55" fill="#f0b030" stroke="none" stroke-width="0" opacity="0.8"/>
<circle cx="151.89" cy="732.03" r="0.55" fill="#5aa0d8" stroke="none" stroke-width="0" opacity="0.8"/>
<circle cx="156.39" cy="735.77" r="0.55" fill="#9a70c0" stroke="none" stroke-width="0" opacity="0.8"/>
<circle cx="154.77" cy="732.76" r="0.55" fill="#e08850" stroke="none" stroke-width="0" opacity="0.8"/>
<circle cx="150.88" cy="736.88" r="0.55" fill="#9a70c0" stroke="none" stroke-width="0" opacity="0.8"/>
<circle cx="153.28" cy="733.02" r="0.55" fill="#5aa0d8" stroke="none" stroke-width="0" opacity="0.8"/>
<circle cx="156.21" cy="735.71" r="0.55" fill="#5aa0d8" stroke="none" stroke-width="0" opacity="0.8"/>
<circle cx="154.48" cy="733.18" r="0.55" fill="#9a70c0" stroke="none" stroke-width="0" opacity="0.8"/>
<circle cx="154.44" cy="735.15" r="0.55" fill="#5aa0d8" stroke="none" stroke-width="0" opacity="0.8"/>
<circle cx="154.39" cy="737.92" r="0.55" fill="#7090c8" stroke="none" stroke-width="0" opacity="0.8"/>
<circle cx="155.39" cy="735.38" r="0.55" fill="#e05a6a" stroke="none" stroke-width="0" opacity="0.8"/>
<circle cx="156.20" cy="740.55" r="0.55" fill="#e05a6a" stroke="none" stroke-width="0" opacity="0.8"/>
<circle cx="151.67" cy="736.46" r="0.55" fill="#7090c8" stroke="none" stroke-width="0" opacity="0.8"/>
<circle cx="152.40" cy="736.70" r="0.55" fill="#9a70c0" stroke="none" stroke-width="0" opacity="0.8"/>
<circle cx="155.32" cy="733.33" r="0.55" fill="#5aa0d8" stroke="none" stroke-width="0" opacity="0.8"/>
<circle cx="157.85" cy="735.59" r="0.55" fill="#7090c8" stroke="none" stroke-width="0" opacity="0.8"/>
<circle cx="155.06" cy="734.00" r="0.55" fill="#9a70c0" stroke="none" stroke-width="0" opacity="0.8"/>
<circle cx="154.91" cy="734.86" r="0.55" fill="#c0c0c0" stroke="none" stroke-width="0" opacity="0.8"/>
<circle cx="158.42" cy="733.76" r="0.55" fill="#9a70c0" stroke="none" stroke-width="0" opacity="0.8"/>
<circle cx="153.58" cy="735.71" r="0.55" fill="#f0b030" stroke="none" stroke-width="0" opacity="0.8"/>
<circle cx="153.02" cy="736.35" r="0.55" fill="#7090c8" stroke="none" stroke-width="0" opacity="0.8"/>
<circle cx="156.60" cy="735.99" r="0.55" fill="#50b890" stroke="none" stroke-width="0" opacity="0.8"/>
<circle cx="159.11" cy="730.30" r="0.55" fill="#50b890" stroke="none" stroke-width="0" opacity="0.8"/>
<circle cx="155.46" cy="735.19" r="0.55" fill="#f0b030" stroke="none" stroke-width="0" opacity="0.8"/>
<circle cx="154.45" cy="738.10" r="0.55" fill="#5aa0d8" stroke="none" stroke-width="0" opacity="0.8"/>
<circle cx="156.25" cy="735.55" r="0.55" fill="#c0c0c0" stroke="none" stroke-width="0" opacity="0.8"/>
<circle cx="154.79" cy="739.33" r="0.55" fill="#e08850" stroke="none" stroke-width="0" opacity="0.8"/>
<circle cx="159.10" cy="733.12" r="0.55" fill="#5aa0d8" stroke="none" stroke-width="0" opacity="0.8"/>
<circle cx="157.57" cy="736.90" r="0.55" fill="#9a70c0" stroke="none" stroke-width="0" opacity="0.8"/>
<circle cx="157.20" cy="735.42" r="0.55" fill="#c0c0c0" stroke="none" stroke-width="0" opacity="0.8"/>
<circle cx="160.13" cy="737.49" r="0.55" fill="#f0b030" stroke="none" stroke-width="0" opacity="0.8"/>
<circle cx="155.98" cy="734.07" r="0.55" fill="#f0b030" stroke="none" stroke-width="0" opacity="0.8"/>
<circle cx="154.38" cy="736.80" r="0.55" fill="#9a70c0" stroke="none" stroke-width="0" opacity="0.8"/>
<circle cx="157.79" cy="733.81" r="0.55" fill="#9a70c0" stroke="none" stroke-width="0" opacity="0.8"/>
<circle cx="154.12" cy="733.00" r="0.55" fill="#c0c0c0" stroke="none" stroke-width="0" opacity="0.8"/>
<circle cx="153.09" cy="733.68" r="0.55" fill="#5aa0d8" stroke="none" stroke-width="0" opacity="0.8"/>
<circle cx="160.13" cy="737.02" r="0.55" fill="#50b890" stroke="none" stroke-width="0" opacity="0.8"/>
<circle cx="155.26" cy="738.94" r="0.55" fill="#50b890" stroke="none" stroke-width="0" opacity="0.8"/>
<circle cx="150.62" cy="737.68" r="0.55" fill="#c0c0c0" stroke="none" stroke-width="0" opacity="0.8"/>
<circle cx="157.61" cy="736.64" r="0.55" fill="#5aa0d8" stroke="none" stroke-width="0" opacity="0.8"/>
<circle cx="156.84" cy="737.16" r="0.55" fill="#5aa0d8" stroke="none" stroke-width="0" opacity="0.8"/>
<circle cx="154.03" cy="740.46" r="0.55" fill="#9a70c0" stroke="none" stroke-width="0" opacity="0.8"/>
<circle cx="157.99" cy="734.29" r="0.55" fill="#7090c8" stroke="none" stroke-width="0" opacity="0.8"/>
<circle cx="154.23" cy="735.48" r="0.55" fill="#f0b030" stroke="none" stroke-width="0" opacity="0.8"/>
<circle cx="154.44" cy="738.09" r="0.55" fill="#f0b030" stroke="none" stroke-width="0" opacity="0.8"/>
<circle cx="159.05" cy="735.92" r="0.55" fill="#c0c0c0" stroke="none" stroke-width="0" opacity="0.8"/>
<circle cx="158.34" cy="734.77" r="0.55" fill="#f0b030" stroke="none" stroke-width="0" opacity="0.8"/>
<circle cx="150.59" cy="732.29" r="0.55" fill="#c0c0c0" stroke="none" stroke-width="0" opacity="0.8"/>
<circle cx="161.02" cy="733.21" r="0.55" fill="#e05a6a" stroke="none" stroke-width="0" opacity="0.8"/>
<circle cx="158.24" cy="735.65" r="0.55" fill="#c0c0c0" stroke="none" stroke-width="0" opacity="0.8"/>
<circle cx="156.81" cy="736.05" r="0.55" fill="#f0b030" stroke="none" stroke-width="0" opacity="0.8"/>
<circle cx="158.91" cy="735.20" r="0.55" fill="#e08850" stroke="none" stroke-width="0" opacity="0.8"/>
<circle cx="154.60" cy="730.06" r="0.55" fill="#f0b030" stroke="none" stroke-width="0" opacity="0.8"/>
<circle cx="156.37" cy="730.07" r="0.55" fill="#e08850" stroke="none" stroke-width="0" opacity="0.8"/>
<circle cx="160.24" cy="736.58" r="0.55" fill="#5aa0d8" stroke="none" stroke-width="0" opacity="0.8"/>
<circle cx="156.65" cy="733.39" r="0.55" fill="#e05a6a" stroke="none" stroke-width="0" opacity="0.8"/>
<circle cx="156.96" cy="732.83" r="0.55" fill="#7090c8" stroke="none" stroke-width="0" opacity="0.8"/>
<circle cx="157.74" cy="735.46" r="0.55" fill="#5aa0d8" stroke="none" stroke-width="0" opacity="0.8"/>
<circle cx="157.88" cy="736.86" r="0.55" fill="#50b890" stroke="none" stroke-width="0" opacity="0.8"/>
<circle cx="157.70" cy="732.54" r="0.55" fill="#7090c8" stroke="none" stroke-width="0" opacity="0.8"/>
<circle cx="161.24" cy="733.72" r="0.55" fill="#c0c0c0" stroke="none" stroke-width="0" opacity="0.8"/>
<circle cx="150.91" cy="736.87" r="0.55" fill="#5aa0d8" stroke="none" stroke-width="0" opacity="0.8"/>
<circle cx="152.25" cy="734.86" r="0.55" fill="#50b890" stroke="none" stroke-width="0" opacity="0.8"/>
<circle cx="155.88" cy="733.57" r="0.55" fill="#9a70c0" stroke="none" stroke-width="0" opacity="0.8"/>
<circle cx="166.50" cy="730.00" r="0.50" fill="#8a8a9a" stroke="none" stroke-width="0" />
<circle cx="166.50" cy="731.40" r="0.50" fill="#8a8a9a" stroke="none" stroke-width="0" />
<circle cx="166.50" cy="732.80" r="0.50" fill="#8a8a9a" stroke="none" stroke-width="0" />
<circle cx="166.50" cy="734.20" r="0.50" fill="#8a8a9a" stroke="none" stroke-width="0" />
<circle cx="166.50" cy="735.60" r="0.50" fill="#8a8a9a" stroke="none" stroke-width="0" />
<circle cx="166.50" cy="737.00" r="0.50" fill="#8a8a9a" stroke="none" stroke-width="0" />
<circle cx="149.00" cy="742.30" r="0.45" fill="#9a9aa8" stroke="none" stroke-width="0" />
<circle cx="150.30" cy="742.30" r="0.45" fill="#9a9aa8" stroke="none" stroke-width="0" />
<circle cx="151.60" cy="742.30" r="0.45" fill="#9a9aa8" stroke="none" stroke-width="0" />
<circle cx="152.90" cy="742.30" r="0.45" fill="#9a9aa8" stroke="none" stroke-width="0" />
<circle cx="154.20" cy="742.30" r="0.45" fill="#9a9aa8" stroke="none" stroke-width="0" />
<circle cx="155.50" cy="742.30" r="0.45" fill="#9a9aa8" stroke="none" stroke-width="0" />
<circle cx="156.80" cy="742.30" r="0.45" fill="#9a9aa8" stroke="none" stroke-width="0" />
<circle cx="158.10" cy="742.30" r="0.45" fill="#9a9aa8" stroke="none" stroke-width="0" />
<circle cx="159.40" cy="742.30" r="0.45" fill="#9a9aa8" stroke="none" stroke-width="0" />
<circle cx="160.70" cy="742.30" r="0.45" fill="#9a9aa8" stroke="none" stroke-width="0" />
<ellipse cx="210.6" cy="736.2" rx="5.2" ry="6.9" fill="none" stroke="#8a4fb2" stroke-width="1.3"/>
<path d="M211.5,729.4 A5.2,6.9 0 0 1 215.6,734.0" fill="none" stroke="#3b92d6" stroke-width="1.4"/>
<path d="M215.8,737.5 A5.2,6.9 0 0 1 212.6,742.6" fill="none" stroke="#3db24c" stroke-width="1.4"/>
<circle cx="210.40" cy="729.30" r="0.80" fill="#e04848" stroke="none" stroke-width="0" />
<line x1="180.80" y1="736.30" x2="187.00" y2="736.30" stroke="#231f20" stroke-width="0.8" />
<path d="M190.60,736.30 L187.00,738.00 L187.00,734.60 Z" fill="#231f20"/>
<line x1="233.40" y1="737.20" x2="239.60" y2="737.20" stroke="#231f20" stroke-width="0.8" />
<path d="M243.20,737.20 L239.60,738.90 L239.60,735.50 Z" fill="#231f20"/>
<line x1="245.10" y1="734.00" x2="245.10" y2="742.50" stroke="#e8a0a8" stroke-width="0.7" />
<line x1="307.70" y1="739.90" x2="320.71" y2="740.76" stroke="#231f20" stroke-width="0.8" />
<path d="M324.30,741.00 L320.60,742.46 L320.82,739.07 Z" fill="#231f20"/>
<line x1="389.50" y1="741.40" x2="402.80" y2="741.87" stroke="#231f20" stroke-width="0.8" />
<path d="M406.40,742.00 L402.74,743.57 L402.86,740.17 Z" fill="#231f20"/>
<line x1="494.00" y1="743.00" x2="506.40" y2="743.31" stroke="#231f20" stroke-width="0.8" />
<path d="M510.00,743.40 L506.36,745.01 L506.44,741.61 Z" fill="#231f20"/>
<path d="M252.83,728.94 L253.15,728.09 L253.51,727.25 L253.93,726.43 L254.40,725.64 L254.92,724.87 L255.48,724.13 L256.10,723.43 L256.75,722.76 L257.45,722.13 L258.19,721.54 L258.97,721.01 L259.78,720.52 L260.63,720.08 L261.50,719.69 L262.39,719.36 L263.31,719.09 L264.24,718.88 L265.19,718.72 L266.14,718.63 L267.10,718.60 L268.06,718.63 L269.01,718.72 L269.96,718.88 L270.89,719.09 L271.81,719.36 L272.70,719.69 L273.57,720.08 L274.42,720.52 L275.23,721.01 L276.01,721.54 L276.75,722.13 L277.45,722.76 L278.10,723.43 L278.72,724.13 L279.28,724.87 L279.80,725.64 L280.27,726.43 L280.69,727.25 L281.05,728.09 L281.37,728.94 L279.34,729.80 L278.95,729.13 L278.53,728.48 L278.07,727.86 L277.58,727.27 L277.06,726.72 L276.51,726.19 L275.94,725.70 L275.34,725.25 L274.73,724.82 L274.09,724.44 L273.44,724.09 L272.77,723.78 L272.09,723.50 L271.40,723.26 L270.69,723.06 L269.98,722.89 L269.27,722.77 L268.55,722.67 L267.82,722.62 L267.10,722.60 L266.38,722.62 L265.65,722.67 L264.93,722.77 L264.22,722.89 L263.51,723.06 L262.80,723.26 L262.11,723.50 L261.43,723.78 L260.76,724.09 L260.11,724.44 L259.47,724.82 L258.86,725.25 L258.26,725.70 L257.69,726.19 L257.14,726.72 L256.62,727.27 L256.13,727.86 L255.67,728.48 L255.25,729.13 L254.86,729.80 Z" fill="#b8283d" />
<path d="M288.14,720.68 L289.10,720.73 L290.06,720.84 L291.01,721.01 L291.95,721.24 L292.88,721.53 L293.80,721.88 L294.69,722.29 L295.56,722.76 L296.40,723.29 L297.21,723.87 L297.98,724.50 L298.71,725.19 L299.40,725.92 L300.03,726.70 L300.62,727.52 L301.15,728.38 L301.62,729.27 L302.03,730.20 L302.38,731.15 L302.67,732.12 L302.89,733.11 L303.04,734.11 L303.13,735.12 L303.15,736.13 L303.10,737.13 L302.99,738.14 L302.81,739.12 L302.57,740.10 L302.26,741.05 L301.90,741.98 L301.47,742.88 L300.99,743.75 L300.46,744.58 L299.87,745.37 L299.24,746.12 L298.57,746.83 L297.86,747.49 L297.11,748.10 L296.32,748.66 L295.51,749.17 L294.12,747.19 L294.72,746.64 L295.28,746.07 L295.80,745.47 L296.28,744.84 L296.73,744.18 L297.13,743.51 L297.49,742.82 L297.80,742.11 L298.08,741.39 L298.31,740.66 L298.50,739.92 L298.65,739.17 L298.76,738.42 L298.83,737.67 L298.86,736.92 L298.85,736.17 L298.80,735.42 L298.71,734.68 L298.58,733.95 L298.41,733.22 L298.20,732.50 L297.96,731.80 L297.68,731.10 L297.36,730.43 L297.01,729.76 L296.62,729.12 L296.20,728.50 L295.74,727.89 L295.24,727.32 L294.72,726.76 L294.16,726.24 L293.57,725.74 L292.95,725.27 L292.30,724.84 L291.62,724.45 L290.92,724.09 L290.19,723.77 L289.44,723.50 L288.67,723.27 L287.89,723.08 Z" fill="#1fae4a" />
<path d="M293.02,754.55 L292.65,755.29 L292.24,756.02 L291.78,756.72 L291.29,757.40 L290.75,758.05 L290.18,758.68 L289.57,759.27 L288.93,759.83 L288.25,760.36 L287.55,760.84 L286.81,761.29 L286.04,761.69 L285.26,762.05 L284.45,762.36 L283.62,762.63 L282.78,762.84 L281.92,763.01 L281.06,763.12 L280.19,763.19 L279.31,763.20 L278.44,763.16 L277.57,763.06 L276.71,762.92 L275.87,762.72 L275.03,762.48 L274.21,762.19 L273.41,761.85 L272.64,761.46 L271.89,761.03 L271.17,760.56 L270.48,760.05 L269.82,759.50 L269.20,758.92 L268.61,758.30 L268.06,757.66 L267.55,756.98 L267.08,756.29 L266.65,755.57 L266.26,754.83 L265.91,754.08 L267.86,753.04 L268.27,753.62 L268.70,754.18 L269.17,754.71 L269.65,755.21 L270.16,755.68 L270.69,756.12 L271.24,756.53 L271.81,756.92 L272.39,757.27 L272.98,757.60 L273.59,757.89 L274.21,758.16 L274.83,758.39 L275.47,758.60 L276.11,758.77 L276.76,758.92 L277.41,759.03 L278.07,759.12 L278.72,759.17 L279.38,759.20 L280.04,759.19 L280.70,759.16 L281.36,759.10 L282.02,759.01 L282.67,758.88 L283.32,758.73 L283.96,758.55 L284.59,758.34 L285.22,758.10 L285.84,757.82 L286.44,757.52 L287.03,757.18 L287.61,756.82 L288.18,756.43 L288.72,756.00 L289.25,755.55 L289.75,755.06 L290.23,754.55 L290.69,754.01 L291.12,753.45 Z" fill="#f29a26" />
<circle cx="267.10" cy="735.00" r="14.20" fill="none" stroke="#6d6e71" stroke-width="0.7" />
<circle cx="286.50" cy="736.30" r="14.20" fill="none" stroke="#6d6e71" stroke-width="0.7" />
<circle cx="279.60" cy="746.80" r="14.20" fill="none" stroke="#6d6e71" stroke-width="0.7" />
<path d="M333.5,720.6 H384.1 V759.8 H331.3 V722.8 Z" fill="#e9f0f5" stroke="#d3dee7" stroke-width="0.9"/>
<g fill="#bfe0ee"><circle cx="337.30" cy="727.60" r="1.8"/><circle cx="341.27" cy="727.60" r="1.8"/><circle cx="345.24" cy="727.60" r="1.8"/><circle cx="349.21" cy="727.60" r="1.8"/><circle cx="353.18" cy="727.60" r="1.8"/><circle cx="357.15" cy="727.60" r="1.8"/><circle cx="361.12" cy="727.60" r="1.8"/><circle cx="365.09" cy="727.60" r="1.8"/><circle cx="369.06" cy="727.60" r="1.8"/><circle cx="373.03" cy="727.60" r="1.8"/><circle cx="377.00" cy="727.60" r="1.8"/><circle cx="380.97" cy="727.60" r="1.8"/><circle cx="337.30" cy="731.60" r="1.8"/><circle cx="341.27" cy="731.60" r="1.8"/><circle cx="345.24" cy="731.60" r="1.8"/><circle cx="349.21" cy="731.60" r="1.8"/><circle cx="353.18" cy="731.60" r="1.8"/><circle cx="357.15" cy="731.60" r="1.8"/><circle cx="361.12" cy="731.60" r="1.8"/><circle cx="365.09" cy="731.60" r="1.8"/><circle cx="369.06" cy="731.60" r="1.8"/><circle cx="373.03" cy="731.60" r="1.8"/><circle cx="377.00" cy="731.60" r="1.8"/><circle cx="380.97" cy="731.60" r="1.8"/><circle cx="337.30" cy="735.60" r="1.8"/><circle cx="341.27" cy="735.60" r="1.8"/><circle cx="345.24" cy="735.60" r="1.8"/><circle cx="349.21" cy="735.60" r="1.8"/><circle cx="353.18" cy="735.60" r="1.8"/><circle cx="357.15" cy="735.60" r="1.8"/><circle cx="361.12" cy="735.60" r="1.8"/><circle cx="365.09" cy="735.60" r="1.8"/><circle cx="369.06" cy="735.60" r="1.8"/><circle cx="373.03" cy="735.60" r="1.8"/><circle cx="377.00" cy="735.60" r="1.8"/><circle cx="380.97" cy="735.60" r="1.8"/><circle cx="337.30" cy="739.60" r="1.8"/><circle cx="341.27" cy="739.60" r="1.8"/><circle cx="345.24" cy="739.60" r="1.8"/><circle cx="349.21" cy="739.60" r="1.8"/><circle cx="353.18" cy="739.60" r="1.8"/><circle cx="357.15" cy="739.60" r="1.8"/><circle cx="361.12" cy="739.60" r="1.8"/><circle cx="365.09" cy="739.60" r="1.8"/><circle cx="369.06" cy="739.60" r="1.8"/><circle cx="373.03" cy="739.60" r="1.8"/><circle cx="377.00" cy="739.60" r="1.8"/><circle cx="380.97" cy="739.60" r="1.8"/><circle cx="337.30" cy="743.60" r="1.8"/><circle cx="341.27" cy="743.60" r="1.8"/><circle cx="345.24" cy="743.60" r="1.8"/><circle cx="349.21" cy="743.60" r="1.8"/><circle cx="353.18" cy="743.60" r="1.8"/><circle cx="357.15" cy="743.60" r="1.8"/><circle cx="361.12" cy="743.60" r="1.8"/><circle cx="365.09" cy="743.60" r="1.8"/><circle cx="369.06" cy="743.60" r="1.8"/><circle cx="373.03" cy="743.60" r="1.8"/><circle cx="377.00" cy="743.60" r="1.8"/><circle cx="380.97" cy="743.60" r="1.8"/><circle cx="337.30" cy="747.60" r="1.8"/><circle cx="341.27" cy="747.60" r="1.8"/><circle cx="345.24" cy="747.60" r="1.8"/><circle cx="349.21" cy="747.60" r="1.8"/><circle cx="353.18" cy="747.60" r="1.8"/><circle cx="357.15" cy="747.60" r="1.8"/><circle cx="361.12" cy="747.60" r="1.8"/><circle cx="365.09" cy="747.60" r="1.8"/><circle cx="369.06" cy="747.60" r="1.8"/><circle cx="373.03" cy="747.60" r="1.8"/><circle cx="377.00" cy="747.60" r="1.8"/><circle cx="380.97" cy="747.60" r="1.8"/><circle cx="337.30" cy="751.60" r="1.8"/><circle cx="341.27" cy="751.60" r="1.8"/><circle cx="345.24" cy="751.60" r="1.8"/><circle cx="349.21" cy="751.60" r="1.8"/><circle cx="353.18" cy="751.60" r="1.8"/><circle cx="357.15" cy="751.60" r="1.8"/><circle cx="361.12" cy="751.60" r="1.8"/><circle cx="365.09" cy="751.60" r="1.8"/><circle cx="369.06" cy="751.60" r="1.8"/><circle cx="373.03" cy="751.60" r="1.8"/><circle cx="377.00" cy="751.60" r="1.8"/><circle cx="380.97" cy="751.60" r="1.8"/><circle cx="337.30" cy="755.60" r="1.8"/><circle cx="341.27" cy="755.60" r="1.8"/><circle cx="345.24" cy="755.60" r="1.8"/><circle cx="349.21" cy="755.60" r="1.8"/><circle cx="353.18" cy="755.60" r="1.8"/><circle cx="357.15" cy="755.60" r="1.8"/><circle cx="361.12" cy="755.60" r="1.8"/><circle cx="365.09" cy="755.60" r="1.8"/><circle cx="369.06" cy="755.60" r="1.8"/><circle cx="373.03" cy="755.60" r="1.8"/><circle cx="377.00" cy="755.60" r="1.8"/><circle cx="380.97" cy="755.60" r="1.8"/></g>
<rect x="414.70" y="715.30" width="53.60" height="33.30" fill="#0b0d0f" stroke="none" stroke-width="1" />
<rect x="424.00" y="724.10" width="53.70" height="33.50" fill="#121619" stroke="none" stroke-width="1" />
<rect x="433.10" y="733.10" width="54.20" height="33.90" fill="#15191e" stroke="none" stroke-width="1" />
<g fill="#39414a" stroke="#5d7d96" stroke-width="0.55"><circle cx="436.20" cy="736.30" r="2.05"/><circle cx="441.15" cy="736.30" r="2.05"/><circle cx="446.10" cy="736.30" r="2.05"/><circle cx="451.05" cy="736.30" r="2.05"/><circle cx="456.00" cy="736.30" r="2.05"/><circle cx="460.95" cy="736.30" r="2.05"/><circle cx="465.90" cy="736.30" r="2.05"/><circle cx="470.85" cy="736.30" r="2.05"/><circle cx="475.80" cy="736.30" r="2.05"/><circle cx="480.75" cy="736.30" r="2.05"/><circle cx="485.70" cy="736.30" r="2.05"/><circle cx="436.20" cy="741.05" r="2.05"/><circle cx="441.15" cy="741.05" r="2.05"/><circle cx="446.10" cy="741.05" r="2.05"/><circle cx="451.05" cy="741.05" r="2.05"/><circle cx="456.00" cy="741.05" r="2.05"/><circle cx="460.95" cy="741.05" r="2.05"/><circle cx="465.90" cy="741.05" r="2.05"/><circle cx="470.85" cy="741.05" r="2.05"/><circle cx="475.80" cy="741.05" r="2.05"/><circle cx="480.75" cy="741.05" r="2.05"/><circle cx="485.70" cy="741.05" r="2.05"/><circle cx="436.20" cy="745.80" r="2.05"/><circle cx="441.15" cy="745.80" r="2.05"/><circle cx="446.10" cy="745.80" r="2.05"/><circle cx="451.05" cy="745.80" r="2.05"/><circle cx="456.00" cy="745.80" r="2.05"/><circle cx="460.95" cy="745.80" r="2.05"/><circle cx="465.90" cy="745.80" r="2.05"/><circle cx="470.85" cy="745.80" r="2.05"/><circle cx="475.80" cy="745.80" r="2.05"/><circle cx="480.75" cy="745.80" r="2.05"/><circle cx="485.70" cy="745.80" r="2.05"/><circle cx="436.20" cy="750.55" r="2.05"/><circle cx="441.15" cy="750.55" r="2.05"/><circle cx="446.10" cy="750.55" r="2.05"/><circle cx="451.05" cy="750.55" r="2.05"/><circle cx="456.00" cy="750.55" r="2.05"/><circle cx="460.95" cy="750.55" r="2.05"/><circle cx="465.90" cy="750.55" r="2.05"/><circle cx="470.85" cy="750.55" r="2.05"/><circle cx="475.80" cy="750.55" r="2.05"/><circle cx="480.75" cy="750.55" r="2.05"/><circle cx="485.70" cy="750.55" r="2.05"/><circle cx="436.20" cy="755.30" r="2.05"/><circle cx="441.15" cy="755.30" r="2.05"/><circle cx="446.10" cy="755.30" r="2.05"/><circle cx="451.05" cy="755.30" r="2.05"/><circle cx="456.00" cy="755.30" r="2.05"/><circle cx="460.95" cy="755.30" r="2.05"/><circle cx="465.90" cy="755.30" r="2.05"/><circle cx="470.85" cy="755.30" r="2.05"/><circle cx="475.80" cy="755.30" r="2.05"/><circle cx="480.75" cy="755.30" r="2.05"/><circle cx="485.70" cy="755.30" r="2.05"/><circle cx="436.20" cy="760.05" r="2.05"/><circle cx="441.15" cy="760.05" r="2.05"/><circle cx="446.10" cy="760.05" r="2.05"/><circle cx="451.05" cy="760.05" r="2.05"/><circle cx="456.00" cy="760.05" r="2.05"/><circle cx="460.95" cy="760.05" r="2.05"/><circle cx="465.90" cy="760.05" r="2.05"/><circle cx="470.85" cy="760.05" r="2.05"/><circle cx="475.80" cy="760.05" r="2.05"/><circle cx="480.75" cy="760.05" r="2.05"/><circle cx="485.70" cy="760.05" r="2.05"/><circle cx="436.20" cy="764.80" r="2.05"/><circle cx="441.15" cy="764.80" r="2.05"/><circle cx="446.10" cy="764.80" r="2.05"/><circle cx="451.05" cy="764.80" r="2.05"/><circle cx="456.00" cy="764.80" r="2.05"/><circle cx="460.95" cy="764.80" r="2.05"/><circle cx="465.90" cy="764.80" r="2.05"/><circle cx="470.85" cy="764.80" r="2.05"/><circle cx="475.80" cy="764.80" r="2.05"/><circle cx="480.75" cy="764.80" r="2.05"/><circle cx="485.70" cy="764.80" r="2.05"/></g>
<g fill="none" stroke="#4a5560" stroke-width="0.4" opacity="0.6"><circle cx="426.00" cy="726.00" r="0.9"/><circle cx="429.90" cy="726.00" r="0.9"/><circle cx="433.80" cy="726.00" r="0.9"/><circle cx="437.70" cy="726.00" r="0.9"/><circle cx="441.60" cy="726.00" r="0.9"/><circle cx="445.50" cy="726.00" r="0.9"/><circle cx="449.40" cy="726.00" r="0.9"/><circle cx="453.30" cy="726.00" r="0.9"/><circle cx="457.20" cy="726.00" r="0.9"/><circle cx="461.10" cy="726.00" r="0.9"/><circle cx="465.00" cy="726.00" r="0.9"/><circle cx="468.90" cy="726.00" r="0.9"/><circle cx="472.80" cy="726.00" r="0.9"/><circle cx="426.00" cy="728.20" r="0.9"/><circle cx="429.90" cy="728.20" r="0.9"/><circle cx="433.80" cy="728.20" r="0.9"/><circle cx="437.70" cy="728.20" r="0.9"/><circle cx="441.60" cy="728.20" r="0.9"/><circle cx="445.50" cy="728.20" r="0.9"/><circle cx="449.40" cy="728.20" r="0.9"/><circle cx="453.30" cy="728.20" r="0.9"/><circle cx="457.20" cy="728.20" r="0.9"/><circle cx="461.10" cy="728.20" r="0.9"/><circle cx="465.00" cy="728.20" r="0.9"/><circle cx="468.90" cy="728.20" r="0.9"/><circle cx="472.80" cy="728.20" r="0.9"/><circle cx="426.00" cy="730.40" r="0.9"/><circle cx="429.90" cy="730.40" r="0.9"/><circle cx="433.80" cy="730.40" r="0.9"/><circle cx="437.70" cy="730.40" r="0.9"/><circle cx="441.60" cy="730.40" r="0.9"/><circle cx="445.50" cy="730.40" r="0.9"/><circle cx="449.40" cy="730.40" r="0.9"/><circle cx="453.30" cy="730.40" r="0.9"/><circle cx="457.20" cy="730.40" r="0.9"/><circle cx="461.10" cy="730.40" r="0.9"/><circle cx="465.00" cy="730.40" r="0.9"/><circle cx="468.90" cy="730.40" r="0.9"/><circle cx="472.80" cy="730.40" r="0.9"/><circle cx="426.00" cy="732.60" r="0.9"/><circle cx="429.90" cy="732.60" r="0.9"/><circle cx="433.80" cy="732.60" r="0.9"/><circle cx="437.70" cy="732.60" r="0.9"/><circle cx="441.60" cy="732.60" r="0.9"/><circle cx="445.50" cy="732.60" r="0.9"/><circle cx="449.40" cy="732.60" r="0.9"/><circle cx="453.30" cy="732.60" r="0.9"/><circle cx="457.20" cy="732.60" r="0.9"/><circle cx="461.10" cy="732.60" r="0.9"/><circle cx="465.00" cy="732.60" r="0.9"/><circle cx="468.90" cy="732.60" r="0.9"/><circle cx="472.80" cy="732.60" r="0.9"/></g>
<rect x="533.90" y="723.90" width="6.33" height="6.88" fill="#f7da4c" stroke="none" stroke-width="1" />
<rect x="540.08" y="723.90" width="6.33" height="6.88" fill="#cbbb5e" stroke="none" stroke-width="1" />
<rect x="546.27" y="723.90" width="6.33" height="6.88" fill="#f7da4c" stroke="none" stroke-width="1" />
<rect x="552.45" y="723.90" width="6.33" height="6.88" fill="#efc64e" stroke="none" stroke-width="1" />
<rect x="558.63" y="723.90" width="6.33" height="6.88" fill="#1f78c0" stroke="none" stroke-width="1" />
<rect x="564.82" y="723.90" width="6.33" height="6.88" fill="#1c58ab" stroke="none" stroke-width="1" />
<rect x="533.90" y="730.63" width="6.33" height="6.88" fill="#f7da4c" stroke="none" stroke-width="1" />
<rect x="540.08" y="730.63" width="6.33" height="6.88" fill="#cbbb5e" stroke="none" stroke-width="1" />
<rect x="546.27" y="730.63" width="6.33" height="6.88" fill="#f7da4c" stroke="none" stroke-width="1" />
<rect x="552.45" y="730.63" width="6.33" height="6.88" fill="#a3a878" stroke="none" stroke-width="1" />
<rect x="558.63" y="730.63" width="6.33" height="6.88" fill="#1c58ab" stroke="none" stroke-width="1" />
<rect x="564.82" y="730.63" width="6.33" height="6.88" fill="#1f78c0" stroke="none" stroke-width="1" />
<rect x="533.90" y="737.37" width="6.33" height="6.88" fill="#cbbb5e" stroke="none" stroke-width="1" />
<rect x="540.08" y="737.37" width="6.33" height="6.88" fill="#cbbb5e" stroke="none" stroke-width="1" />
<rect x="546.27" y="737.37" width="6.33" height="6.88" fill="#f7da4c" stroke="none" stroke-width="1" />
<rect x="552.45" y="737.37" width="6.33" height="6.88" fill="#1c58ab" stroke="none" stroke-width="1" />
<rect x="558.63" y="737.37" width="6.33" height="6.88" fill="#a3a878" stroke="none" stroke-width="1" />
<rect x="564.82" y="737.37" width="6.33" height="6.88" fill="#efc64e" stroke="none" stroke-width="1" />
<rect x="533.90" y="744.10" width="6.33" height="6.88" fill="#7f9482" stroke="none" stroke-width="1" />
<rect x="540.08" y="744.10" width="6.33" height="6.88" fill="#1f78c0" stroke="none" stroke-width="1" />
<rect x="546.27" y="744.10" width="6.33" height="6.88" fill="#1c58ab" stroke="none" stroke-width="1" />
<rect x="552.45" y="744.10" width="6.33" height="6.88" fill="#f7da4c" stroke="none" stroke-width="1" />
<rect x="558.63" y="744.10" width="6.33" height="6.88" fill="#f7da4c" stroke="none" stroke-width="1" />
<rect x="564.82" y="744.10" width="6.33" height="6.88" fill="#f7da4c" stroke="none" stroke-width="1" />
<rect x="533.90" y="750.83" width="6.33" height="6.88" fill="#4c7ea8" stroke="none" stroke-width="1" />
<rect x="540.08" y="750.83" width="6.33" height="6.88" fill="#1c58ab" stroke="none" stroke-width="1" />
<rect x="546.27" y="750.83" width="6.33" height="6.88" fill="#1f78c0" stroke="none" stroke-width="1" />
<rect x="552.45" y="750.83" width="6.33" height="6.88" fill="#cbbb5e" stroke="none" stroke-width="1" />
<rect x="558.63" y="750.83" width="6.33" height="6.88" fill="#cbbb5e" stroke="none" stroke-width="1" />
<rect x="564.82" y="750.83" width="6.33" height="6.88" fill="#cbbb5e" stroke="none" stroke-width="1" />
<rect x="533.90" y="757.57" width="6.33" height="6.88" fill="#1f78c0" stroke="none" stroke-width="1" />
<rect x="540.08" y="757.57" width="6.33" height="6.88" fill="#4c7ea8" stroke="none" stroke-width="1" />
<rect x="546.27" y="757.57" width="6.33" height="6.88" fill="#7f9482" stroke="none" stroke-width="1" />
<rect x="552.45" y="757.57" width="6.33" height="6.88" fill="#cbbb5e" stroke="none" stroke-width="1" />
<rect x="558.63" y="757.57" width="6.33" height="6.88" fill="#f7da4c" stroke="none" stroke-width="1" />
<rect x="564.82" y="757.57" width="6.33" height="6.88" fill="#f7da4c" stroke="none" stroke-width="1" />
<defs><linearGradient id="hg" x1="0" x2="1" y1="0" y2="0"><stop offset="0" stop-color="#1f6fc0"/><stop offset="0.5" stop-color="#a8a878"/><stop offset="1" stop-color="#f7da4c"/></linearGradient></defs>
<rect x="544.60" y="768.30" width="15.40" height="2.60" fill="url(#hg)" stroke="none" stroke-width="1" />
<path d="M537,723.9 V717.5 H545.5 V723.9 M541.2,717.5 V711.6 M543,723.9 V720.5 H549 V723.9 M555.5,723.9 V717.5 H566 V723.9 M560.7,717.5 V711.6 H541.2 M562,723.9 V720.5 H568.5 V723.9" fill="none" stroke="#8a8c8e" stroke-width="0.5"/>
<path d="M533.9,727 H530 V733 H533.9 M530,730 H525.5 V752 M533.9,747 H529 V757 H533.9 M529,752 H525.5 M525.5,741 H522.2 M533.9,752 H531 V760.5 H533.9" fill="none" stroke="#8a8c8e" stroke-width="0.5"/>
<line x1="26.90" y1="940.20" x2="290.20" y2="940.20" stroke="#ebebeb" stroke-width="0.55" />
<line x1="24.40" y1="924.80" x2="290.20" y2="924.80" stroke="#f3f3f3" stroke-width="0.4" />
<line x1="26.90" y1="909.40" x2="290.20" y2="909.40" stroke="#ebebeb" stroke-width="0.55" />
<line x1="24.40" y1="894.00" x2="290.20" y2="894.00" stroke="#f3f3f3" stroke-width="0.4" />
<line x1="26.90" y1="878.60" x2="290.20" y2="878.60" stroke="#ebebeb" stroke-width="0.55" />
<line x1="24.40" y1="863.20" x2="290.20" y2="863.20" stroke="#f3f3f3" stroke-width="0.4" />
<line x1="26.90" y1="847.80" x2="290.20" y2="847.80" stroke="#ebebeb" stroke-width="0.55" />
<line x1="24.40" y1="832.40" x2="290.20" y2="832.40" stroke="#f3f3f3" stroke-width="0.4" />
<line x1="68.30" y1="832.50" x2="68.30" y2="947.00" stroke="#ebebeb" stroke-width="0.55" />
<line x1="140.40" y1="832.50" x2="140.40" y2="947.00" stroke="#ebebeb" stroke-width="0.55" />
<line x1="203.60" y1="832.50" x2="203.60" y2="947.00" stroke="#ebebeb" stroke-width="0.55" />
<line x1="236.80" y1="832.50" x2="236.80" y2="947.00" stroke="#ebebeb" stroke-width="0.55" />
<line x1="270.50" y1="832.50" x2="270.50" y2="947.00" stroke="#ebebeb" stroke-width="0.55" />
<text x="25.90" y="943.70" font-size="9.8" fill="#333333" text-anchor="end" textLength="12.40" lengthAdjust="spacingAndGlyphs" >0.0</text>
<text x="25.90" y="912.90" font-size="9.8" fill="#333333" text-anchor="end" textLength="12.40" lengthAdjust="spacingAndGlyphs" >0.5</text>
<text x="25.90" y="882.10" font-size="9.8" fill="#333333" text-anchor="end" textLength="12.40" lengthAdjust="spacingAndGlyphs" >1.0</text>
<text x="25.90" y="851.30" font-size="9.8" fill="#333333" text-anchor="end" textLength="12.40" lengthAdjust="spacingAndGlyphs" >1.5</text>
<text x="9.60" y="929.00" font-size="12.3" fill="#231f20" textLength="73.40" lengthAdjust="spacingAndGlyphs" transform="rotate(-90 9.60 929.00)" >Activity score</text>
<line x1="41.00" y1="940.20" x2="96.80" y2="940.20" stroke="#3a3a3a" stroke-width="0.9" />
<path d="M80,939.6 H97" stroke="#c8b860" stroke-width="0.8"/>
<line x1="122.50" y1="849.65" x2="122.50" y2="863.20" stroke="#6d6e71" stroke-width="0.5" />
<line x1="122.50" y1="892.15" x2="122.50" y2="897.08" stroke="#6d6e71" stroke-width="0.5" />
<rect x="114.20" y="863.20" width="16.60" height="28.95" fill="#8d6b99" stroke="#4a4a4a" stroke-width="0.5" />
<line x1="114.20" y1="885.38" x2="130.80" y2="885.38" stroke="#3a3a3a" stroke-width="0.9" />
<line x1="140.60" y1="839.79" x2="140.60" y2="860.12" stroke="#6d6e71" stroke-width="0.5" />
<line x1="140.60" y1="897.70" x2="140.60" y2="906.94" stroke="#6d6e71" stroke-width="0.5" />
<rect x="132.30" y="860.12" width="16.60" height="37.58" fill="#5bbbc5" stroke="#4a4a4a" stroke-width="0.5" />
<line x1="132.30" y1="876.14" x2="148.90" y2="876.14" stroke="#3a3a3a" stroke-width="0.9" />
<line x1="158.75" y1="857.66" x2="158.75" y2="866.90" stroke="#6d6e71" stroke-width="0.5" />
<line x1="158.75" y1="891.54" x2="158.75" y2="897.08" stroke="#6d6e71" stroke-width="0.5" />
<rect x="150.70" y="866.90" width="16.10" height="24.64" fill="#f7e08b" stroke="#4a4a4a" stroke-width="0.5" />
<line x1="150.70" y1="879.22" x2="166.80" y2="879.22" stroke="#3a3a3a" stroke-width="0.9" />
<line x1="203.75" y1="884.14" x2="203.75" y2="908.17" stroke="#6d6e71" stroke-width="0.5" />
<line x1="203.75" y1="929.11" x2="203.75" y2="940.20" stroke="#6d6e71" stroke-width="0.5" />
<rect x="191.00" y="908.17" width="25.50" height="20.94" fill="#8d6b99" stroke="#4a4a4a" stroke-width="0.5" />
<line x1="191.00" y1="920.49" x2="216.50" y2="920.49" stroke="#3a3a3a" stroke-width="0.9" />
<circle cx="203.75" cy="857.66" r="0.80" fill="#333333" stroke="none" stroke-width="0" />
<circle cx="203.75" cy="864.43" r="0.80" fill="#333333" stroke="none" stroke-width="0" />
<line x1="236.90" y1="887.84" x2="236.90" y2="908.78" stroke="#6d6e71" stroke-width="0.5" />
<line x1="236.90" y1="934.04" x2="236.90" y2="940.20" stroke="#6d6e71" stroke-width="0.5" />
<rect x="224.00" y="908.78" width="25.80" height="25.26" fill="#5bbbc5" stroke="#4a4a4a" stroke-width="0.5" />
<line x1="224.00" y1="925.42" x2="249.80" y2="925.42" stroke="#3a3a3a" stroke-width="0.9" />
<line x1="270.00" y1="904.47" x2="270.00" y2="925.42" stroke="#6d6e71" stroke-width="0.5" />
<line x1="270.00" y1="938.97" x2="270.00" y2="940.20" stroke="#6d6e71" stroke-width="0.5" />
<rect x="257.20" y="925.42" width="25.60" height="13.55" fill="#f7e08b" stroke="#4a4a4a" stroke-width="0.5" />
<line x1="257.20" y1="930.34" x2="282.80" y2="930.34" stroke="#3a3a3a" stroke-width="0.9" />
<circle cx="270.00" cy="904.47" r="0.80" fill="#333333" stroke="none" stroke-width="0" />
<line x1="68.30" y1="824.80" x2="203.40" y2="824.80" stroke="#cccccc" stroke-width="0.6" />
<text x="141.50" y="815.00" font-size="8.2" fill="#231f20" text-anchor="middle" textLength="37.00" lengthAdjust="spacingAndGlyphs" >p = 1e-10</text>
<text x="140.80" y="825.80" font-size="10.5" fill="#333333" text-anchor="middle" textLength="16.00" lengthAdjust="spacingAndGlyphs" >***</text>
<line x1="203.40" y1="839.20" x2="270.90" y2="839.20" stroke="#cccccc" stroke-width="0.6" />
<text x="240.00" y="829.50" font-size="8.2" fill="#231f20" text-anchor="middle" textLength="36.00" lengthAdjust="spacingAndGlyphs" >p = 1e-04</text>
<text x="238.70" y="840.00" font-size="10.5" fill="#333333" text-anchor="middle" textLength="16.00" lengthAdjust="spacingAndGlyphs" >***</text>
<line x1="203.40" y1="853.90" x2="236.90" y2="853.90" stroke="#cccccc" stroke-width="0.6" />
<text x="220.70" y="851.60" font-size="11" fill="#231f20" text-anchor="middle" textLength="10.20" lengthAdjust="spacingAndGlyphs" >ns</text>
<text x="67.60" y="961.50" font-size="12.3" fill="#231f20" text-anchor="middle" textLength="38.50" lengthAdjust="spacingAndGlyphs" >control</text>
<text x="67.40" y="972.70" font-size="12.3" fill="#231f20" text-anchor="middle" textLength="69.40" lengthAdjust="spacingAndGlyphs" >fluorescence</text>
<text x="139.10" y="961.50" font-size="12.3" fill="#231f20" text-anchor="middle" textLength="39.00" lengthAdjust="spacingAndGlyphs" >control</text>
<text x="139.60" y="972.50" font-size="12.3" fill="#231f20" text-anchor="middle" textLength="43.20" lengthAdjust="spacingAndGlyphs" >plasmid</text>
<text x="186.00" y="967.30" font-size="12.3" fill="#4a5542" textLength="104.20" lengthAdjust="spacingAndGlyphs" >sLCRs 1st.gen+LSD</text>
<text x="296.60" y="874.50" font-size="12.5" fill="#4a5040" textLength="43.80" lengthAdjust="spacingAndGlyphs" >cell line</text>
<line x1="303.90" y1="882.60" x2="303.90" y2="892.70" stroke="#555555" stroke-width="0.5" />
<rect x="298.40" y="883.80" width="11.00" height="7.70" fill="#8d6b99" stroke="#555555" stroke-width="0.6" />
<line x1="298.40" y1="887.65" x2="309.40" y2="887.65" stroke="#333333" stroke-width="0.8" />
<circle cx="303.90" cy="887.65" r="0.60" fill="#222" stroke="none" stroke-width="0" />
<line x1="303.90" y1="897.20" x2="303.90" y2="907.00" stroke="#555555" stroke-width="0.5" />
<rect x="298.40" y="898.40" width="11.00" height="7.40" fill="#5bbbc5" stroke="#555555" stroke-width="0.6" />
<line x1="298.40" y1="902.10" x2="309.40" y2="902.10" stroke="#333333" stroke-width="0.8" />
<circle cx="303.90" cy="902.10" r="0.60" fill="#222" stroke="none" stroke-width="0" />
<line x1="303.90" y1="911.50" x2="303.90" y2="921.60" stroke="#555555" stroke-width="0.5" />
<rect x="298.40" y="912.70" width="11.00" height="7.70" fill="#f7e08b" stroke="#555555" stroke-width="0.6" />
<line x1="298.40" y1="916.55" x2="309.40" y2="916.55" stroke="#333333" stroke-width="0.8" />
<circle cx="303.90" cy="916.55" r="0.60" fill="#222" stroke="none" stroke-width="0" />
<text x="316.40" y="890.30" font-size="12.5" fill="#4a5040" textLength="26.60" lengthAdjust="spacingAndGlyphs" >293T</text>
<text x="316.40" y="904.80" font-size="12.5" fill="#4a5040" textLength="30.00" lengthAdjust="spacingAndGlyphs" >CHO1</text>
<text x="316.40" y="919.30" font-size="12.5" fill="#4a5040" textLength="41.60" lengthAdjust="spacingAndGlyphs" >NIH3T3</text>
<line x1="379.60" y1="936.30" x2="506.30" y2="936.30" stroke="#ebebeb" stroke-width="0.55" />
<line x1="379.60" y1="922.00" x2="506.30" y2="922.00" stroke="#f3f3f3" stroke-width="0.4" />
<line x1="379.60" y1="907.70" x2="506.30" y2="907.70" stroke="#ebebeb" stroke-width="0.55" />
<line x1="379.60" y1="893.40" x2="506.30" y2="893.40" stroke="#f3f3f3" stroke-width="0.4" />
<line x1="379.60" y1="879.10" x2="506.30" y2="879.10" stroke="#ebebeb" stroke-width="0.55" />
<line x1="379.60" y1="864.80" x2="506.30" y2="864.80" stroke="#f3f3f3" stroke-width="0.4" />
<line x1="379.60" y1="850.50" x2="506.30" y2="850.50" stroke="#ebebeb" stroke-width="0.55" />
<line x1="379.60" y1="836.20" x2="506.30" y2="836.20" stroke="#f3f3f3" stroke-width="0.4" />
<line x1="414.00" y1="838.50" x2="414.00" y2="943.00" stroke="#ebebeb" stroke-width="0.55" />
<line x1="471.60" y1="838.50" x2="471.60" y2="943.00" stroke="#ebebeb" stroke-width="0.55" />
<text x="378.30" y="939.80" font-size="9.8" fill="#333333" text-anchor="end" textLength="12.40" lengthAdjust="spacingAndGlyphs" >0.0</text>
<text x="378.30" y="911.20" font-size="9.8" fill="#333333" text-anchor="end" textLength="12.40" lengthAdjust="spacingAndGlyphs" >0.5</text>
<text x="378.30" y="882.60" font-size="9.8" fill="#333333" text-anchor="end" textLength="12.40" lengthAdjust="spacingAndGlyphs" >1.0</text>
<text x="378.30" y="854.00" font-size="9.8" fill="#333333" text-anchor="end" textLength="12.40" lengthAdjust="spacingAndGlyphs" >1.5</text>
<line x1="390.90" y1="936.30" x2="436.80" y2="936.30" stroke="#3a3a3a" stroke-width="0.9" />
<line x1="460.75" y1="852.22" x2="460.75" y2="864.80" stroke="#6d6e71" stroke-width="0.5" />
<line x1="460.75" y1="891.11" x2="460.75" y2="896.26" stroke="#6d6e71" stroke-width="0.5" />
<rect x="451.20" y="864.80" width="19.10" height="26.31" fill="#a6a7ab" stroke="#4a4a4a" stroke-width="0.5" />
<line x1="451.20" y1="885.39" x2="470.30" y2="885.39" stroke="#3a3a3a" stroke-width="0.9" />
<line x1="482.75" y1="843.06" x2="482.75" y2="864.80" stroke="#6d6e71" stroke-width="0.5" />
<line x1="482.75" y1="893.40" x2="482.75" y2="904.84" stroke="#6d6e71" stroke-width="0.5" />
<rect x="472.80" y="864.80" width="19.90" height="28.60" fill="#dcdcdc" stroke="#4a4a4a" stroke-width="0.5" />
<line x1="472.80" y1="879.10" x2="492.70" y2="879.10" stroke="#3a3a3a" stroke-width="0.9" />
<line x1="414.00" y1="839.00" x2="471.60" y2="839.00" stroke="#cccccc" stroke-width="0.6" />
<text x="442.20" y="829.30" font-size="8.2" fill="#231f20" text-anchor="middle" textLength="36.40" lengthAdjust="spacingAndGlyphs" >p &lt; 2e-16</text>
<text x="442.20" y="840.00" font-size="10.5" fill="#333333" text-anchor="middle" textLength="16.50" lengthAdjust="spacingAndGlyphs" >***</text>
<text x="418.80" y="954.50" font-size="12.3" fill="#231f20" text-anchor="middle" textLength="39.40" lengthAdjust="spacingAndGlyphs" >control</text>
<text x="418.80" y="966.10" font-size="12.3" fill="#231f20" text-anchor="middle" textLength="70.00" lengthAdjust="spacingAndGlyphs" >fluorescence</text>
<text x="490.80" y="954.50" font-size="12.3" fill="#231f20" text-anchor="middle" textLength="39.90" lengthAdjust="spacingAndGlyphs" >control</text>
<text x="490.80" y="965.70" font-size="12.3" fill="#231f20" text-anchor="middle" textLength="43.30" lengthAdjust="spacingAndGlyphs" >plasmid</text>
<line x1="537.00" y1="935.90" x2="622.20" y2="935.90" stroke="#ebebeb" stroke-width="0.55" />
<line x1="537.00" y1="921.62" x2="622.20" y2="921.62" stroke="#f3f3f3" stroke-width="0.4" />
<line x1="537.00" y1="907.35" x2="622.20" y2="907.35" stroke="#ebebeb" stroke-width="0.55" />
<line x1="537.00" y1="893.07" x2="622.20" y2="893.07" stroke="#f3f3f3" stroke-width="0.4" />
<line x1="537.00" y1="878.80" x2="622.20" y2="878.80" stroke="#ebebeb" stroke-width="0.55" />
<line x1="537.00" y1="864.52" x2="622.20" y2="864.52" stroke="#f3f3f3" stroke-width="0.4" />
<line x1="537.00" y1="850.25" x2="622.20" y2="850.25" stroke="#ebebeb" stroke-width="0.55" />
<line x1="537.00" y1="835.98" x2="622.20" y2="835.98" stroke="#f3f3f3" stroke-width="0.4" />
<line x1="561.00" y1="838.50" x2="561.00" y2="943.00" stroke="#ebebeb" stroke-width="0.55" />
<line x1="599.60" y1="838.50" x2="599.60" y2="943.00" stroke="#ebebeb" stroke-width="0.55" />
<text x="535.30" y="939.40" font-size="9.8" fill="#333333" text-anchor="end" textLength="12.40" lengthAdjust="spacingAndGlyphs" >0.0</text>
<text x="535.30" y="910.85" font-size="9.8" fill="#333333" text-anchor="end" textLength="12.40" lengthAdjust="spacingAndGlyphs" >0.5</text>
<text x="535.30" y="882.30" font-size="9.8" fill="#333333" text-anchor="end" textLength="12.40" lengthAdjust="spacingAndGlyphs" >1.0</text>
<text x="535.30" y="853.75" font-size="9.8" fill="#333333" text-anchor="end" textLength="12.40" lengthAdjust="spacingAndGlyphs" >1.5</text>
<line x1="560.70" y1="884.51" x2="560.70" y2="906.78" stroke="#6d6e71" stroke-width="0.5" />
<line x1="560.70" y1="926.19" x2="560.70" y2="935.90" stroke="#6d6e71" stroke-width="0.5" />
<rect x="546.30" y="906.78" width="28.80" height="19.41" fill="#a6a7ab" stroke="#4a4a4a" stroke-width="0.5" />
<line x1="546.30" y1="917.63" x2="575.10" y2="917.63" stroke="#3a3a3a" stroke-width="0.9" />
<circle cx="560.70" cy="859.39" r="0.80" fill="#333333" stroke="none" stroke-width="0" />
<circle cx="560.70" cy="866.24" r="0.80" fill="#333333" stroke="none" stroke-width="0" />
<line x1="599.20" y1="889.65" x2="599.20" y2="914.77" stroke="#6d6e71" stroke-width="0.5" />
<line x1="599.20" y1="932.47" x2="599.20" y2="935.90" stroke="#6d6e71" stroke-width="0.5" />
<rect x="584.60" y="914.77" width="29.20" height="17.70" fill="#dcdcdc" stroke="#4a4a4a" stroke-width="0.5" />
<line x1="584.60" y1="925.05" x2="613.80" y2="925.05" stroke="#3a3a3a" stroke-width="0.9" />
<line x1="561.00" y1="846.50" x2="599.60" y2="846.50" stroke="#cccccc" stroke-width="0.6" />
<text x="580.50" y="836.20" font-size="8.2" fill="#231f20" text-anchor="middle" textLength="50.20" lengthAdjust="spacingAndGlyphs" >p = 0.000015</text>
<text x="580.60" y="847.30" font-size="10.5" fill="#333333" text-anchor="middle" textLength="17.30" lengthAdjust="spacingAndGlyphs" >***</text>
<circle cx="554.10" cy="933.40" r="0.90" fill="#e0282a" stroke="none" stroke-width="0" />
<circle cx="560.10" cy="935.60" r="0.90" fill="#e0282a" stroke="none" stroke-width="0" />
<line x1="521.80" y1="918.00" x2="553.50" y2="933.00" stroke="#888888" stroke-width="0.4" />
<line x1="521.80" y1="928.60" x2="559.50" y2="935.30" stroke="#888888" stroke-width="0.4" />
<text x="478.80" y="920.50" font-size="8.4" fill="#231f20" textLength="43.00" lengthAdjust="spacingAndGlyphs" >LSD-MGT#4</text>
<text x="478.80" y="931.00" font-size="8.4" fill="#231f20" textLength="43.00" lengthAdjust="spacingAndGlyphs" >LSD-MGT#1</text>
<text x="534.30" y="961.00" font-size="12.3" fill="#4a5542" textLength="104.20" lengthAdjust="spacingAndGlyphs" >sLCRs 1st.gen+LSD</text>
<text x="627.00" y="873.70" font-size="12.5" fill="#4a5040" textLength="43.90" lengthAdjust="spacingAndGlyphs" >cell line</text>
<line x1="632.50" y1="881.80" x2="632.50" y2="892.40" stroke="#555555" stroke-width="0.5" />
<rect x="627.00" y="883.00" width="11.00" height="8.20" fill="#a6a7ab" stroke="#555555" stroke-width="0.6" />
<line x1="627.00" y1="887.10" x2="638.00" y2="887.10" stroke="#333333" stroke-width="0.8" />
<circle cx="632.50" cy="887.10" r="0.60" fill="#222" stroke="none" stroke-width="0" />
<line x1="632.50" y1="896.80" x2="632.50" y2="907.20" stroke="#555555" stroke-width="0.5" />
<rect x="627.00" y="898.00" width="11.00" height="8.00" fill="#dcdcdc" stroke="#555555" stroke-width="0.6" />
<line x1="627.00" y1="902.00" x2="638.00" y2="902.00" stroke="#333333" stroke-width="0.8" />
<circle cx="632.50" cy="902.00" r="0.60" fill="#222" stroke="none" stroke-width="0" />
<text x="644.20" y="890.50" font-size="12.5" fill="#4a5040" textLength="40.80" lengthAdjust="spacingAndGlyphs" >human</text>
<text x="644.20" y="905.50" font-size="12.5" fill="#4a5040" textLength="37.50" lengthAdjust="spacingAndGlyphs" >rodent</text>
<circle cx="91.05" cy="938.90" r="0.35" fill="#555555" opacity="0.9"/>
<circle cx="57.73" cy="938.53" r="0.35" fill="#555555" opacity="0.9"/>
<circle cx="61.23" cy="938.37" r="0.35" fill="#555555" opacity="0.9"/>
<circle cx="50.29" cy="937.91" r="0.35" fill="#555555" opacity="0.9"/>
<circle cx="49.16" cy="938.54" r="0.35" fill="#555555" opacity="0.9"/>
<circle cx="44.65" cy="937.98" r="0.35" fill="#555555" opacity="0.9"/>
<circle cx="57.88" cy="940.73" r="0.35" fill="#555555" opacity="0.9"/>
<circle cx="74.77" cy="939.38" r="0.35" fill="#555555" opacity="0.9"/>
<circle cx="41.19" cy="937.91" r="0.35" fill="#555555" opacity="0.9"/>
<circle cx="78.96" cy="938.82" r="0.35" fill="#555555" opacity="0.9"/>
<circle cx="59.92" cy="938.04" r="0.35" fill="#555555" opacity="0.9"/>
<circle cx="58.36" cy="940.47" r="0.35" fill="#555555" opacity="0.9"/>
<circle cx="86.84" cy="939.37" r="0.35" fill="#555555" opacity="0.9"/>
<circle cx="67.92" cy="940.06" r="0.35" fill="#555555" opacity="0.9"/>
<circle cx="58.68" cy="939.14" r="0.35" fill="#555555" opacity="0.9"/>
<circle cx="67.95" cy="939.05" r="0.35" fill="#555555" opacity="0.9"/>
<circle cx="80.46" cy="940.78" r="0.35" fill="#555555" opacity="0.9"/>
<circle cx="44.19" cy="940.15" r="0.35" fill="#555555" opacity="0.9"/>
<circle cx="95.61" cy="939.96" r="0.35" fill="#555555" opacity="0.9"/>
<circle cx="42.28" cy="937.99" r="0.35" fill="#555555" opacity="0.9"/>
<circle cx="82.99" cy="938.46" r="0.35" fill="#555555" opacity="0.9"/>
<circle cx="88.31" cy="940.32" r="0.35" fill="#555555" opacity="0.9"/>
<circle cx="42.01" cy="938.36" r="0.35" fill="#555555" opacity="0.9"/>
<circle cx="85.11" cy="940.39" r="0.35" fill="#555555" opacity="0.9"/>
<circle cx="61.51" cy="938.91" r="0.35" fill="#555555" opacity="0.9"/>
<circle cx="73.40" cy="940.43" r="0.35" fill="#555555" opacity="0.9"/>
<circle cx="41.51" cy="940.81" r="0.35" fill="#555555" opacity="0.9"/>
<circle cx="43.62" cy="938.13" r="0.35" fill="#555555" opacity="0.9"/>
<circle cx="51.13" cy="940.17" r="0.35" fill="#555555" opacity="0.9"/>
<circle cx="94.49" cy="940.15" r="0.35" fill="#555555" opacity="0.9"/>
<circle cx="52.01" cy="937.79" r="0.35" fill="#555555" opacity="0.9"/>
<circle cx="83.32" cy="938.13" r="0.35" fill="#555555" opacity="0.9"/>
<circle cx="93.06" cy="939.92" r="0.35" fill="#555555" opacity="0.9"/>
<circle cx="93.75" cy="937.85" r="0.35" fill="#555555" opacity="0.9"/>
<circle cx="60.29" cy="939.16" r="0.35" fill="#555555" opacity="0.9"/>
<circle cx="60.87" cy="938.73" r="0.35" fill="#555555" opacity="0.9"/>
<circle cx="70.38" cy="940.19" r="0.35" fill="#555555" opacity="0.9"/>
<circle cx="84.43" cy="937.92" r="0.35" fill="#555555" opacity="0.9"/>
<circle cx="47.05" cy="938.69" r="0.35" fill="#555555" opacity="0.9"/>
<circle cx="82.91" cy="937.84" r="0.35" fill="#555555" opacity="0.9"/>
<circle cx="113.55" cy="852.88" r="0.45" fill="#2a2a2a" opacity="0.9"/>
<circle cx="111.07" cy="849.42" r="0.45" fill="#2a2a2a" opacity="0.9"/>
<circle cx="131.71" cy="895.05" r="0.45" fill="#2a2a2a" opacity="0.9"/>
<circle cx="121.74" cy="844.64" r="0.45" fill="#2a2a2a" opacity="0.9"/>
<circle cx="118.93" cy="892.02" r="0.45" fill="#2a2a2a" opacity="0.9"/>
<circle cx="115.22" cy="878.19" r="0.45" fill="#2a2a2a" opacity="0.9"/>
<circle cx="123.07" cy="863.22" r="0.45" fill="#2a2a2a" opacity="0.9"/>
<circle cx="128.18" cy="846.18" r="0.45" fill="#2a2a2a" opacity="0.9"/>
<circle cx="120.02" cy="878.23" r="0.45" fill="#2a2a2a" opacity="0.9"/>
<circle cx="119.28" cy="845.84" r="0.45" fill="#2a2a2a" opacity="0.9"/>
<circle cx="111.23" cy="866.86" r="0.45" fill="#2a2a2a" opacity="0.9"/>
<circle cx="130.15" cy="879.76" r="0.45" fill="#2a2a2a" opacity="0.9"/>
<circle cx="110.72" cy="879.52" r="0.45" fill="#2a2a2a" opacity="0.9"/>
<circle cx="120.86" cy="887.24" r="0.45" fill="#2a2a2a" opacity="0.9"/>
<circle cx="128.45" cy="892.74" r="0.45" fill="#2a2a2a" opacity="0.9"/>
<circle cx="112.87" cy="888.83" r="0.45" fill="#2a2a2a" opacity="0.9"/>
<circle cx="126.10" cy="858.87" r="0.45" fill="#2a2a2a" opacity="0.9"/>
<circle cx="130.90" cy="841.82" r="0.45" fill="#2a2a2a" opacity="0.9"/>
<circle cx="137.92" cy="875.25" r="0.45" fill="#2a2a2a" opacity="0.9"/>
<circle cx="150.76" cy="867.49" r="0.45" fill="#2a2a2a" opacity="0.9"/>
<circle cx="150.16" cy="901.07" r="0.45" fill="#2a2a2a" opacity="0.9"/>
<circle cx="143.17" cy="884.91" r="0.45" fill="#2a2a2a" opacity="0.9"/>
<circle cx="140.49" cy="898.97" r="0.45" fill="#2a2a2a" opacity="0.9"/>
<circle cx="137.11" cy="864.69" r="0.45" fill="#2a2a2a" opacity="0.9"/>
<circle cx="131.87" cy="891.79" r="0.45" fill="#2a2a2a" opacity="0.9"/>
<circle cx="135.72" cy="883.99" r="0.45" fill="#2a2a2a" opacity="0.9"/>
<circle cx="146.42" cy="857.07" r="0.45" fill="#2a2a2a" opacity="0.9"/>
<circle cx="148.22" cy="864.32" r="0.45" fill="#2a2a2a" opacity="0.9"/>
<circle cx="137.59" cy="858.22" r="0.45" fill="#2a2a2a" opacity="0.9"/>
<circle cx="146.51" cy="883.97" r="0.45" fill="#2a2a2a" opacity="0.9"/>
<circle cx="146.27" cy="882.26" r="0.45" fill="#2a2a2a" opacity="0.9"/>
<circle cx="144.59" cy="870.37" r="0.45" fill="#2a2a2a" opacity="0.9"/>
<circle cx="143.94" cy="882.71" r="0.45" fill="#2a2a2a" opacity="0.9"/>
<circle cx="145.95" cy="891.98" r="0.45" fill="#2a2a2a" opacity="0.9"/>
<circle cx="137.63" cy="886.42" r="0.45" fill="#2a2a2a" opacity="0.9"/>
<circle cx="144.79" cy="899.10" r="0.45" fill="#2a2a2a" opacity="0.9"/>
<circle cx="156.70" cy="890.75" r="0.45" fill="#2a2a2a" opacity="0.9"/>
<circle cx="167.54" cy="879.39" r="0.45" fill="#2a2a2a" opacity="0.9"/>
<circle cx="168.14" cy="863.65" r="0.45" fill="#2a2a2a" opacity="0.9"/>
<circle cx="164.14" cy="868.02" r="0.45" fill="#2a2a2a" opacity="0.9"/>
<circle cx="170.47" cy="890.03" r="0.45" fill="#2a2a2a" opacity="0.9"/>
<circle cx="170.04" cy="853.90" r="0.45" fill="#2a2a2a" opacity="0.9"/>
<circle cx="160.40" cy="870.30" r="0.45" fill="#2a2a2a" opacity="0.9"/>
<circle cx="160.65" cy="874.13" r="0.45" fill="#2a2a2a" opacity="0.9"/>
<circle cx="152.66" cy="905.68" r="0.45" fill="#2a2a2a" opacity="0.9"/>
<circle cx="167.41" cy="875.99" r="0.45" fill="#2a2a2a" opacity="0.9"/>
<circle cx="169.62" cy="892.42" r="0.45" fill="#2a2a2a" opacity="0.9"/>
<circle cx="159.50" cy="869.08" r="0.45" fill="#2a2a2a" opacity="0.9"/>
<circle cx="164.21" cy="880.65" r="0.45" fill="#2a2a2a" opacity="0.9"/>
<circle cx="164.83" cy="861.04" r="0.45" fill="#2a2a2a" opacity="0.9"/>
<circle cx="165.07" cy="870.43" r="0.45" fill="#2a2a2a" opacity="0.9"/>
<circle cx="152.78" cy="862.10" r="0.45" fill="#2a2a2a" opacity="0.9"/>
<circle cx="166.17" cy="887.03" r="0.45" fill="#2a2a2a" opacity="0.9"/>
<circle cx="161.78" cy="870.61" r="0.45" fill="#2a2a2a" opacity="0.9"/>
<circle cx="163.64" cy="865.41" r="0.45" fill="#2a2a2a" opacity="0.9"/>
<circle cx="158.26" cy="860.41" r="0.45" fill="#2a2a2a" opacity="0.9"/>
<circle cx="209.83" cy="915.23" r="0.45" fill="#2a2a2a" opacity="0.9"/>
<circle cx="207.70" cy="907.64" r="0.45" fill="#2a2a2a" opacity="0.9"/>
<circle cx="203.49" cy="914.64" r="0.45" fill="#2a2a2a" opacity="0.9"/>
<circle cx="215.53" cy="910.60" r="0.45" fill="#2a2a2a" opacity="0.9"/>
<circle cx="200.79" cy="936.74" r="0.45" fill="#2a2a2a" opacity="0.9"/>
<circle cx="200.97" cy="931.81" r="0.45" fill="#2a2a2a" opacity="0.9"/>
<circle cx="213.85" cy="922.57" r="0.45" fill="#2a2a2a" opacity="0.9"/>
<circle cx="195.50" cy="914.04" r="0.45" fill="#2a2a2a" opacity="0.9"/>
<circle cx="198.30" cy="930.02" r="0.45" fill="#2a2a2a" opacity="0.9"/>
<circle cx="213.24" cy="912.33" r="0.45" fill="#2a2a2a" opacity="0.9"/>
<circle cx="191.85" cy="914.91" r="0.45" fill="#2a2a2a" opacity="0.9"/>
<circle cx="213.42" cy="935.94" r="0.45" fill="#2a2a2a" opacity="0.9"/>
<circle cx="209.45" cy="921.44" r="0.45" fill="#2a2a2a" opacity="0.9"/>
<circle cx="202.12" cy="929.80" r="0.45" fill="#2a2a2a" opacity="0.9"/>
<circle cx="198.02" cy="935.36" r="0.45" fill="#2a2a2a" opacity="0.9"/>
<circle cx="211.86" cy="932.60" r="0.45" fill="#2a2a2a" opacity="0.9"/>
<circle cx="215.50" cy="926.87" r="0.45" fill="#2a2a2a" opacity="0.9"/>
<circle cx="194.00" cy="931.17" r="0.45" fill="#2a2a2a" opacity="0.9"/>
<circle cx="203.40" cy="930.81" r="0.45" fill="#2a2a2a" opacity="0.9"/>
<circle cx="205.37" cy="936.27" r="0.45" fill="#2a2a2a" opacity="0.9"/>
<circle cx="203.94" cy="921.68" r="0.45" fill="#2a2a2a" opacity="0.9"/>
<circle cx="199.26" cy="924.74" r="0.45" fill="#2a2a2a" opacity="0.9"/>
<circle cx="194.30" cy="915.76" r="0.45" fill="#2a2a2a" opacity="0.9"/>
<circle cx="206.40" cy="916.70" r="0.45" fill="#2a2a2a" opacity="0.9"/>
<circle cx="212.73" cy="929.43" r="0.45" fill="#2a2a2a" opacity="0.9"/>
<circle cx="191.92" cy="898.70" r="0.45" fill="#2a2a2a" opacity="0.9"/>
<circle cx="196.44" cy="939.67" r="0.45" fill="#2a2a2a" opacity="0.9"/>
<circle cx="212.95" cy="923.86" r="0.45" fill="#2a2a2a" opacity="0.9"/>
<circle cx="212.17" cy="928.14" r="0.45" fill="#2a2a2a" opacity="0.9"/>
<circle cx="208.58" cy="923.69" r="0.45" fill="#2a2a2a" opacity="0.9"/>
<circle cx="190.72" cy="933.14" r="0.45" fill="#2a2a2a" opacity="0.9"/>
<circle cx="210.23" cy="904.14" r="0.45" fill="#2a2a2a" opacity="0.9"/>
<circle cx="217.40" cy="924.96" r="0.45" fill="#2a2a2a" opacity="0.9"/>
<circle cx="217.95" cy="936.25" r="0.45" fill="#2a2a2a" opacity="0.9"/>
<circle cx="209.63" cy="915.68" r="0.45" fill="#2a2a2a" opacity="0.9"/>
<circle cx="191.37" cy="933.80" r="0.45" fill="#2a2a2a" opacity="0.9"/>
<circle cx="213.58" cy="918.57" r="0.45" fill="#2a2a2a" opacity="0.9"/>
<circle cx="196.14" cy="926.14" r="0.45" fill="#2a2a2a" opacity="0.9"/>
<circle cx="208.08" cy="917.09" r="0.45" fill="#2a2a2a" opacity="0.9"/>
<circle cx="216.66" cy="892.85" r="0.45" fill="#2a2a2a" opacity="0.9"/>
<circle cx="209.95" cy="904.98" r="0.45" fill="#2a2a2a" opacity="0.9"/>
<circle cx="193.77" cy="923.37" r="0.45" fill="#2a2a2a" opacity="0.9"/>
<circle cx="198.19" cy="905.33" r="0.45" fill="#2a2a2a" opacity="0.9"/>
<circle cx="215.70" cy="914.39" r="0.45" fill="#2a2a2a" opacity="0.9"/>
<circle cx="194.19" cy="925.12" r="0.45" fill="#2a2a2a" opacity="0.9"/>
<circle cx="207.10" cy="932.34" r="0.45" fill="#2a2a2a" opacity="0.9"/>
<circle cx="201.59" cy="916.45" r="0.45" fill="#2a2a2a" opacity="0.9"/>
<circle cx="194.51" cy="917.80" r="0.45" fill="#2a2a2a" opacity="0.9"/>
<circle cx="207.43" cy="892.99" r="0.45" fill="#2a2a2a" opacity="0.9"/>
<circle cx="191.22" cy="891.47" r="0.45" fill="#2a2a2a" opacity="0.9"/>
<circle cx="193.03" cy="915.90" r="0.45" fill="#2a2a2a" opacity="0.9"/>
<circle cx="200.62" cy="925.74" r="0.45" fill="#2a2a2a" opacity="0.9"/>
<circle cx="192.02" cy="899.53" r="0.45" fill="#2a2a2a" opacity="0.9"/>
<circle cx="191.61" cy="939.56" r="0.45" fill="#2a2a2a" opacity="0.9"/>
<circle cx="206.11" cy="933.37" r="0.45" fill="#2a2a2a" opacity="0.9"/>
<circle cx="210.79" cy="917.72" r="0.45" fill="#2a2a2a" opacity="0.9"/>
<circle cx="214.60" cy="915.61" r="0.45" fill="#2a2a2a" opacity="0.9"/>
<circle cx="193.76" cy="932.39" r="0.45" fill="#2a2a2a" opacity="0.9"/>
<circle cx="202.09" cy="914.98" r="0.45" fill="#2a2a2a" opacity="0.9"/>
<circle cx="198.81" cy="899.72" r="0.45" fill="#2a2a2a" opacity="0.9"/>
<circle cx="206.81" cy="924.89" r="0.45" fill="#2a2a2a" opacity="0.9"/>
<circle cx="203.71" cy="922.92" r="0.45" fill="#2a2a2a" opacity="0.9"/>
<circle cx="216.28" cy="929.79" r="0.45" fill="#2a2a2a" opacity="0.9"/>
<circle cx="200.48" cy="927.72" r="0.45" fill="#2a2a2a" opacity="0.9"/>
<circle cx="191.56" cy="890.76" r="0.45" fill="#2a2a2a" opacity="0.9"/>
<circle cx="209.52" cy="924.76" r="0.45" fill="#2a2a2a" opacity="0.9"/>
<circle cx="194.23" cy="892.46" r="0.45" fill="#2a2a2a" opacity="0.9"/>
<circle cx="207.68" cy="897.74" r="0.45" fill="#2a2a2a" opacity="0.9"/>
<circle cx="204.16" cy="916.46" r="0.45" fill="#2a2a2a" opacity="0.9"/>
<circle cx="215.49" cy="928.74" r="0.45" fill="#2a2a2a" opacity="0.9"/>
<circle cx="205.54" cy="889.22" r="0.45" fill="#2a2a2a" opacity="0.9"/>
<circle cx="207.38" cy="920.50" r="0.45" fill="#2a2a2a" opacity="0.9"/>
<circle cx="197.37" cy="923.50" r="0.45" fill="#2a2a2a" opacity="0.9"/>
<circle cx="205.45" cy="926.81" r="0.45" fill="#2a2a2a" opacity="0.9"/>
<circle cx="197.12" cy="888.54" r="0.45" fill="#2a2a2a" opacity="0.9"/>
<circle cx="211.02" cy="920.68" r="0.45" fill="#2a2a2a" opacity="0.9"/>
<circle cx="204.48" cy="927.89" r="0.45" fill="#2a2a2a" opacity="0.9"/>
<circle cx="193.75" cy="921.24" r="0.45" fill="#2a2a2a" opacity="0.9"/>
<circle cx="196.56" cy="932.94" r="0.45" fill="#2a2a2a" opacity="0.9"/>
<circle cx="200.39" cy="915.32" r="0.45" fill="#2a2a2a" opacity="0.9"/>
<circle cx="210.63" cy="922.49" r="0.45" fill="#2a2a2a" opacity="0.9"/>
<circle cx="195.02" cy="927.67" r="0.45" fill="#2a2a2a" opacity="0.9"/>
<circle cx="209.97" cy="907.24" r="0.45" fill="#2a2a2a" opacity="0.9"/>
<circle cx="208.34" cy="904.44" r="0.45" fill="#2a2a2a" opacity="0.9"/>
<circle cx="192.39" cy="937.81" r="0.45" fill="#2a2a2a" opacity="0.9"/>
<circle cx="208.70" cy="919.08" r="0.45" fill="#2a2a2a" opacity="0.9"/>
<circle cx="192.55" cy="928.29" r="0.45" fill="#2a2a2a" opacity="0.9"/>
<circle cx="193.49" cy="895.60" r="0.45" fill="#2a2a2a" opacity="0.9"/>
<circle cx="206.63" cy="907.22" r="0.45" fill="#2a2a2a" opacity="0.9"/>
<circle cx="196.68" cy="929.19" r="0.45" fill="#2a2a2a" opacity="0.9"/>
<circle cx="214.55" cy="928.49" r="0.45" fill="#2a2a2a" opacity="0.9"/>
<circle cx="203.45" cy="931.97" r="0.45" fill="#2a2a2a" opacity="0.9"/>
<circle cx="199.05" cy="887.46" r="0.45" fill="#2a2a2a" opacity="0.9"/>
<circle cx="212.30" cy="927.67" r="0.45" fill="#2a2a2a" opacity="0.9"/>
<circle cx="190.82" cy="915.93" r="0.45" fill="#2a2a2a" opacity="0.9"/>
<circle cx="210.30" cy="921.33" r="0.45" fill="#2a2a2a" opacity="0.9"/>
<circle cx="191.50" cy="914.28" r="0.45" fill="#2a2a2a" opacity="0.9"/>
<circle cx="194.22" cy="916.11" r="0.45" fill="#2a2a2a" opacity="0.9"/>
<circle cx="216.66" cy="909.38" r="0.45" fill="#2a2a2a" opacity="0.9"/>
<circle cx="209.07" cy="933.05" r="0.45" fill="#2a2a2a" opacity="0.9"/>
<circle cx="196.25" cy="908.45" r="0.45" fill="#2a2a2a" opacity="0.9"/>
<circle cx="193.25" cy="927.42" r="0.45" fill="#2a2a2a" opacity="0.9"/>
<circle cx="217.24" cy="919.04" r="0.45" fill="#2a2a2a" opacity="0.9"/>
<circle cx="208.62" cy="926.25" r="0.45" fill="#2a2a2a" opacity="0.9"/>
<circle cx="212.98" cy="927.55" r="0.45" fill="#2a2a2a" opacity="0.9"/>
<circle cx="193.91" cy="919.19" r="0.45" fill="#2a2a2a" opacity="0.9"/>
<circle cx="207.49" cy="921.71" r="0.45" fill="#2a2a2a" opacity="0.9"/>
<circle cx="199.92" cy="925.40" r="0.45" fill="#2a2a2a" opacity="0.9"/>
<circle cx="196.58" cy="909.30" r="0.45" fill="#2a2a2a" opacity="0.9"/>
<circle cx="199.33" cy="916.67" r="0.45" fill="#2a2a2a" opacity="0.9"/>
<circle cx="207.19" cy="936.23" r="0.45" fill="#2a2a2a" opacity="0.9"/>
<circle cx="199.76" cy="928.97" r="0.45" fill="#2a2a2a" opacity="0.9"/>
<circle cx="200.80" cy="922.04" r="0.45" fill="#2a2a2a" opacity="0.9"/>
<circle cx="193.82" cy="897.48" r="0.45" fill="#2a2a2a" opacity="0.9"/>
<circle cx="213.27" cy="899.99" r="0.45" fill="#2a2a2a" opacity="0.9"/>
<circle cx="208.14" cy="918.55" r="0.45" fill="#2a2a2a" opacity="0.9"/>
<circle cx="212.53" cy="937.69" r="0.45" fill="#2a2a2a" opacity="0.9"/>
<circle cx="202.14" cy="907.43" r="0.45" fill="#2a2a2a" opacity="0.9"/>
<circle cx="213.84" cy="923.06" r="0.45" fill="#2a2a2a" opacity="0.9"/>
<circle cx="204.49" cy="917.31" r="0.45" fill="#2a2a2a" opacity="0.9"/>
<circle cx="229.86" cy="919.65" r="0.45" fill="#2a2a2a" opacity="0.9"/>
<circle cx="225.36" cy="920.40" r="0.45" fill="#2a2a2a" opacity="0.9"/>
<circle cx="235.00" cy="913.24" r="0.45" fill="#2a2a2a" opacity="0.9"/>
<circle cx="239.16" cy="926.59" r="0.45" fill="#2a2a2a" opacity="0.9"/>
<circle cx="229.87" cy="935.20" r="0.45" fill="#2a2a2a" opacity="0.9"/>
<circle cx="224.72" cy="937.27" r="0.45" fill="#2a2a2a" opacity="0.9"/>
<circle cx="242.62" cy="932.35" r="0.45" fill="#2a2a2a" opacity="0.9"/>
<circle cx="224.34" cy="937.01" r="0.45" fill="#2a2a2a" opacity="0.9"/>
<circle cx="228.60" cy="904.42" r="0.45" fill="#2a2a2a" opacity="0.9"/>
<circle cx="231.01" cy="923.74" r="0.45" fill="#2a2a2a" opacity="0.9"/>
<circle cx="233.47" cy="912.24" r="0.45" fill="#2a2a2a" opacity="0.9"/>
<circle cx="225.76" cy="939.86" r="0.45" fill="#2a2a2a" opacity="0.9"/>
<circle cx="234.78" cy="924.11" r="0.45" fill="#2a2a2a" opacity="0.9"/>
<circle cx="231.79" cy="904.39" r="0.45" fill="#2a2a2a" opacity="0.9"/>
<circle cx="244.06" cy="918.58" r="0.45" fill="#2a2a2a" opacity="0.9"/>
<circle cx="238.57" cy="925.51" r="0.45" fill="#2a2a2a" opacity="0.9"/>
<circle cx="248.09" cy="924.27" r="0.45" fill="#2a2a2a" opacity="0.9"/>
<circle cx="241.31" cy="935.12" r="0.45" fill="#2a2a2a" opacity="0.9"/>
<circle cx="244.27" cy="933.66" r="0.45" fill="#2a2a2a" opacity="0.9"/>
<circle cx="239.09" cy="933.54" r="0.45" fill="#2a2a2a" opacity="0.9"/>
<circle cx="235.38" cy="927.25" r="0.45" fill="#2a2a2a" opacity="0.9"/>
<circle cx="245.87" cy="926.90" r="0.45" fill="#2a2a2a" opacity="0.9"/>
<circle cx="241.35" cy="905.08" r="0.45" fill="#2a2a2a" opacity="0.9"/>
<circle cx="249.73" cy="933.73" r="0.45" fill="#2a2a2a" opacity="0.9"/>
<circle cx="243.38" cy="930.88" r="0.45" fill="#2a2a2a" opacity="0.9"/>
<circle cx="242.63" cy="930.20" r="0.45" fill="#2a2a2a" opacity="0.9"/>
<circle cx="230.50" cy="933.47" r="0.45" fill="#2a2a2a" opacity="0.9"/>
<circle cx="245.74" cy="929.92" r="0.45" fill="#2a2a2a" opacity="0.9"/>
<circle cx="233.71" cy="931.42" r="0.45" fill="#2a2a2a" opacity="0.9"/>
<circle cx="226.65" cy="923.71" r="0.45" fill="#2a2a2a" opacity="0.9"/>
<circle cx="224.85" cy="937.32" r="0.45" fill="#2a2a2a" opacity="0.9"/>
<circle cx="227.74" cy="901.53" r="0.45" fill="#2a2a2a" opacity="0.9"/>
<circle cx="230.35" cy="927.43" r="0.45" fill="#2a2a2a" opacity="0.9"/>
<circle cx="241.93" cy="900.25" r="0.45" fill="#2a2a2a" opacity="0.9"/>
<circle cx="230.99" cy="915.69" r="0.45" fill="#2a2a2a" opacity="0.9"/>
<circle cx="224.78" cy="916.30" r="0.45" fill="#2a2a2a" opacity="0.9"/>
<circle cx="244.39" cy="924.06" r="0.45" fill="#2a2a2a" opacity="0.9"/>
<circle cx="238.60" cy="899.48" r="0.45" fill="#2a2a2a" opacity="0.9"/>
<circle cx="223.77" cy="934.64" r="0.45" fill="#2a2a2a" opacity="0.9"/>
<circle cx="224.42" cy="916.53" r="0.45" fill="#2a2a2a" opacity="0.9"/>
<circle cx="226.64" cy="929.80" r="0.45" fill="#2a2a2a" opacity="0.9"/>
<circle cx="233.00" cy="916.27" r="0.45" fill="#2a2a2a" opacity="0.9"/>
<circle cx="247.07" cy="913.77" r="0.45" fill="#2a2a2a" opacity="0.9"/>
<circle cx="249.58" cy="933.43" r="0.45" fill="#2a2a2a" opacity="0.9"/>
<circle cx="240.14" cy="932.39" r="0.45" fill="#2a2a2a" opacity="0.9"/>
<circle cx="229.47" cy="937.66" r="0.45" fill="#2a2a2a" opacity="0.9"/>
<circle cx="235.01" cy="931.56" r="0.45" fill="#2a2a2a" opacity="0.9"/>
<circle cx="233.15" cy="935.71" r="0.45" fill="#2a2a2a" opacity="0.9"/>
<circle cx="232.25" cy="926.41" r="0.45" fill="#2a2a2a" opacity="0.9"/>
<circle cx="223.35" cy="895.94" r="0.45" fill="#2a2a2a" opacity="0.9"/>
<circle cx="239.36" cy="927.58" r="0.45" fill="#2a2a2a" opacity="0.9"/>
<circle cx="246.15" cy="929.18" r="0.45" fill="#2a2a2a" opacity="0.9"/>
<circle cx="243.35" cy="924.19" r="0.45" fill="#2a2a2a" opacity="0.9"/>
<circle cx="225.67" cy="930.03" r="0.45" fill="#2a2a2a" opacity="0.9"/>
<circle cx="237.85" cy="913.62" r="0.45" fill="#2a2a2a" opacity="0.9"/>
<circle cx="227.79" cy="914.31" r="0.45" fill="#2a2a2a" opacity="0.9"/>
<circle cx="242.86" cy="933.42" r="0.45" fill="#2a2a2a" opacity="0.9"/>
<circle cx="235.49" cy="931.27" r="0.45" fill="#2a2a2a" opacity="0.9"/>
<circle cx="249.28" cy="916.37" r="0.45" fill="#2a2a2a" opacity="0.9"/>
<circle cx="245.25" cy="900.00" r="0.45" fill="#2a2a2a" opacity="0.9"/>
<circle cx="226.31" cy="917.50" r="0.45" fill="#2a2a2a" opacity="0.9"/>
<circle cx="231.88" cy="925.44" r="0.45" fill="#2a2a2a" opacity="0.9"/>
<circle cx="248.62" cy="895.65" r="0.45" fill="#2a2a2a" opacity="0.9"/>
<circle cx="235.91" cy="938.93" r="0.45" fill="#2a2a2a" opacity="0.9"/>
<circle cx="235.16" cy="936.24" r="0.45" fill="#2a2a2a" opacity="0.9"/>
<circle cx="235.36" cy="911.25" r="0.45" fill="#2a2a2a" opacity="0.9"/>
<circle cx="244.49" cy="926.11" r="0.45" fill="#2a2a2a" opacity="0.9"/>
<circle cx="249.22" cy="936.79" r="0.45" fill="#2a2a2a" opacity="0.9"/>
<circle cx="237.91" cy="921.33" r="0.45" fill="#2a2a2a" opacity="0.9"/>
<circle cx="250.15" cy="892.92" r="0.45" fill="#2a2a2a" opacity="0.9"/>
<circle cx="239.69" cy="922.40" r="0.45" fill="#2a2a2a" opacity="0.9"/>
<circle cx="225.90" cy="928.02" r="0.45" fill="#2a2a2a" opacity="0.9"/>
<circle cx="245.80" cy="935.28" r="0.45" fill="#2a2a2a" opacity="0.9"/>
<circle cx="234.74" cy="935.91" r="0.45" fill="#2a2a2a" opacity="0.9"/>
<circle cx="224.46" cy="903.69" r="0.45" fill="#2a2a2a" opacity="0.9"/>
<circle cx="250.38" cy="923.39" r="0.45" fill="#2a2a2a" opacity="0.9"/>
<circle cx="223.92" cy="900.47" r="0.45" fill="#2a2a2a" opacity="0.9"/>
<circle cx="239.16" cy="936.48" r="0.45" fill="#2a2a2a" opacity="0.9"/>
<circle cx="236.50" cy="931.19" r="0.45" fill="#2a2a2a" opacity="0.9"/>
<circle cx="247.69" cy="936.59" r="0.45" fill="#2a2a2a" opacity="0.9"/>
<circle cx="234.00" cy="926.53" r="0.45" fill="#2a2a2a" opacity="0.9"/>
<circle cx="229.04" cy="936.26" r="0.45" fill="#2a2a2a" opacity="0.9"/>
<circle cx="230.76" cy="930.84" r="0.45" fill="#2a2a2a" opacity="0.9"/>
<circle cx="228.63" cy="926.20" r="0.45" fill="#2a2a2a" opacity="0.9"/>
<circle cx="238.75" cy="929.36" r="0.45" fill="#2a2a2a" opacity="0.9"/>
<circle cx="233.00" cy="936.56" r="0.45" fill="#2a2a2a" opacity="0.9"/>
<circle cx="244.03" cy="937.09" r="0.45" fill="#2a2a2a" opacity="0.9"/>
<circle cx="229.76" cy="896.23" r="0.45" fill="#2a2a2a" opacity="0.9"/>
<circle cx="232.85" cy="932.98" r="0.45" fill="#2a2a2a" opacity="0.9"/>
<circle cx="229.95" cy="922.77" r="0.45" fill="#2a2a2a" opacity="0.9"/>
<circle cx="250.51" cy="926.37" r="0.45" fill="#2a2a2a" opacity="0.9"/>
<circle cx="246.53" cy="921.96" r="0.45" fill="#2a2a2a" opacity="0.9"/>
<circle cx="246.80" cy="935.53" r="0.45" fill="#2a2a2a" opacity="0.9"/>
<circle cx="240.31" cy="929.12" r="0.45" fill="#2a2a2a" opacity="0.9"/>
<circle cx="234.22" cy="934.91" r="0.45" fill="#2a2a2a" opacity="0.9"/>
<circle cx="227.01" cy="921.57" r="0.45" fill="#2a2a2a" opacity="0.9"/>
<circle cx="246.29" cy="901.82" r="0.45" fill="#2a2a2a" opacity="0.9"/>
<circle cx="236.72" cy="919.43" r="0.45" fill="#2a2a2a" opacity="0.9"/>
<circle cx="224.06" cy="906.70" r="0.45" fill="#2a2a2a" opacity="0.9"/>
<circle cx="227.75" cy="932.01" r="0.45" fill="#2a2a2a" opacity="0.9"/>
<circle cx="225.76" cy="938.08" r="0.45" fill="#2a2a2a" opacity="0.9"/>
<circle cx="243.10" cy="921.65" r="0.45" fill="#2a2a2a" opacity="0.9"/>
<circle cx="248.21" cy="923.55" r="0.45" fill="#2a2a2a" opacity="0.9"/>
<circle cx="228.58" cy="920.46" r="0.45" fill="#2a2a2a" opacity="0.9"/>
<circle cx="245.32" cy="927.19" r="0.45" fill="#2a2a2a" opacity="0.9"/>
<circle cx="232.07" cy="918.35" r="0.45" fill="#2a2a2a" opacity="0.9"/>
<circle cx="242.12" cy="913.94" r="0.45" fill="#2a2a2a" opacity="0.9"/>
<circle cx="247.17" cy="902.54" r="0.45" fill="#2a2a2a" opacity="0.9"/>
<circle cx="240.45" cy="929.31" r="0.45" fill="#2a2a2a" opacity="0.9"/>
<circle cx="245.41" cy="924.83" r="0.45" fill="#2a2a2a" opacity="0.9"/>
<circle cx="233.54" cy="908.60" r="0.45" fill="#2a2a2a" opacity="0.9"/>
<circle cx="223.28" cy="931.74" r="0.45" fill="#2a2a2a" opacity="0.9"/>
<circle cx="237.33" cy="934.70" r="0.45" fill="#2a2a2a" opacity="0.9"/>
<circle cx="239.43" cy="929.18" r="0.45" fill="#2a2a2a" opacity="0.9"/>
<circle cx="228.17" cy="935.44" r="0.45" fill="#2a2a2a" opacity="0.9"/>
<circle cx="233.89" cy="911.61" r="0.45" fill="#2a2a2a" opacity="0.9"/>
<circle cx="231.88" cy="909.02" r="0.45" fill="#2a2a2a" opacity="0.9"/>
<circle cx="223.76" cy="929.15" r="0.45" fill="#2a2a2a" opacity="0.9"/>
<circle cx="231.74" cy="934.33" r="0.45" fill="#2a2a2a" opacity="0.9"/>
<circle cx="233.72" cy="935.60" r="0.45" fill="#2a2a2a" opacity="0.9"/>
<circle cx="266.48" cy="929.54" r="0.45" fill="#2a2a2a" opacity="0.9"/>
<circle cx="268.84" cy="923.03" r="0.45" fill="#2a2a2a" opacity="0.9"/>
<circle cx="275.05" cy="931.41" r="0.45" fill="#2a2a2a" opacity="0.9"/>
<circle cx="276.80" cy="908.06" r="0.45" fill="#2a2a2a" opacity="0.9"/>
<circle cx="258.35" cy="918.85" r="0.45" fill="#2a2a2a" opacity="0.9"/>
<circle cx="267.29" cy="913.27" r="0.45" fill="#2a2a2a" opacity="0.9"/>
<circle cx="271.22" cy="923.38" r="0.45" fill="#2a2a2a" opacity="0.9"/>
<circle cx="266.51" cy="924.11" r="0.45" fill="#2a2a2a" opacity="0.9"/>
<circle cx="259.29" cy="927.97" r="0.45" fill="#2a2a2a" opacity="0.9"/>
<circle cx="272.72" cy="919.54" r="0.45" fill="#2a2a2a" opacity="0.9"/>
<circle cx="266.48" cy="932.25" r="0.45" fill="#2a2a2a" opacity="0.9"/>
<circle cx="275.14" cy="926.41" r="0.45" fill="#2a2a2a" opacity="0.9"/>
<circle cx="269.87" cy="923.81" r="0.45" fill="#2a2a2a" opacity="0.9"/>
<circle cx="282.96" cy="928.36" r="0.45" fill="#2a2a2a" opacity="0.9"/>
<circle cx="282.46" cy="933.99" r="0.45" fill="#2a2a2a" opacity="0.9"/>
<circle cx="258.02" cy="938.14" r="0.45" fill="#2a2a2a" opacity="0.9"/>
<circle cx="277.27" cy="937.96" r="0.45" fill="#2a2a2a" opacity="0.9"/>
<circle cx="276.20" cy="932.40" r="0.45" fill="#2a2a2a" opacity="0.9"/>
<circle cx="264.29" cy="926.78" r="0.45" fill="#2a2a2a" opacity="0.9"/>
<circle cx="259.27" cy="921.06" r="0.45" fill="#2a2a2a" opacity="0.9"/>
<circle cx="269.41" cy="922.66" r="0.45" fill="#2a2a2a" opacity="0.9"/>
<circle cx="265.92" cy="933.50" r="0.45" fill="#2a2a2a" opacity="0.9"/>
<circle cx="276.64" cy="912.91" r="0.45" fill="#2a2a2a" opacity="0.9"/>
<circle cx="281.71" cy="934.19" r="0.45" fill="#2a2a2a" opacity="0.9"/>
<circle cx="266.70" cy="922.60" r="0.45" fill="#2a2a2a" opacity="0.9"/>
<circle cx="264.14" cy="938.25" r="0.45" fill="#2a2a2a" opacity="0.9"/>
<circle cx="269.97" cy="921.29" r="0.45" fill="#2a2a2a" opacity="0.9"/>
<circle cx="275.51" cy="924.12" r="0.45" fill="#2a2a2a" opacity="0.9"/>
<circle cx="278.09" cy="910.78" r="0.45" fill="#2a2a2a" opacity="0.9"/>
<circle cx="272.12" cy="914.89" r="0.45" fill="#2a2a2a" opacity="0.9"/>
<circle cx="264.29" cy="923.55" r="0.45" fill="#2a2a2a" opacity="0.9"/>
<circle cx="265.43" cy="917.85" r="0.45" fill="#2a2a2a" opacity="0.9"/>
<circle cx="279.74" cy="921.82" r="0.45" fill="#2a2a2a" opacity="0.9"/>
<circle cx="270.54" cy="925.91" r="0.45" fill="#2a2a2a" opacity="0.9"/>
<circle cx="257.41" cy="935.56" r="0.45" fill="#2a2a2a" opacity="0.9"/>
<circle cx="267.78" cy="928.50" r="0.45" fill="#2a2a2a" opacity="0.9"/>
<circle cx="262.66" cy="914.95" r="0.45" fill="#2a2a2a" opacity="0.9"/>
<circle cx="274.65" cy="934.94" r="0.45" fill="#2a2a2a" opacity="0.9"/>
<circle cx="258.05" cy="909.02" r="0.45" fill="#2a2a2a" opacity="0.9"/>
<circle cx="263.59" cy="927.78" r="0.45" fill="#2a2a2a" opacity="0.9"/>
<circle cx="258.69" cy="931.54" r="0.45" fill="#2a2a2a" opacity="0.9"/>
<circle cx="269.37" cy="939.83" r="0.45" fill="#2a2a2a" opacity="0.9"/>
<circle cx="283.57" cy="931.62" r="0.45" fill="#2a2a2a" opacity="0.9"/>
<circle cx="271.16" cy="936.18" r="0.45" fill="#2a2a2a" opacity="0.9"/>
<circle cx="266.82" cy="924.64" r="0.45" fill="#2a2a2a" opacity="0.9"/>
<circle cx="282.15" cy="914.76" r="0.45" fill="#2a2a2a" opacity="0.9"/>
<circle cx="258.57" cy="914.13" r="0.45" fill="#2a2a2a" opacity="0.9"/>
<circle cx="265.96" cy="925.83" r="0.45" fill="#2a2a2a" opacity="0.9"/>
<circle cx="278.70" cy="931.70" r="0.45" fill="#2a2a2a" opacity="0.9"/>
<circle cx="256.14" cy="937.54" r="0.45" fill="#2a2a2a" opacity="0.9"/>
<circle cx="277.45" cy="923.51" r="0.45" fill="#2a2a2a" opacity="0.9"/>
<circle cx="266.11" cy="927.52" r="0.45" fill="#2a2a2a" opacity="0.9"/>
<circle cx="256.46" cy="922.63" r="0.45" fill="#2a2a2a" opacity="0.9"/>
<circle cx="263.02" cy="931.99" r="0.45" fill="#2a2a2a" opacity="0.9"/>
<circle cx="268.83" cy="915.47" r="0.45" fill="#2a2a2a" opacity="0.9"/>
<circle cx="266.72" cy="935.48" r="0.45" fill="#2a2a2a" opacity="0.9"/>
<circle cx="270.47" cy="933.52" r="0.45" fill="#2a2a2a" opacity="0.9"/>
<circle cx="257.49" cy="934.34" r="0.45" fill="#2a2a2a" opacity="0.9"/>
<circle cx="262.12" cy="925.58" r="0.45" fill="#2a2a2a" opacity="0.9"/>
<circle cx="283.28" cy="914.89" r="0.45" fill="#2a2a2a" opacity="0.9"/>
<circle cx="268.39" cy="936.40" r="0.45" fill="#2a2a2a" opacity="0.9"/>
<circle cx="269.21" cy="925.26" r="0.45" fill="#2a2a2a" opacity="0.9"/>
<circle cx="258.39" cy="920.80" r="0.45" fill="#2a2a2a" opacity="0.9"/>
<circle cx="263.82" cy="935.24" r="0.45" fill="#2a2a2a" opacity="0.9"/>
<circle cx="282.73" cy="938.42" r="0.45" fill="#2a2a2a" opacity="0.9"/>
<circle cx="275.24" cy="927.18" r="0.45" fill="#2a2a2a" opacity="0.9"/>
<circle cx="270.22" cy="918.21" r="0.45" fill="#2a2a2a" opacity="0.9"/>
<circle cx="257.48" cy="915.90" r="0.45" fill="#2a2a2a" opacity="0.9"/>
<circle cx="267.00" cy="922.19" r="0.45" fill="#2a2a2a" opacity="0.9"/>
<circle cx="277.80" cy="930.99" r="0.45" fill="#2a2a2a" opacity="0.9"/>
<circle cx="268.17" cy="930.79" r="0.45" fill="#2a2a2a" opacity="0.9"/>
<circle cx="272.62" cy="928.19" r="0.45" fill="#2a2a2a" opacity="0.9"/>
<circle cx="281.27" cy="914.46" r="0.45" fill="#2a2a2a" opacity="0.9"/>
<circle cx="274.06" cy="933.59" r="0.45" fill="#2a2a2a" opacity="0.9"/>
<circle cx="273.80" cy="934.06" r="0.45" fill="#2a2a2a" opacity="0.9"/>
<circle cx="257.01" cy="926.07" r="0.45" fill="#2a2a2a" opacity="0.9"/>
<circle cx="256.67" cy="909.88" r="0.45" fill="#2a2a2a" opacity="0.9"/>
<circle cx="277.55" cy="936.00" r="0.45" fill="#2a2a2a" opacity="0.9"/>
<circle cx="267.57" cy="939.02" r="0.45" fill="#2a2a2a" opacity="0.9"/>
<circle cx="280.48" cy="937.41" r="0.45" fill="#2a2a2a" opacity="0.9"/>
<circle cx="279.12" cy="927.27" r="0.45" fill="#2a2a2a" opacity="0.9"/>
<circle cx="281.63" cy="926.12" r="0.45" fill="#2a2a2a" opacity="0.9"/>
<circle cx="266.60" cy="936.07" r="0.45" fill="#2a2a2a" opacity="0.9"/>
<circle cx="283.97" cy="935.94" r="0.45" fill="#2a2a2a" opacity="0.9"/>
<circle cx="277.17" cy="926.38" r="0.45" fill="#2a2a2a" opacity="0.9"/>
<circle cx="280.97" cy="924.85" r="0.45" fill="#2a2a2a" opacity="0.9"/>
<circle cx="260.15" cy="923.47" r="0.45" fill="#2a2a2a" opacity="0.9"/>
<circle cx="277.87" cy="922.16" r="0.45" fill="#2a2a2a" opacity="0.9"/>
<circle cx="267.82" cy="938.45" r="0.45" fill="#2a2a2a" opacity="0.9"/>
<circle cx="283.22" cy="929.33" r="0.45" fill="#2a2a2a" opacity="0.9"/>
<circle cx="283.84" cy="918.02" r="0.45" fill="#2a2a2a" opacity="0.9"/>
<circle cx="262.07" cy="910.76" r="0.45" fill="#2a2a2a" opacity="0.9"/>
<circle cx="267.80" cy="933.24" r="0.45" fill="#2a2a2a" opacity="0.9"/>
<circle cx="263.59" cy="917.30" r="0.45" fill="#2a2a2a" opacity="0.9"/>
<circle cx="269.16" cy="924.89" r="0.45" fill="#2a2a2a" opacity="0.9"/>
<circle cx="264.02" cy="913.08" r="0.45" fill="#2a2a2a" opacity="0.9"/>
<circle cx="274.66" cy="935.15" r="0.45" fill="#2a2a2a" opacity="0.9"/>
<circle cx="259.45" cy="923.25" r="0.45" fill="#2a2a2a" opacity="0.9"/>
<circle cx="260.74" cy="917.74" r="0.45" fill="#2a2a2a" opacity="0.9"/>
<circle cx="268.81" cy="929.53" r="0.45" fill="#2a2a2a" opacity="0.9"/>
<circle cx="258.07" cy="937.70" r="0.45" fill="#2a2a2a" opacity="0.9"/>
<circle cx="266.67" cy="935.87" r="0.45" fill="#2a2a2a" opacity="0.9"/>
<circle cx="281.13" cy="936.61" r="0.45" fill="#2a2a2a" opacity="0.9"/>
<circle cx="280.79" cy="937.85" r="0.45" fill="#2a2a2a" opacity="0.9"/>
<circle cx="261.50" cy="936.70" r="0.45" fill="#2a2a2a" opacity="0.9"/>
<circle cx="256.52" cy="925.77" r="0.45" fill="#2a2a2a" opacity="0.9"/>
<circle cx="279.19" cy="937.62" r="0.45" fill="#2a2a2a" opacity="0.9"/>
<circle cx="282.90" cy="921.11" r="0.45" fill="#2a2a2a" opacity="0.9"/>
<circle cx="272.77" cy="921.90" r="0.45" fill="#2a2a2a" opacity="0.9"/>
<circle cx="259.82" cy="918.81" r="0.45" fill="#2a2a2a" opacity="0.9"/>
<circle cx="262.62" cy="919.34" r="0.45" fill="#2a2a2a" opacity="0.9"/>
<circle cx="281.77" cy="922.70" r="0.45" fill="#2a2a2a" opacity="0.9"/>
<circle cx="282.25" cy="913.25" r="0.45" fill="#2a2a2a" opacity="0.9"/>
<circle cx="256.87" cy="910.78" r="0.45" fill="#2a2a2a" opacity="0.9"/>
<circle cx="261.17" cy="925.49" r="0.45" fill="#2a2a2a" opacity="0.9"/>
<circle cx="268.01" cy="910.03" r="0.45" fill="#2a2a2a" opacity="0.9"/>
<circle cx="263.47" cy="937.65" r="0.45" fill="#2a2a2a" opacity="0.9"/>
<circle cx="277.11" cy="937.66" r="0.45" fill="#2a2a2a" opacity="0.9"/>
<circle cx="266.44" cy="938.39" r="0.45" fill="#2a2a2a" opacity="0.9"/>
<circle cx="277.71" cy="935.61" r="0.45" fill="#2a2a2a" opacity="0.9"/>
<circle cx="434.68" cy="936.35" r="0.35" fill="#555555" opacity="0.9"/>
<circle cx="436.45" cy="935.09" r="0.35" fill="#555555" opacity="0.9"/>
<circle cx="404.88" cy="933.53" r="0.35" fill="#555555" opacity="0.9"/>
<circle cx="398.67" cy="934.46" r="0.35" fill="#555555" opacity="0.9"/>
<circle cx="433.87" cy="936.56" r="0.35" fill="#555555" opacity="0.9"/>
<circle cx="394.56" cy="936.49" r="0.35" fill="#555555" opacity="0.9"/>
<circle cx="411.64" cy="934.66" r="0.35" fill="#555555" opacity="0.9"/>
<circle cx="424.87" cy="935.59" r="0.35" fill="#555555" opacity="0.9"/>
<circle cx="415.32" cy="935.61" r="0.35" fill="#555555" opacity="0.9"/>
<circle cx="408.88" cy="935.23" r="0.35" fill="#555555" opacity="0.9"/>
<circle cx="433.53" cy="934.88" r="0.35" fill="#555555" opacity="0.9"/>
<circle cx="404.76" cy="933.56" r="0.35" fill="#555555" opacity="0.9"/>
<circle cx="416.38" cy="936.05" r="0.35" fill="#555555" opacity="0.9"/>
<circle cx="429.16" cy="934.92" r="0.35" fill="#555555" opacity="0.9"/>
<circle cx="397.35" cy="935.97" r="0.35" fill="#555555" opacity="0.9"/>
<circle cx="407.14" cy="935.00" r="0.35" fill="#555555" opacity="0.9"/>
<circle cx="413.74" cy="934.36" r="0.35" fill="#555555" opacity="0.9"/>
<circle cx="417.03" cy="936.41" r="0.35" fill="#555555" opacity="0.9"/>
<circle cx="400.54" cy="935.22" r="0.35" fill="#555555" opacity="0.9"/>
<circle cx="411.88" cy="934.45" r="0.35" fill="#555555" opacity="0.9"/>
<circle cx="393.75" cy="936.84" r="0.35" fill="#555555" opacity="0.9"/>
<circle cx="395.04" cy="934.23" r="0.35" fill="#555555" opacity="0.9"/>
<circle cx="406.74" cy="935.43" r="0.35" fill="#555555" opacity="0.9"/>
<circle cx="397.61" cy="935.14" r="0.35" fill="#555555" opacity="0.9"/>
<circle cx="435.51" cy="934.78" r="0.35" fill="#555555" opacity="0.9"/>
<circle cx="403.11" cy="934.15" r="0.35" fill="#555555" opacity="0.9"/>
<circle cx="403.68" cy="936.68" r="0.35" fill="#555555" opacity="0.9"/>
<circle cx="427.05" cy="935.15" r="0.35" fill="#555555" opacity="0.9"/>
<circle cx="425.09" cy="936.74" r="0.35" fill="#555555" opacity="0.9"/>
<circle cx="403.06" cy="935.55" r="0.35" fill="#555555" opacity="0.9"/>
<circle cx="429.14" cy="935.69" r="0.35" fill="#555555" opacity="0.9"/>
<circle cx="419.78" cy="936.80" r="0.35" fill="#555555" opacity="0.9"/>
<circle cx="408.88" cy="935.85" r="0.35" fill="#555555" opacity="0.9"/>
<circle cx="419.93" cy="935.33" r="0.35" fill="#555555" opacity="0.9"/>
<circle cx="402.30" cy="934.62" r="0.35" fill="#555555" opacity="0.9"/>
<circle cx="403.12" cy="933.70" r="0.35" fill="#555555" opacity="0.9"/>
<circle cx="431.32" cy="935.60" r="0.35" fill="#555555" opacity="0.9"/>
<circle cx="411.18" cy="935.05" r="0.35" fill="#555555" opacity="0.9"/>
<circle cx="432.27" cy="934.42" r="0.35" fill="#555555" opacity="0.9"/>
<circle cx="399.14" cy="933.66" r="0.35" fill="#555555" opacity="0.9"/>
<circle cx="469.19" cy="897.77" r="0.45" fill="#2a2a2a" opacity="0.9"/>
<circle cx="464.74" cy="902.17" r="0.45" fill="#2a2a2a" opacity="0.9"/>
<circle cx="447.80" cy="866.76" r="0.45" fill="#2a2a2a" opacity="0.9"/>
<circle cx="462.72" cy="875.95" r="0.45" fill="#2a2a2a" opacity="0.9"/>
<circle cx="467.93" cy="904.34" r="0.45" fill="#2a2a2a" opacity="0.9"/>
<circle cx="449.13" cy="902.61" r="0.45" fill="#2a2a2a" opacity="0.9"/>
<circle cx="465.62" cy="862.42" r="0.45" fill="#2a2a2a" opacity="0.9"/>
<circle cx="452.72" cy="879.39" r="0.45" fill="#2a2a2a" opacity="0.9"/>
<circle cx="453.76" cy="859.98" r="0.45" fill="#2a2a2a" opacity="0.9"/>
<circle cx="446.04" cy="902.79" r="0.45" fill="#2a2a2a" opacity="0.9"/>
<circle cx="465.71" cy="874.53" r="0.45" fill="#2a2a2a" opacity="0.9"/>
<circle cx="459.41" cy="898.79" r="0.45" fill="#2a2a2a" opacity="0.9"/>
<circle cx="469.45" cy="867.72" r="0.45" fill="#2a2a2a" opacity="0.9"/>
<circle cx="458.10" cy="873.37" r="0.45" fill="#2a2a2a" opacity="0.9"/>
<circle cx="450.04" cy="873.33" r="0.45" fill="#2a2a2a" opacity="0.9"/>
<circle cx="451.63" cy="893.44" r="0.45" fill="#2a2a2a" opacity="0.9"/>
<circle cx="452.85" cy="855.98" r="0.45" fill="#2a2a2a" opacity="0.9"/>
<circle cx="470.62" cy="899.12" r="0.45" fill="#2a2a2a" opacity="0.9"/>
<circle cx="451.34" cy="901.54" r="0.45" fill="#2a2a2a" opacity="0.9"/>
<circle cx="448.29" cy="869.63" r="0.45" fill="#2a2a2a" opacity="0.9"/>
<circle cx="455.17" cy="900.06" r="0.45" fill="#2a2a2a" opacity="0.9"/>
<circle cx="448.06" cy="901.40" r="0.45" fill="#2a2a2a" opacity="0.9"/>
<circle cx="457.06" cy="881.14" r="0.45" fill="#2a2a2a" opacity="0.9"/>
<circle cx="462.16" cy="871.44" r="0.45" fill="#2a2a2a" opacity="0.9"/>
<circle cx="487.36" cy="864.76" r="0.45" fill="#2a2a2a" opacity="0.9"/>
<circle cx="487.66" cy="891.98" r="0.45" fill="#2a2a2a" opacity="0.9"/>
<circle cx="495.86" cy="894.04" r="0.45" fill="#2a2a2a" opacity="0.9"/>
<circle cx="474.03" cy="873.88" r="0.45" fill="#2a2a2a" opacity="0.9"/>
<circle cx="491.02" cy="862.67" r="0.45" fill="#2a2a2a" opacity="0.9"/>
<circle cx="479.75" cy="876.40" r="0.45" fill="#2a2a2a" opacity="0.9"/>
<circle cx="473.68" cy="869.19" r="0.45" fill="#2a2a2a" opacity="0.9"/>
<circle cx="487.43" cy="849.81" r="0.45" fill="#2a2a2a" opacity="0.9"/>
<circle cx="492.95" cy="893.68" r="0.45" fill="#2a2a2a" opacity="0.9"/>
<circle cx="486.14" cy="886.66" r="0.45" fill="#2a2a2a" opacity="0.9"/>
<circle cx="472.30" cy="873.74" r="0.45" fill="#2a2a2a" opacity="0.9"/>
<circle cx="496.28" cy="871.31" r="0.45" fill="#2a2a2a" opacity="0.9"/>
<circle cx="480.99" cy="850.49" r="0.45" fill="#2a2a2a" opacity="0.9"/>
<circle cx="487.54" cy="870.22" r="0.45" fill="#2a2a2a" opacity="0.9"/>
<circle cx="489.82" cy="864.09" r="0.45" fill="#2a2a2a" opacity="0.9"/>
<circle cx="477.78" cy="877.98" r="0.45" fill="#2a2a2a" opacity="0.9"/>
<circle cx="481.62" cy="857.12" r="0.45" fill="#2a2a2a" opacity="0.9"/>
<circle cx="479.56" cy="854.16" r="0.45" fill="#2a2a2a" opacity="0.9"/>
<circle cx="473.49" cy="885.19" r="0.45" fill="#2a2a2a" opacity="0.9"/>
<circle cx="472.67" cy="895.81" r="0.45" fill="#2a2a2a" opacity="0.9"/>
<circle cx="489.64" cy="887.15" r="0.45" fill="#2a2a2a" opacity="0.9"/>
<circle cx="481.67" cy="881.53" r="0.45" fill="#2a2a2a" opacity="0.9"/>
<circle cx="493.61" cy="851.09" r="0.45" fill="#2a2a2a" opacity="0.9"/>
<circle cx="472.63" cy="886.85" r="0.45" fill="#2a2a2a" opacity="0.9"/>
<circle cx="545.10" cy="923.57" r="0.45" fill="#2a2a2a" opacity="0.9"/>
<circle cx="558.29" cy="927.30" r="0.45" fill="#2a2a2a" opacity="0.9"/>
<circle cx="554.30" cy="891.54" r="0.45" fill="#2a2a2a" opacity="0.9"/>
<circle cx="567.59" cy="903.31" r="0.45" fill="#2a2a2a" opacity="0.9"/>
<circle cx="557.05" cy="896.05" r="0.45" fill="#2a2a2a" opacity="0.9"/>
<circle cx="550.15" cy="916.43" r="0.45" fill="#2a2a2a" opacity="0.9"/>
<circle cx="574.56" cy="929.52" r="0.45" fill="#2a2a2a" opacity="0.9"/>
<circle cx="572.73" cy="919.73" r="0.45" fill="#2a2a2a" opacity="0.9"/>
<circle cx="566.37" cy="925.92" r="0.45" fill="#2a2a2a" opacity="0.9"/>
<circle cx="551.73" cy="932.66" r="0.45" fill="#2a2a2a" opacity="0.9"/>
<circle cx="557.48" cy="914.13" r="0.45" fill="#2a2a2a" opacity="0.9"/>
<circle cx="558.98" cy="923.93" r="0.45" fill="#2a2a2a" opacity="0.9"/>
<circle cx="557.67" cy="929.40" r="0.45" fill="#2a2a2a" opacity="0.9"/>
<circle cx="545.82" cy="916.24" r="0.45" fill="#2a2a2a" opacity="0.9"/>
<circle cx="559.13" cy="892.65" r="0.45" fill="#2a2a2a" opacity="0.9"/>
<circle cx="568.80" cy="891.25" r="0.45" fill="#2a2a2a" opacity="0.9"/>
<circle cx="566.50" cy="917.94" r="0.45" fill="#2a2a2a" opacity="0.9"/>
<circle cx="571.67" cy="929.56" r="0.45" fill="#2a2a2a" opacity="0.9"/>
<circle cx="566.17" cy="904.56" r="0.45" fill="#2a2a2a" opacity="0.9"/>
<circle cx="568.64" cy="929.20" r="0.45" fill="#2a2a2a" opacity="0.9"/>
<circle cx="571.99" cy="915.23" r="0.45" fill="#2a2a2a" opacity="0.9"/>
<circle cx="573.43" cy="930.18" r="0.45" fill="#2a2a2a" opacity="0.9"/>
<circle cx="569.58" cy="884.85" r="0.45" fill="#2a2a2a" opacity="0.9"/>
<circle cx="557.90" cy="915.02" r="0.45" fill="#2a2a2a" opacity="0.9"/>
<circle cx="565.45" cy="918.97" r="0.45" fill="#2a2a2a" opacity="0.9"/>
<circle cx="565.41" cy="924.50" r="0.45" fill="#2a2a2a" opacity="0.9"/>
<circle cx="572.36" cy="914.69" r="0.45" fill="#2a2a2a" opacity="0.9"/>
<circle cx="567.12" cy="887.61" r="0.45" fill="#2a2a2a" opacity="0.9"/>
<circle cx="558.75" cy="919.32" r="0.45" fill="#2a2a2a" opacity="0.9"/>
<circle cx="550.91" cy="926.43" r="0.45" fill="#2a2a2a" opacity="0.9"/>
<circle cx="555.15" cy="916.12" r="0.45" fill="#2a2a2a" opacity="0.9"/>
<circle cx="552.76" cy="894.12" r="0.45" fill="#2a2a2a" opacity="0.9"/>
<circle cx="566.14" cy="920.92" r="0.45" fill="#2a2a2a" opacity="0.9"/>
<circle cx="568.85" cy="911.21" r="0.45" fill="#2a2a2a" opacity="0.9"/>
<circle cx="550.95" cy="894.07" r="0.45" fill="#2a2a2a" opacity="0.9"/>
<circle cx="561.54" cy="922.79" r="0.45" fill="#2a2a2a" opacity="0.9"/>
<circle cx="571.05" cy="902.09" r="0.45" fill="#2a2a2a" opacity="0.9"/>
<circle cx="556.33" cy="915.56" r="0.45" fill="#2a2a2a" opacity="0.9"/>
<circle cx="547.94" cy="928.49" r="0.45" fill="#2a2a2a" opacity="0.9"/>
<circle cx="563.77" cy="931.32" r="0.45" fill="#2a2a2a" opacity="0.9"/>
<circle cx="556.23" cy="892.03" r="0.45" fill="#2a2a2a" opacity="0.9"/>
<circle cx="549.46" cy="917.94" r="0.45" fill="#2a2a2a" opacity="0.9"/>
<circle cx="553.93" cy="918.77" r="0.45" fill="#2a2a2a" opacity="0.9"/>
<circle cx="545.21" cy="894.18" r="0.45" fill="#2a2a2a" opacity="0.9"/>
<circle cx="549.62" cy="913.76" r="0.45" fill="#2a2a2a" opacity="0.9"/>
<circle cx="558.19" cy="916.67" r="0.45" fill="#2a2a2a" opacity="0.9"/>
<circle cx="548.25" cy="924.12" r="0.45" fill="#2a2a2a" opacity="0.9"/>
<circle cx="545.19" cy="905.89" r="0.45" fill="#2a2a2a" opacity="0.9"/>
<circle cx="562.05" cy="925.00" r="0.45" fill="#2a2a2a" opacity="0.9"/>
<circle cx="574.69" cy="917.78" r="0.45" fill="#2a2a2a" opacity="0.9"/>
<circle cx="570.85" cy="905.12" r="0.45" fill="#2a2a2a" opacity="0.9"/>
<circle cx="555.11" cy="912.47" r="0.45" fill="#2a2a2a" opacity="0.9"/>
<circle cx="573.66" cy="928.64" r="0.45" fill="#2a2a2a" opacity="0.9"/>
<circle cx="547.47" cy="926.63" r="0.45" fill="#2a2a2a" opacity="0.9"/>
<circle cx="549.66" cy="908.38" r="0.45" fill="#2a2a2a" opacity="0.9"/>
<circle cx="545.21" cy="906.68" r="0.45" fill="#2a2a2a" opacity="0.9"/>
<circle cx="546.81" cy="929.56" r="0.45" fill="#2a2a2a" opacity="0.9"/>
<circle cx="563.66" cy="881.47" r="0.45" fill="#2a2a2a" opacity="0.9"/>
<circle cx="568.47" cy="928.66" r="0.45" fill="#2a2a2a" opacity="0.9"/>
<circle cx="559.81" cy="927.67" r="0.45" fill="#2a2a2a" opacity="0.9"/>
<circle cx="569.90" cy="929.97" r="0.45" fill="#2a2a2a" opacity="0.9"/>
<circle cx="558.99" cy="918.65" r="0.45" fill="#2a2a2a" opacity="0.9"/>
<circle cx="573.48" cy="911.84" r="0.45" fill="#2a2a2a" opacity="0.9"/>
<circle cx="563.85" cy="899.03" r="0.45" fill="#2a2a2a" opacity="0.9"/>
<circle cx="561.65" cy="927.80" r="0.45" fill="#2a2a2a" opacity="0.9"/>
<circle cx="550.29" cy="908.20" r="0.45" fill="#2a2a2a" opacity="0.9"/>
<circle cx="558.22" cy="929.48" r="0.45" fill="#2a2a2a" opacity="0.9"/>
<circle cx="558.65" cy="913.50" r="0.45" fill="#2a2a2a" opacity="0.9"/>
<circle cx="570.51" cy="925.13" r="0.45" fill="#2a2a2a" opacity="0.9"/>
<circle cx="552.12" cy="921.78" r="0.45" fill="#2a2a2a" opacity="0.9"/>
<circle cx="554.13" cy="931.37" r="0.45" fill="#2a2a2a" opacity="0.9"/>
<circle cx="570.31" cy="907.11" r="0.45" fill="#2a2a2a" opacity="0.9"/>
<circle cx="547.20" cy="928.98" r="0.45" fill="#2a2a2a" opacity="0.9"/>
<circle cx="561.65" cy="904.81" r="0.45" fill="#2a2a2a" opacity="0.9"/>
<circle cx="551.81" cy="922.43" r="0.45" fill="#2a2a2a" opacity="0.9"/>
<circle cx="565.62" cy="913.03" r="0.45" fill="#2a2a2a" opacity="0.9"/>
<circle cx="563.43" cy="910.98" r="0.45" fill="#2a2a2a" opacity="0.9"/>
<circle cx="547.92" cy="917.10" r="0.45" fill="#2a2a2a" opacity="0.9"/>
<circle cx="567.64" cy="897.84" r="0.45" fill="#2a2a2a" opacity="0.9"/>
<circle cx="557.63" cy="894.00" r="0.45" fill="#2a2a2a" opacity="0.9"/>
<circle cx="554.94" cy="924.19" r="0.45" fill="#2a2a2a" opacity="0.9"/>
<circle cx="571.55" cy="922.52" r="0.45" fill="#2a2a2a" opacity="0.9"/>
<circle cx="569.14" cy="897.59" r="0.45" fill="#2a2a2a" opacity="0.9"/>
<circle cx="554.60" cy="928.68" r="0.45" fill="#2a2a2a" opacity="0.9"/>
<circle cx="566.01" cy="919.59" r="0.45" fill="#2a2a2a" opacity="0.9"/>
<circle cx="548.83" cy="919.78" r="0.45" fill="#2a2a2a" opacity="0.9"/>
<circle cx="561.09" cy="887.03" r="0.45" fill="#2a2a2a" opacity="0.9"/>
<circle cx="547.56" cy="928.81" r="0.45" fill="#2a2a2a" opacity="0.9"/>
<circle cx="564.86" cy="910.26" r="0.45" fill="#2a2a2a" opacity="0.9"/>
<circle cx="573.40" cy="905.20" r="0.45" fill="#2a2a2a" opacity="0.9"/>
<circle cx="564.73" cy="906.72" r="0.45" fill="#2a2a2a" opacity="0.9"/>
<circle cx="546.26" cy="935.26" r="0.45" fill="#2a2a2a" opacity="0.9"/>
<circle cx="560.91" cy="891.52" r="0.45" fill="#2a2a2a" opacity="0.9"/>
<circle cx="559.55" cy="923.22" r="0.45" fill="#2a2a2a" opacity="0.9"/>
<circle cx="558.73" cy="899.33" r="0.45" fill="#2a2a2a" opacity="0.9"/>
<circle cx="549.69" cy="909.97" r="0.45" fill="#2a2a2a" opacity="0.9"/>
<circle cx="553.62" cy="919.57" r="0.45" fill="#2a2a2a" opacity="0.9"/>
<circle cx="558.94" cy="900.38" r="0.45" fill="#2a2a2a" opacity="0.9"/>
<circle cx="547.20" cy="909.30" r="0.45" fill="#2a2a2a" opacity="0.9"/>
<circle cx="565.91" cy="922.32" r="0.45" fill="#2a2a2a" opacity="0.9"/>
<circle cx="552.55" cy="906.54" r="0.45" fill="#2a2a2a" opacity="0.9"/>
<circle cx="554.00" cy="916.48" r="0.45" fill="#2a2a2a" opacity="0.9"/>
<circle cx="547.82" cy="907.57" r="0.45" fill="#2a2a2a" opacity="0.9"/>
<circle cx="554.38" cy="912.06" r="0.45" fill="#2a2a2a" opacity="0.9"/>
<circle cx="573.87" cy="902.99" r="0.45" fill="#2a2a2a" opacity="0.9"/>
<circle cx="554.05" cy="927.91" r="0.45" fill="#2a2a2a" opacity="0.9"/>
<circle cx="547.97" cy="916.88" r="0.45" fill="#2a2a2a" opacity="0.9"/>
<circle cx="555.72" cy="935.21" r="0.45" fill="#2a2a2a" opacity="0.9"/>
<circle cx="574.30" cy="903.30" r="0.45" fill="#2a2a2a" opacity="0.9"/>
<circle cx="547.73" cy="904.40" r="0.45" fill="#2a2a2a" opacity="0.9"/>
<circle cx="555.62" cy="900.42" r="0.45" fill="#2a2a2a" opacity="0.9"/>
<circle cx="551.48" cy="931.79" r="0.45" fill="#2a2a2a" opacity="0.9"/>
<circle cx="566.14" cy="915.32" r="0.45" fill="#2a2a2a" opacity="0.9"/>
<circle cx="559.31" cy="917.48" r="0.45" fill="#2a2a2a" opacity="0.9"/>
<circle cx="548.05" cy="929.06" r="0.45" fill="#2a2a2a" opacity="0.9"/>
<circle cx="571.73" cy="926.63" r="0.45" fill="#2a2a2a" opacity="0.9"/>
<circle cx="555.17" cy="887.38" r="0.45" fill="#2a2a2a" opacity="0.9"/>
<circle cx="566.27" cy="899.36" r="0.45" fill="#2a2a2a" opacity="0.9"/>
<circle cx="559.04" cy="925.55" r="0.45" fill="#2a2a2a" opacity="0.9"/>
<circle cx="572.02" cy="900.94" r="0.45" fill="#2a2a2a" opacity="0.9"/>
<circle cx="546.80" cy="910.44" r="0.45" fill="#2a2a2a" opacity="0.9"/>
<circle cx="552.07" cy="920.81" r="0.45" fill="#2a2a2a" opacity="0.9"/>
<circle cx="553.85" cy="910.73" r="0.45" fill="#2a2a2a" opacity="0.9"/>
<circle cx="553.19" cy="925.83" r="0.45" fill="#2a2a2a" opacity="0.9"/>
<circle cx="570.48" cy="924.45" r="0.45" fill="#2a2a2a" opacity="0.9"/>
<circle cx="560.57" cy="933.91" r="0.45" fill="#2a2a2a" opacity="0.9"/>
<circle cx="555.75" cy="910.19" r="0.45" fill="#2a2a2a" opacity="0.9"/>
<circle cx="560.71" cy="913.46" r="0.45" fill="#2a2a2a" opacity="0.9"/>
<circle cx="571.22" cy="905.93" r="0.45" fill="#2a2a2a" opacity="0.9"/>
<circle cx="562.66" cy="916.53" r="0.45" fill="#2a2a2a" opacity="0.9"/>
<circle cx="558.99" cy="919.07" r="0.45" fill="#2a2a2a" opacity="0.9"/>
<circle cx="565.36" cy="923.41" r="0.45" fill="#2a2a2a" opacity="0.9"/>
<circle cx="564.07" cy="906.36" r="0.45" fill="#2a2a2a" opacity="0.9"/>
<circle cx="557.57" cy="921.22" r="0.45" fill="#2a2a2a" opacity="0.9"/>
<circle cx="558.22" cy="912.81" r="0.45" fill="#2a2a2a" opacity="0.9"/>
<circle cx="549.08" cy="905.17" r="0.45" fill="#2a2a2a" opacity="0.9"/>
<circle cx="558.61" cy="918.72" r="0.45" fill="#2a2a2a" opacity="0.9"/>
<circle cx="572.25" cy="908.81" r="0.45" fill="#2a2a2a" opacity="0.9"/>
<circle cx="554.49" cy="930.99" r="0.45" fill="#2a2a2a" opacity="0.9"/>
<circle cx="556.32" cy="924.86" r="0.45" fill="#2a2a2a" opacity="0.9"/>
<circle cx="563.70" cy="900.18" r="0.45" fill="#2a2a2a" opacity="0.9"/>
<circle cx="563.30" cy="928.26" r="0.45" fill="#2a2a2a" opacity="0.9"/>
<circle cx="550.44" cy="931.18" r="0.45" fill="#2a2a2a" opacity="0.9"/>
<circle cx="558.82" cy="933.52" r="0.45" fill="#2a2a2a" opacity="0.9"/>
<circle cx="567.75" cy="904.71" r="0.45" fill="#2a2a2a" opacity="0.9"/>
<circle cx="546.28" cy="929.45" r="0.45" fill="#2a2a2a" opacity="0.9"/>
<circle cx="548.37" cy="918.23" r="0.45" fill="#2a2a2a" opacity="0.9"/>
<circle cx="568.42" cy="918.94" r="0.45" fill="#2a2a2a" opacity="0.9"/>
<circle cx="573.06" cy="902.58" r="0.45" fill="#2a2a2a" opacity="0.9"/>
<circle cx="547.09" cy="917.55" r="0.45" fill="#2a2a2a" opacity="0.9"/>
<circle cx="547.52" cy="915.84" r="0.45" fill="#2a2a2a" opacity="0.9"/>
<circle cx="564.42" cy="932.79" r="0.45" fill="#2a2a2a" opacity="0.9"/>
<circle cx="553.82" cy="903.04" r="0.45" fill="#2a2a2a" opacity="0.9"/>
<circle cx="565.35" cy="904.63" r="0.45" fill="#2a2a2a" opacity="0.9"/>
<circle cx="546.06" cy="911.67" r="0.45" fill="#2a2a2a" opacity="0.9"/>
<circle cx="559.15" cy="900.57" r="0.45" fill="#2a2a2a" opacity="0.9"/>
<circle cx="550.01" cy="912.08" r="0.45" fill="#2a2a2a" opacity="0.9"/>
<circle cx="555.30" cy="907.34" r="0.45" fill="#2a2a2a" opacity="0.9"/>
<circle cx="566.50" cy="899.48" r="0.45" fill="#2a2a2a" opacity="0.9"/>
<circle cx="560.81" cy="911.93" r="0.45" fill="#2a2a2a" opacity="0.9"/>
<circle cx="571.46" cy="933.08" r="0.45" fill="#2a2a2a" opacity="0.9"/>
<circle cx="571.09" cy="897.00" r="0.45" fill="#2a2a2a" opacity="0.9"/>
<circle cx="564.20" cy="884.28" r="0.45" fill="#2a2a2a" opacity="0.9"/>
<circle cx="571.27" cy="926.67" r="0.45" fill="#2a2a2a" opacity="0.9"/>
<circle cx="550.50" cy="930.82" r="0.45" fill="#2a2a2a" opacity="0.9"/>
<circle cx="559.71" cy="922.32" r="0.45" fill="#2a2a2a" opacity="0.9"/>
<circle cx="554.91" cy="929.64" r="0.45" fill="#2a2a2a" opacity="0.9"/>
<circle cx="564.37" cy="921.34" r="0.45" fill="#2a2a2a" opacity="0.9"/>
<circle cx="548.45" cy="929.99" r="0.45" fill="#2a2a2a" opacity="0.9"/>
<circle cx="572.44" cy="926.10" r="0.45" fill="#2a2a2a" opacity="0.9"/>
<circle cx="603.00" cy="924.37" r="0.45" fill="#2a2a2a" opacity="0.9"/>
<circle cx="585.37" cy="907.87" r="0.45" fill="#2a2a2a" opacity="0.9"/>
<circle cx="599.66" cy="896.52" r="0.45" fill="#2a2a2a" opacity="0.9"/>
<circle cx="604.53" cy="896.79" r="0.45" fill="#2a2a2a" opacity="0.9"/>
<circle cx="594.26" cy="923.74" r="0.45" fill="#2a2a2a" opacity="0.9"/>
<circle cx="605.21" cy="903.51" r="0.45" fill="#2a2a2a" opacity="0.9"/>
<circle cx="595.40" cy="887.26" r="0.45" fill="#2a2a2a" opacity="0.9"/>
<circle cx="603.11" cy="931.36" r="0.45" fill="#2a2a2a" opacity="0.9"/>
<circle cx="603.04" cy="909.75" r="0.45" fill="#2a2a2a" opacity="0.9"/>
<circle cx="604.77" cy="910.75" r="0.45" fill="#2a2a2a" opacity="0.9"/>
<circle cx="612.69" cy="921.50" r="0.45" fill="#2a2a2a" opacity="0.9"/>
<circle cx="605.94" cy="927.20" r="0.45" fill="#2a2a2a" opacity="0.9"/>
<circle cx="605.99" cy="930.18" r="0.45" fill="#2a2a2a" opacity="0.9"/>
<circle cx="605.83" cy="923.04" r="0.45" fill="#2a2a2a" opacity="0.9"/>
<circle cx="591.15" cy="897.62" r="0.45" fill="#2a2a2a" opacity="0.9"/>
<circle cx="603.04" cy="923.36" r="0.45" fill="#2a2a2a" opacity="0.9"/>
<circle cx="603.23" cy="927.86" r="0.45" fill="#2a2a2a" opacity="0.9"/>
<circle cx="585.89" cy="915.50" r="0.45" fill="#2a2a2a" opacity="0.9"/>
<circle cx="607.38" cy="922.19" r="0.45" fill="#2a2a2a" opacity="0.9"/>
<circle cx="591.03" cy="915.74" r="0.45" fill="#2a2a2a" opacity="0.9"/>
<circle cx="599.26" cy="921.61" r="0.45" fill="#2a2a2a" opacity="0.9"/>
<circle cx="600.24" cy="926.95" r="0.45" fill="#2a2a2a" opacity="0.9"/>
<circle cx="606.39" cy="933.86" r="0.45" fill="#2a2a2a" opacity="0.9"/>
<circle cx="607.72" cy="905.92" r="0.45" fill="#2a2a2a" opacity="0.9"/>
<circle cx="598.51" cy="913.85" r="0.45" fill="#2a2a2a" opacity="0.9"/>
<circle cx="613.13" cy="928.20" r="0.45" fill="#2a2a2a" opacity="0.9"/>
<circle cx="597.73" cy="920.05" r="0.45" fill="#2a2a2a" opacity="0.9"/>
<circle cx="601.56" cy="917.03" r="0.45" fill="#2a2a2a" opacity="0.9"/>
<circle cx="614.74" cy="919.90" r="0.45" fill="#2a2a2a" opacity="0.9"/>
<circle cx="594.04" cy="900.32" r="0.45" fill="#2a2a2a" opacity="0.9"/>
<circle cx="606.13" cy="908.15" r="0.45" fill="#2a2a2a" opacity="0.9"/>
<circle cx="613.65" cy="926.35" r="0.45" fill="#2a2a2a" opacity="0.9"/>
<circle cx="586.62" cy="925.36" r="0.45" fill="#2a2a2a" opacity="0.9"/>
<circle cx="608.09" cy="915.81" r="0.45" fill="#2a2a2a" opacity="0.9"/>
<circle cx="604.21" cy="930.49" r="0.45" fill="#2a2a2a" opacity="0.9"/>
<circle cx="600.73" cy="897.40" r="0.45" fill="#2a2a2a" opacity="0.9"/>
<circle cx="608.48" cy="933.59" r="0.45" fill="#2a2a2a" opacity="0.9"/>
<circle cx="610.66" cy="920.05" r="0.45" fill="#2a2a2a" opacity="0.9"/>
<circle cx="588.55" cy="927.33" r="0.45" fill="#2a2a2a" opacity="0.9"/>
<circle cx="599.08" cy="919.09" r="0.45" fill="#2a2a2a" opacity="0.9"/>
<circle cx="603.08" cy="933.59" r="0.45" fill="#2a2a2a" opacity="0.9"/>
<circle cx="605.66" cy="928.76" r="0.45" fill="#2a2a2a" opacity="0.9"/>
<circle cx="613.71" cy="889.77" r="0.45" fill="#2a2a2a" opacity="0.9"/>
<circle cx="608.89" cy="907.64" r="0.45" fill="#2a2a2a" opacity="0.9"/>
<circle cx="609.68" cy="928.85" r="0.45" fill="#2a2a2a" opacity="0.9"/>
<circle cx="586.00" cy="921.56" r="0.45" fill="#2a2a2a" opacity="0.9"/>
<circle cx="597.22" cy="933.95" r="0.45" fill="#2a2a2a" opacity="0.9"/>
<circle cx="612.32" cy="931.58" r="0.45" fill="#2a2a2a" opacity="0.9"/>
<circle cx="613.33" cy="929.67" r="0.45" fill="#2a2a2a" opacity="0.9"/>
<circle cx="607.44" cy="890.81" r="0.45" fill="#2a2a2a" opacity="0.9"/>
<circle cx="594.34" cy="926.18" r="0.45" fill="#2a2a2a" opacity="0.9"/>
<circle cx="607.86" cy="928.08" r="0.45" fill="#2a2a2a" opacity="0.9"/>
<circle cx="600.48" cy="933.08" r="0.45" fill="#2a2a2a" opacity="0.9"/>
<circle cx="604.69" cy="931.90" r="0.45" fill="#2a2a2a" opacity="0.9"/>
<circle cx="603.76" cy="887.94" r="0.45" fill="#2a2a2a" opacity="0.9"/>
<circle cx="610.82" cy="910.12" r="0.45" fill="#2a2a2a" opacity="0.9"/>
<circle cx="606.14" cy="898.69" r="0.45" fill="#2a2a2a" opacity="0.9"/>
<circle cx="614.08" cy="904.87" r="0.45" fill="#2a2a2a" opacity="0.9"/>
<circle cx="599.30" cy="907.93" r="0.45" fill="#2a2a2a" opacity="0.9"/>
<circle cx="599.30" cy="927.87" r="0.45" fill="#2a2a2a" opacity="0.9"/>
<circle cx="604.38" cy="930.30" r="0.45" fill="#2a2a2a" opacity="0.9"/>
<circle cx="601.42" cy="927.43" r="0.45" fill="#2a2a2a" opacity="0.9"/>
<circle cx="585.52" cy="933.07" r="0.45" fill="#2a2a2a" opacity="0.9"/>
<circle cx="613.74" cy="930.13" r="0.45" fill="#2a2a2a" opacity="0.9"/>
<circle cx="593.88" cy="911.10" r="0.45" fill="#2a2a2a" opacity="0.9"/>
<circle cx="599.49" cy="920.35" r="0.45" fill="#2a2a2a" opacity="0.9"/>
<circle cx="585.31" cy="934.79" r="0.45" fill="#2a2a2a" opacity="0.9"/>
<circle cx="589.90" cy="926.40" r="0.45" fill="#2a2a2a" opacity="0.9"/>
<circle cx="612.79" cy="903.99" r="0.45" fill="#2a2a2a" opacity="0.9"/>
<circle cx="592.60" cy="903.90" r="0.45" fill="#2a2a2a" opacity="0.9"/>
<circle cx="593.26" cy="910.64" r="0.45" fill="#2a2a2a" opacity="0.9"/>
<circle cx="609.17" cy="910.54" r="0.45" fill="#2a2a2a" opacity="0.9"/>
<circle cx="591.48" cy="899.43" r="0.45" fill="#2a2a2a" opacity="0.9"/>
<circle cx="604.69" cy="917.94" r="0.45" fill="#2a2a2a" opacity="0.9"/>
<circle cx="601.62" cy="923.96" r="0.45" fill="#2a2a2a" opacity="0.9"/>
<circle cx="611.79" cy="917.33" r="0.45" fill="#2a2a2a" opacity="0.9"/>
<circle cx="598.78" cy="927.06" r="0.45" fill="#2a2a2a" opacity="0.9"/>
<circle cx="594.19" cy="933.83" r="0.45" fill="#2a2a2a" opacity="0.9"/>
<circle cx="592.03" cy="927.72" r="0.45" fill="#2a2a2a" opacity="0.9"/>
<circle cx="595.28" cy="921.51" r="0.45" fill="#2a2a2a" opacity="0.9"/>
<circle cx="584.00" cy="931.63" r="0.45" fill="#2a2a2a" opacity="0.9"/>
<circle cx="587.70" cy="932.68" r="0.45" fill="#2a2a2a" opacity="0.9"/>
<circle cx="588.61" cy="928.09" r="0.45" fill="#2a2a2a" opacity="0.9"/>
<circle cx="593.75" cy="924.44" r="0.45" fill="#2a2a2a" opacity="0.9"/>
<circle cx="607.82" cy="894.92" r="0.45" fill="#2a2a2a" opacity="0.9"/>
<circle cx="613.20" cy="920.49" r="0.45" fill="#2a2a2a" opacity="0.9"/>
<circle cx="594.98" cy="904.79" r="0.45" fill="#2a2a2a" opacity="0.9"/>
<circle cx="591.74" cy="909.91" r="0.45" fill="#2a2a2a" opacity="0.9"/>
<circle cx="593.09" cy="916.58" r="0.45" fill="#2a2a2a" opacity="0.9"/>
<circle cx="603.50" cy="925.87" r="0.45" fill="#2a2a2a" opacity="0.9"/>
<circle cx="598.84" cy="923.66" r="0.45" fill="#2a2a2a" opacity="0.9"/>
<circle cx="587.64" cy="926.02" r="0.45" fill="#2a2a2a" opacity="0.9"/>
<circle cx="600.24" cy="914.89" r="0.45" fill="#2a2a2a" opacity="0.9"/>
<circle cx="592.34" cy="903.64" r="0.45" fill="#2a2a2a" opacity="0.9"/>
<circle cx="588.47" cy="907.50" r="0.45" fill="#2a2a2a" opacity="0.9"/>
<circle cx="608.34" cy="926.68" r="0.45" fill="#2a2a2a" opacity="0.9"/>
<circle cx="587.26" cy="930.84" r="0.45" fill="#2a2a2a" opacity="0.9"/>
<circle cx="597.62" cy="934.88" r="0.45" fill="#2a2a2a" opacity="0.9"/>
<circle cx="607.74" cy="916.89" r="0.45" fill="#2a2a2a" opacity="0.9"/>
<circle cx="600.83" cy="928.65" r="0.45" fill="#2a2a2a" opacity="0.9"/>
<circle cx="611.08" cy="935.09" r="0.45" fill="#2a2a2a" opacity="0.9"/>
<circle cx="593.83" cy="926.48" r="0.45" fill="#2a2a2a" opacity="0.9"/>
<circle cx="613.34" cy="928.64" r="0.45" fill="#2a2a2a" opacity="0.9"/>
<circle cx="585.35" cy="929.29" r="0.45" fill="#2a2a2a" opacity="0.9"/>
<circle cx="611.75" cy="913.61" r="0.45" fill="#2a2a2a" opacity="0.9"/>
<circle cx="597.15" cy="916.90" r="0.45" fill="#2a2a2a" opacity="0.9"/>
<circle cx="584.10" cy="927.08" r="0.45" fill="#2a2a2a" opacity="0.9"/>
<circle cx="592.04" cy="910.58" r="0.45" fill="#2a2a2a" opacity="0.9"/>
<circle cx="614.65" cy="929.26" r="0.45" fill="#2a2a2a" opacity="0.9"/>
<circle cx="606.21" cy="898.61" r="0.45" fill="#2a2a2a" opacity="0.9"/>
<circle cx="606.85" cy="931.66" r="0.45" fill="#2a2a2a" opacity="0.9"/>
<circle cx="609.14" cy="916.60" r="0.45" fill="#2a2a2a" opacity="0.9"/>
<circle cx="584.20" cy="911.80" r="0.45" fill="#2a2a2a" opacity="0.9"/>
<circle cx="593.51" cy="910.50" r="0.45" fill="#2a2a2a" opacity="0.9"/>
<circle cx="598.44" cy="920.48" r="0.45" fill="#2a2a2a" opacity="0.9"/>
<circle cx="612.19" cy="902.52" r="0.45" fill="#2a2a2a" opacity="0.9"/>
<circle cx="612.15" cy="915.10" r="0.45" fill="#2a2a2a" opacity="0.9"/>
<circle cx="588.63" cy="912.44" r="0.45" fill="#2a2a2a" opacity="0.9"/>
<circle cx="614.61" cy="932.72" r="0.45" fill="#2a2a2a" opacity="0.9"/>
<circle cx="601.18" cy="929.81" r="0.45" fill="#2a2a2a" opacity="0.9"/>
<circle cx="593.44" cy="921.23" r="0.45" fill="#2a2a2a" opacity="0.9"/>
<circle cx="586.56" cy="918.39" r="0.45" fill="#2a2a2a" opacity="0.9"/>
<circle cx="597.23" cy="932.29" r="0.45" fill="#2a2a2a" opacity="0.9"/>
<circle cx="600.14" cy="910.04" r="0.45" fill="#2a2a2a" opacity="0.9"/>
<circle cx="598.06" cy="925.12" r="0.45" fill="#2a2a2a" opacity="0.9"/>
<circle cx="593.62" cy="920.90" r="0.45" fill="#2a2a2a" opacity="0.9"/>
<circle cx="613.38" cy="919.24" r="0.45" fill="#2a2a2a" opacity="0.9"/>
<circle cx="598.73" cy="904.68" r="0.45" fill="#2a2a2a" opacity="0.9"/>
<circle cx="593.54" cy="926.48" r="0.45" fill="#2a2a2a" opacity="0.9"/>
<circle cx="608.10" cy="917.84" r="0.45" fill="#2a2a2a" opacity="0.9"/>
<circle cx="591.57" cy="916.06" r="0.45" fill="#2a2a2a" opacity="0.9"/>
<circle cx="597.11" cy="914.00" r="0.45" fill="#2a2a2a" opacity="0.9"/>
<circle cx="587.23" cy="926.17" r="0.45" fill="#2a2a2a" opacity="0.9"/>
<circle cx="591.38" cy="927.16" r="0.45" fill="#2a2a2a" opacity="0.9"/>
<circle cx="614.91" cy="921.07" r="0.45" fill="#2a2a2a" opacity="0.9"/>
<circle cx="603.26" cy="916.24" r="0.45" fill="#2a2a2a" opacity="0.9"/>
<circle cx="600.23" cy="914.45" r="0.45" fill="#2a2a2a" opacity="0.9"/>
<circle cx="604.87" cy="931.26" r="0.45" fill="#2a2a2a" opacity="0.9"/>
<circle cx="604.84" cy="921.90" r="0.45" fill="#2a2a2a" opacity="0.9"/>
<circle cx="600.16" cy="917.82" r="0.45" fill="#2a2a2a" opacity="0.9"/>
<circle cx="595.37" cy="929.59" r="0.45" fill="#2a2a2a" opacity="0.9"/>
<circle cx="588.57" cy="932.11" r="0.45" fill="#2a2a2a" opacity="0.9"/>
<circle cx="584.91" cy="897.90" r="0.45" fill="#2a2a2a" opacity="0.9"/>
<circle cx="587.75" cy="934.34" r="0.45" fill="#2a2a2a" opacity="0.9"/>
<circle cx="596.56" cy="920.08" r="0.45" fill="#2a2a2a" opacity="0.9"/>
<circle cx="584.32" cy="926.70" r="0.45" fill="#2a2a2a" opacity="0.9"/>
<circle cx="604.91" cy="933.99" r="0.45" fill="#2a2a2a" opacity="0.9"/>
<circle cx="594.46" cy="927.43" r="0.45" fill="#2a2a2a" opacity="0.9"/>
<circle cx="591.24" cy="930.51" r="0.45" fill="#2a2a2a" opacity="0.9"/>
<circle cx="593.72" cy="923.42" r="0.45" fill="#2a2a2a" opacity="0.9"/>
<circle cx="599.28" cy="899.60" r="0.45" fill="#2a2a2a" opacity="0.9"/>
<circle cx="590.50" cy="932.71" r="0.45" fill="#2a2a2a" opacity="0.9"/>
<circle cx="610.42" cy="924.96" r="0.45" fill="#2a2a2a" opacity="0.9"/>
<circle cx="598.97" cy="912.25" r="0.45" fill="#2a2a2a" opacity="0.9"/>
<circle cx="586.13" cy="915.28" r="0.45" fill="#2a2a2a" opacity="0.9"/>
<circle cx="586.64" cy="934.34" r="0.45" fill="#2a2a2a" opacity="0.9"/>
<circle cx="611.60" cy="928.63" r="0.45" fill="#2a2a2a" opacity="0.9"/>
<circle cx="601.92" cy="927.10" r="0.45" fill="#2a2a2a" opacity="0.9"/>
<circle cx="593.03" cy="900.79" r="0.45" fill="#2a2a2a" opacity="0.9"/>
<circle cx="606.10" cy="922.03" r="0.45" fill="#2a2a2a" opacity="0.9"/>
<circle cx="585.43" cy="927.80" r="0.45" fill="#2a2a2a" opacity="0.9"/>
<circle cx="611.56" cy="920.73" r="0.45" fill="#2a2a2a" opacity="0.9"/>
<circle cx="613.03" cy="920.56" r="0.45" fill="#2a2a2a" opacity="0.9"/>
<circle cx="604.60" cy="930.84" r="0.45" fill="#2a2a2a" opacity="0.9"/>
<circle cx="585.56" cy="913.50" r="0.45" fill="#2a2a2a" opacity="0.9"/>
<circle cx="597.20" cy="911.05" r="0.45" fill="#2a2a2a" opacity="0.9"/>
<circle cx="609.94" cy="920.83" r="0.45" fill="#2a2a2a" opacity="0.9"/>
<circle cx="602.40" cy="918.68" r="0.45" fill="#2a2a2a" opacity="0.9"/>
<circle cx="590.48" cy="908.57" r="0.45" fill="#2a2a2a" opacity="0.9"/>
<circle cx="591.27" cy="895.01" r="0.45" fill="#2a2a2a" opacity="0.9"/>
</svg>
</body></html>
